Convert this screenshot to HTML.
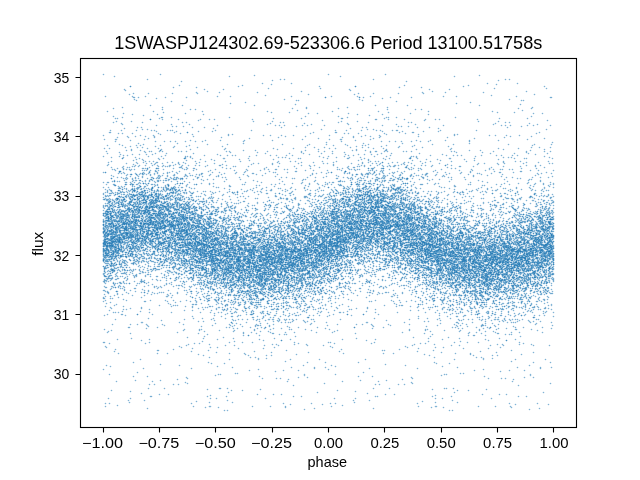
<!DOCTYPE html>
<html><head><meta charset="utf-8">
<style>
html,body{margin:0;padding:0;background:#fff;width:640px;height:480px;overflow:hidden}
svg{display:block;will-change:transform}
text{font-family:"Liberation Sans",sans-serif;fill:#000}
</style></head><body>
<svg width="640" height="480" viewBox="0 0 640 480">
<rect width="640" height="480" fill="#fff"/>
<defs><g id="a"><path d="M103 156h0m0 16h0m0 27h0m0 21h0m0 0h0m0 4h0m0 1h0m0 3h0m0 0h0m0 5h0m0 10h0m0 3h0m0 2h0m0 1h0m0 1h0m0 10h0m0 0h0m0 6h0m0 32h0m0 3h0m0 41h0m0 27h0m1-230h0m0 77h0m0 12h0m0 1h0m0 1h0m0 11h0m0 1h0m0 8h0m0 6h0m0 1h0m0 2h0m0 16h0m0 6h0m0 9h0m0 39h0m1-137h0m0 3h0m0 8h0m0 3h0m0 20h0m0 3h0m0 1h0m0 3h0m0 6h0m0 1h0m0 4h0m0 12h0m0 20h0m0 70h0m1-135h0m0 3h0m0 6h0m0 8h0m0 13h0m0 4h0m0 1h0m0 2h0m0 4h0m0 2h0m0 0h0m0 1h0m0 2h0m0 3h0m0 5h0m0 15h0m0 1h0m1-170h0m0 71h0m0 21h0m0 8h0m0 2h0m0 1h0m0 11h0m0 14h0m0 2h0m0 5h0m0 3h0m0 0h0m0 4h0m0 1h0m0 2h0m0 4h0m0 1h0m0 13h0m1-63h0m0 1h0m0 4h0m0 1h0m0 1h0m0 2h0m0 3h0m0 12h0m0 4h0m0 10h0m0 4h0m0 8h0m0 17h0m0 3h0m1-86h0m0 7h0m0 0h0m0 11h0m0 7h0m0 4h0m0 15h0m0 1h0m0 2h0m0 1h0m0 0h0m0 9h0m0 12h0m0 7h0m0 39h0m1-109h0m0 12h0m0 2h0m0 4h0m0 0h0m0 5h0m0 14h0m0 1h0m0 6h0m0 10h0m0 1h0m0 5h0m0 5h0m1-109h0m0 33h0m0 13h0m0 2h0m0 7h0m0 11h0m0 3h0m0 6h0m0 4h0m0 4h0m0 4h0m0 2h0m0 8h0m0 3h0m0 5h0m0 0h0m0 1h0m0 12h0m0 11h0m1-117h0m0 34h0m0 19h0m0 7h0m0 3h0m0 3h0m0 0h0m0 5h0m0 2h0m0 2h0m0 2h0m0 4h0m0 8h0m0 28h0m0 38h0m1-112h0m0 13h0m0 6h0m0 6h0m0 1h0m0 3h0m0 5h0m0 7h0m0 7h0m0 9h0m0 2h0m1-86h0m0 32h0m0 17h0m0 2h0m0 22h0m0 12h0m0 25h0m0 10h0m0 46h0m1-119h0m0 2h0m0 0h0m0 2h0m0 2h0m0 1h0m0 1h0m0 1h0m0 6h0m0 0h0m0 2h0m0 1h0m1-23h0m0 1h0m0 7h0m0 4h0m0 3h0m0 7h0m0 0h0m0 7h0m0 8h0m0 9h0m0 18h0m1-154h0m0 55h0m0 1h0m0 6h0m0 10h0m0 6h0m0 6h0m0 6h0m0 4h0m0 1h0m0 4h0m0 5h0m0 1h0m0 10h0m0 8h0m0 7h0m0 16h0m1-97h0m0 2h0m0 10h0m0 3h0m0 10h0m0 1h0m0 8h0m0 7h0m0 13h0m0 1h0m0 0h0m0 1h0m0 2h0m0 2h0m0 2h0m0 2h0m0 7h0m0 40h0m0 15h0m1-160h0m0 20h0m0 15h0m0 9h0m0 15h0m0 3h0m0 4h0m0 3h0m0 7h0m0 0h0m0 2h0m0 7h0m0 4h0m0 8h0m0 9h0m1-41h0m0 1h0m0 4h0m0 0h0m0 0h0m0 3h0m0 5h0m0 15h0m0 11h0m0 15h0m0 17h0m1-96h0m0 2h0m0 5h0m0 5h0m0 6h0m0 6h0m0 1h0m0 3h0m0 7h0m0 7h0m0 4h0m0 8h0m0 4h0m0 1h0m0 12h0m1-118h0m0 61h0m0 4h0m0 6h0m0 1h0m0 3h0m0 6h0m0 7h0m0 8h0m0 11h0m0 62h0m1-136h0m0 14h0m0 5h0m0 17h0m0 16h0m0 0h0m0 3h0m0 2h0m0 1h0m0 3h0m0 42h0m0 25h0m1-217h0m0 84h0m0 26h0m0 12h0m0 12h0m0 1h0m0 4h0m0 3h0m0 7h0m0 5h0m0 6h0m0 12h0m0 22h0m1-82h0m0 7h0m0 3h0m0 2h0m0 3h0m0 12h0m0 4h0m0 0h0m0 4h0m0 7h0m0 9h0m0 8h0m0 3h0m0 10h0m1-78h0m0 0h0m0 0h0m0 15h0m0 5h0m0 7h0m0 2h0m0 6h0m0 4h0m0 1h0m0 3h0m0 14h0m1-60h0m0 17h0m0 10h0m0 1h0m0 0h0m0 3h0m0 4h0m0 20h0m0 29h0m1-86h0m0 18h0m0 0h0m0 8h0m0 1h0m0 2h0m0 1h0m0 8h0m1-61h0m0 36h0m0 4h0m0 2h0m0 1h0m0 22h0m0 1h0m0 4h0m0 7h0m0 23h0m1-181h0m0 84h0m0 12h0m0 19h0m0 3h0m0 16h0m0 7h0m0 1h0m0 2h0m0 2h0m0 2h0m0 13h0m0 1h0m0 2h0m0 0h0m0 5h0m0 14h0m0 64h0m0 65h0m1-248h0m0 44h0m0 3h0m0 4h0m0 7h0m0 2h0m0 11h0m0 1h0m0 4h0m0 2h0m0 0h0m0 9h0m0 2h0m0 2h0m0 8h0m1-153h0m0 85h0m0 5h0m0 3h0m0 3h0m0 3h0m0 10h0m0 5h0m0 4h0m0 7h0m0 13h0m0 3h0m0 5h0m0 0h0m0 3h0m0 3h0m0 6h0m1-94h0m0 4h0m0 34h0m0 6h0m0 4h0m0 0h0m0 0h0m0 8h0m0 4h0m0 0h0m0 1h0m0 0h0m0 3h0m0 6h0m0 5h0m0 1h0m0 0h0m0 22h0m0 4h0m0 1h0m0 0h0m0 6h0m0 93h0m1-263h0m0 67h0m0 16h0m0 6h0m0 2h0m0 9h0m0 18h0m0 7h0m0 53h0m0 11h0m1-111h0m0 27h0m0 7h0m0 5h0m0 6h0m0 3h0m0 2h0m0 1h0m0 3h0m0 2h0m0 3h0m0 5h0m0 5h0m0 8h0m0 9h0m0 12h0m1-74h0m0 3h0m0 5h0m0 1h0m0 10h0m0 15h0m0 1h0m0 5h0m0 6h0m0 7h0m0 5h0m0 15h0m1-99h0m0 13h0m0 9h0m0 1h0m0 1h0m0 3h0m0 4h0m0 10h0m0 1h0m0 7h0m0 18h0m0 4h0m0 2h0m0 1h0m0 11h0m0 23h0m0 41h0m1-146h0m0 10h0m0 25h0m0 6h0m0 0h0m0 6h0m0 1h0m0 13h0m0 7h0m0 16h0m0 1h0m1-105h0m0 7h0m0 17h0m0 12h0m0 4h0m0 4h0m0 2h0m0 5h0m0 2h0m0 14h0m0 1h0m0 12h0m0 20h0m1-78h0m0 6h0m0 9h0m0 11h0m0 14h0m0 3h0m0 9h0m0 5h0m0 1h0m0 7h0m1-118h0m0 61h0m0 3h0m0 13h0m0 6h0m0 10h0m0 0h0m0 2h0m0 4h0m0 1h0m0 1h0m0 8h0m0 5h0m0 4h0m0 9h0m0 27h0m1-107h0m0 37h0m0 4h0m0 4h0m0 8h0m0 3h0m0 0h0m0 14h0m1-70h0m0 14h0m0 4h0m0 8h0m0 10h0m0 1h0m0 2h0m0 10h0m0 2h0m0 6h0m0 3h0m0 11h0m0 8h0m0 16h0m1-83h0m0 1h0m0 3h0m0 12h0m0 8h0m0 1h0m0 9h0m0 4h0m0 0h0m0 7h0m0 1h0m0 6h0m0 5h0m0 7h0m0 3h0m0 8h0m0 21h0m0 10h0m0 108h0m1-248h0m0 13h0m0 18h0m0 10h0m0 10h0m0 7h0m0 9h0m0 2h0m0 6h0m0 0h0m0 12h0m0 2h0m0 3h0m0 4h0m0 27h0m1-87h0m0 7h0m0 8h0m0 1h0m0 5h0m0 20h0m0 1h0m0 4h0m0 0h0m0 4h0m0 3h0m0 0h0m0 12h0m0 0h0m1-55h0m0 8h0m0 3h0m0 6h0m0 22h0m0 9h0m0 9h0m0 13h0m1-95h0m0 25h0m0 12h0m0 4h0m0 3h0m0 11h0m0 2h0m0 3h0m0 9h0m0 0h0m0 24h0m0 19h0m0 5h0m0 98h0m1-221h0m0 4h0m0 1h0m0 36h0m0 2h0m0 2h0m0 1h0m0 3h0m0 4h0m0 37h0m0 85h0m1-223h0m0 56h0m0 29h0m0 14h0m0 4h0m0 2h0m0 9h0m0 8h0m0 3h0m0 16h0m0 40h0m1-137h0m0 14h0m0 13h0m0 5h0m0 11h0m0 9h0m0 2h0m0 9h0m0 1h0m0 18h0m1-61h0m0 4h0m0 12h0m0 2h0m0 13h0m0 2h0m0 1h0m0 6h0m0 3h0m0 4h0m0 2h0m0 2h0m0 5h0m0 5h0m0 0h0m0 2h0m0 1h0m0 6h0m0 7h0m1-83h0m0 19h0m0 1h0m0 2h0m0 1h0m0 4h0m0 2h0m0 2h0m0 4h0m0 4h0m0 5h0m0 2h0m0 5h0m0 12h0m0 5h0m0 5h0m1-38h0m0 4h0m0 6h0m0 4h0m0 4h0m0 1h0m0 6h0m0 15h0m0 40h0m1-130h0m0 30h0m0 3h0m0 3h0m0 4h0m0 8h0m0 4h0m0 4h0m0 0h0m0 2h0m0 1h0m0 2h0m0 9h0m0 10h0m0 25h0m0 2h0m1-74h0m0 8h0m0 2h0m0 1h0m0 14h0m0 3h0m0 4h0m0 4h0m0 2h0m0 5h0m0 6h0m1-80h0m0 7h0m0 17h0m0 1h0m0 6h0m0 8h0m0 1h0m0 9h0m0 3h0m0 5h0m0 1h0m0 1h0m0 3h0m0 2h0m0 3h0m0 2h0m0 5h0m0 11h0m0 8h0m0 4h0m1-114h0m0 18h0m0 9h0m0 1h0m0 11h0m0 3h0m0 1h0m0 7h0m0 21h0m0 2h0m0 4h0m0 6h0m0 3h0m0 6h0m0 1h0m0 5h0m0 2h0m0 1h0m0 3h0m1-134h0m0 57h0m0 2h0m0 1h0m0 28h0m0 4h0m0 4h0m0 8h0m0 5h0m0 1h0m0 7h0m0 6h0m0 0h0m0 28h0m1-195h0m0 102h0m0 15h0m0 13h0m0 3h0m0 2h0m0 6h0m0 2h0m0 7h0m0 13h0m0 6h0m0 8h0m0 4h0m0 4h0m0 2h0m0 103h0m1-215h0m0 7h0m0 39h0m0 14h0m0 2h0m0 6h0m0 5h0m0 20h0m0 1h0m0 9h0m0 10h0m0 6h0m0 52h0m1-213h0m0 44h0m0 24h0m0 23h0m0 20h0m0 2h0m0 3h0m0 0h0m0 2h0m0 3h0m0 10h0m0 5h0m0 5h0m0 1h0m0 0h0m0 2h0m0 5h0m0 8h0m1-76h0m0 1h0m0 7h0m0 7h0m0 9h0m0 2h0m0 2h0m0 4h0m0 5h0m0 2h0m0 6h0m0 3h0m0 6h0m0 6h0m0 7h0m0 8h0m1-60h0m0 15h0m0 10h0m0 3h0m0 2h0m0 6h0m0 3h0m0 1h0m0 3h0m0 2h0m0 14h0m0 126h0m1-197h0m0 5h0m0 25h0m0 4h0m0 1h0m0 4h0m0 1h0m0 3h0m0 3h0m0 11h0m0 7h0m0 4h0m1-106h0m0 25h0m0 9h0m0 0h0m0 3h0m0 5h0m0 4h0m0 0h0m0 5h0m0 4h0m0 12h0m0 11h0m0 14h0m0 15h0m0 20h0m0 16h0m1-112h0m0 9h0m0 4h0m0 4h0m0 5h0m0 2h0m0 1h0m0 1h0m0 10h0m0 6h0m0 11h0m0 14h0m0 14h0m0 31h0m1-117h0m0 1h0m0 5h0m0 12h0m0 10h0m0 4h0m0 0h0m0 0h0m0 10h0m0 9h0m0 5h0m0 5h0m0 1h0m0 4h0m0 1h0m0 8h0m0 19h0m1-108h0m0 1h0m0 41h0m0 4h0m0 3h0m0 3h0m0 5h0m0 7h0m0 2h0m0 1h0m0 9h0m0 3h0m0 1h0m0 22h0m0 16h0m1-118h0m0 27h0m0 4h0m0 10h0m0 2h0m0 0h0m0 0h0m0 3h0m0 5h0m0 1h0m0 9h0m0 1h0m0 4h0m0 1h0m0 0h0m0 6h0m0 1h0m1-28h0m0 3h0m0 1h0m0 3h0m0 0h0m0 7h0m0 9h0m0 1h0m0 17h0m1-122h0m0 60h0m0 13h0m0 1h0m0 10h0m0 2h0m0 1h0m0 8h0m0 1h0m0 9h0m0 3h0m0 13h0m0 44h0m1-148h0m0 18h0m0 3h0m0 45h0m0 14h0m0 30h0m0 3h0m0 8h0m1-80h0m0 32h0m0 9h0m0 9h0m0 0h0m0 3h0m0 25h0m1-79h0m0 3h0m0 2h0m0 16h0m0 1h0m0 3h0m0 3h0m0 2h0m0 9h0m0 9h0m0 6h0m0 1h0m0 1h0m0 1h0m0 5h0m0 1h0m0 1h0m1-125h0m0 46h0m0 19h0m0 1h0m0 20h0m0 6h0m0 6h0m0 9h0m0 0h0m0 1h0m0 18h0m0 2h0m0 18h0m0 13h0m1-104h0m0 21h0m0 3h0m0 15h0m0 1h0m0 4h0m0 3h0m0 3h0m0 2h0m0 11h0m0 49h0m0 12h0m0 74h0m1-186h0m0 1h0m0 15h0m0 14h0m0 1h0m0 4h0m0 2h0m0 2h0m0 4h0m0 1h0m0 15h0m0 6h0m0 16h0m0 11h0m1-86h0m0 4h0m0 1h0m0 1h0m0 3h0m0 10h0m0 6h0m0 4h0m0 6h0m0 9h0m0 12h0m0 67h0m1-125h0m0 3h0m0 16h0m0 11h0m0 4h0m0 0h0m0 2h0m0 3h0m0 3h0m0 1h0m0 7h0m1-166h0m0 70h0m0 15h0m0 1h0m0 37h0m0 2h0m0 6h0m0 4h0m0 14h0m0 3h0m0 3h0m0 3h0m0 0h0m0 3h0m0 11h0m0 7h0m0 14h0m0 11h0m1-107h0m0 5h0m0 14h0m0 2h0m0 12h0m0 6h0m0 6h0m0 3h0m0 1h0m0 7h0m0 1h0m0 11h0m0 28h0m1-82h0m0 19h0m0 5h0m0 2h0m0 1h0m0 11h0m0 9h0m0 7h0m0 5h0m0 30h0m1-112h0m0 32h0m0 17h0m0 0h0m0 2h0m0 3h0m0 7h0m0 3h0m0 4h0m0 0h0m0 1h0m0 2h0m0 11h0m0 12h0m0 27h0m1-177h0m0 44h0m0 33h0m0 13h0m0 5h0m0 22h0m0 5h0m0 9h0m0 1h0m0 18h0m1-141h0m0 29h0m0 18h0m0 33h0m0 3h0m0 3h0m0 4h0m0 18h0m0 1h0m0 3h0m0 15h0m0 14h0m0 37h0m1-85h0m0 2h0m0 1h0m0 2h0m0 14h0m0 8h0m0 3h0m0 0h0m0 2h0m0 2h0m0 3h0m0 2h0m1-29h0m0 3h0m0 1h0m0 5h0m0 10h0m0 1h0m0 2h0m0 2h0m0 0h0m0 12h0m0 4h0m1-92h0m0 9h0m0 20h0m0 2h0m0 5h0m0 8h0m0 1h0m0 11h0m0 4h0m0 6h0m0 0h0m0 3h0m0 2h0m0 45h0m1-56h0m0 2h0m0 1h0m0 7h0m0 6h0m0 8h0m0 2h0m0 8h0m0 6h0m0 18h0m1-79h0m0 7h0m0 1h0m0 11h0m0 4h0m0 5h0m0 5h0m0 1h0m0 12h0m0 10h0m0 23h0m1-164h0m0 77h0m0 8h0m0 2h0m0 5h0m0 10h0m0 1h0m0 8h0m0 6h0m0 3h0m0 0h0m0 3h0m0 14h0m0 15h0m0 0h0m0 28h0m1-171h0m0 70h0m0 15h0m0 0h0m0 5h0m0 25h0m0 10h0m0 14h0m0 2h0m0 41h0m1-100h0m0 7h0m0 3h0m0 4h0m0 7h0m0 0h0m0 4h0m0 9h0m0 4h0m0 6h0m0 23h0m1-124h0m0 59h0m0 13h0m0 1h0m0 4h0m0 1h0m0 3h0m0 1h0m0 7h0m0 50h0m1-131h0m0 40h0m0 21h0m0 16h0m0 0h0m0 14h0m0 12h0m0 19h0m1-114h0m0 44h0m0 18h0m0 3h0m0 1h0m0 1h0m0 0h0m0 4h0m0 6h0m0 2h0m0 21h0m1-60h0m0 7h0m0 10h0m0 11h0m0 7h0m0 6h0m0 7h0m0 2h0m0 5h0m0 1h0m0 19h0m0 16h0m1-93h0m0 6h0m0 11h0m0 1h0m0 5h0m0 4h0m0 2h0m0 0h0m0 0h0m0 4h0m0 20h0m0 2h0m0 4h0m0 3h0m1-59h0m0 4h0m0 1h0m0 4h0m0 0h0m0 6h0m0 0h0m0 17h0m0 1h0m0 2h0m0 6h0m0 8h0m0 11h0m0 34h0m1-138h0m0 27h0m0 7h0m0 7h0m0 0h0m0 9h0m0 2h0m0 8h0m0 2h0m0 6h0m0 4h0m0 1h0m0 8h0m0 2h0m0 9h0m0 2h0m0 1h0m0 1h0m0 10h0m0 3h0m1-55h0m0 6h0m0 4h0m0 10h0m0 4h0m0 7h0m0 2h0m0 8h0m1-155h0m0 95h0m0 1h0m0 8h0m0 3h0m0 10h0m0 6h0m0 1h0m0 5h0m0 10h0m0 10h0m0 3h0m0 1h0m0 18h0m0 36h0m0 17h0m1-211h0m0 92h0m0 4h0m0 6h0m0 8h0m0 1h0m0 3h0m0 3h0m0 1h0m0 4h0m0 1h0m0 2h0m0 5h0m0 2h0m0 17h0m1-115h0m0 59h0m0 13h0m0 2h0m0 1h0m0 2h0m0 1h0m0 5h0m0 11h0m0 6h0m0 6h0m0 2h0m0 1h0m0 0h0m0 16h0m1-86h0m0 12h0m0 4h0m0 6h0m0 8h0m0 5h0m0 7h0m0 3h0m0 3h0m0 5h0m0 2h0m0 8h0m0 1h0m0 6h0m0 3h0m1-129h0m0 74h0m0 10h0m0 5h0m0 4h0m0 1h0m0 2h0m0 4h0m0 3h0m0 6h0m0 20h0m0 3h0m0 19h0m0 12h0m1-89h0m0 12h0m0 3h0m0 7h0m0 6h0m0 7h0m0 4h0m0 4h0m0 30h0m0 7h0m0 6h0m1-120h0m0 32h0m0 10h0m0 1h0m0 7h0m0 1h0m0 2h0m0 9h0m0 5h0m0 4h0m0 0h0m0 5h0m0 0h0m0 16h0m0 7h0m0 61h0m1-130h0m0 3h0m0 9h0m0 1h0m0 13h0m0 1h0m0 6h0m0 1h0m0 5h0m0 5h0m0 17h0m0 8h0m0 3h0m0 2h0m0 1h0m0 17h0m0 89h0m1-199h0m0 1h0m0 9h0m0 1h0m0 18h0m0 2h0m0 9h0m0 8h0m0 8h0m0 1h0m0 7h0m0 2h0m0 4h0m0 16h0m1-110h0m0 29h0m0 31h0m0 1h0m0 8h0m0 6h0m0 10h0m0 3h0m0 1h0m0 0h0m0 8h0m0 1h0m0 1h0m0 11h0m0 1h0m1-90h0m0 34h0m0 19h0m0 3h0m0 9h0m0 0h0m0 2h0m0 0h0m0 1h0m0 0h0m0 0h0m0 2h0m0 8h0m0 0h0m0 18h0m1-126h0m0 50h0m0 17h0m0 1h0m0 7h0m0 11h0m0 12h0m0 8h0m0 1h0m0 8h0m0 35h0m0 2h0m1-185h0m0 81h0m0 4h0m0 8h0m0 5h0m0 10h0m0 4h0m0 12h0m0 9h0m0 1h0m0 1h0m0 7h0m0 6h0m0 4h0m0 9h0m0 8h0m1-79h0m0 0h0m0 10h0m0 3h0m0 1h0m0 3h0m0 0h0m0 2h0m0 1h0m0 10h0m0 19h0m0 9h0m0 26h0m1-150h0m0 55h0m0 3h0m0 12h0m0 6h0m0 5h0m0 3h0m0 4h0m0 6h0m0 12h0m0 0h0m0 1h0m0 5h0m0 1h0m0 6h0m0 66h0m0 27h0m1-142h0m0 14h0m0 12h0m0 5h0m0 10h0m0 8h0m0 4h0m0 22h0m0 8h0m1-90h0m0 4h0m0 28h0m0 13h0m0 45h0m0 23h0m0 58h0m1-223h0m0 90h0m0 0h0m0 11h0m0 2h0m0 14h0m0 3h0m0 3h0m0 0h0m1-54h0m0 2h0m0 13h0m0 1h0m0 3h0m0 0h0m0 2h0m0 6h0m0 0h0m0 1h0m0 1h0m0 1h0m0 4h0m0 15h0m0 29h0m1-113h0m0 21h0m0 11h0m0 2h0m0 4h0m0 32h0m0 40h0m1-92h0m0 24h0m0 3h0m0 12h0m0 9h0m0 7h0m0 0h0m0 1h0m0 1h0m0 8h0m0 55h0m1-120h0m0 2h0m0 23h0m0 7h0m0 1h0m0 5h0m0 9h0m0 7h0m0 7h0m0 10h0m0 0h0m0 21h0m0 54h0m1-162h0m0 27h0m0 1h0m0 0h0m0 6h0m0 6h0m0 1h0m0 10h0m0 1h0m0 6h0m0 0h0m0 3h0m0 7h0m0 17h0m0 14h0m0 18h0m1-80h0m0 4h0m0 0h0m0 1h0m0 3h0m0 2h0m0 4h0m0 4h0m0 4h0m0 9h0m0 0h0m0 6h0m0 8h0m0 2h0m1-83h0m0 41h0m0 2h0m0 0h0m0 7h0m0 1h0m0 17h0m0 0h0m0 10h0m0 2h0m1-76h0m0 15h0m0 0h0m0 3h0m0 7h0m0 6h0m0 11h0m0 0h0m0 4h0m0 11h0m0 3h0m0 7h0m0 22h0m0 6h0m1-150h0m0 45h0m0 23h0m0 8h0m0 21h0m0 4h0m0 8h0m0 1h0m0 3h0m0 3h0m0 5h0m0 20h0m1-124h0m0 63h0m0 6h0m0 5h0m0 9h0m0 9h0m0 6h0m0 8h0m0 6h0m0 1h0m0 5h0m1-75h0m0 23h0m0 5h0m0 8h0m0 8h0m0 9h0m0 7h0m0 1h0m0 13h0m0 5h0m0 10h0m0 13h0m1-158h0m0 37h0m0 37h0m0 4h0m0 3h0m0 16h0m0 4h0m0 0h0m0 0h0m0 8h0m0 5h0m0 6h0m0 3h0m0 1h0m1-62h0m0 27h0m0 2h0m0 6h0m0 9h0m0 23h0m0 6h0m1-120h0m0 59h0m0 0h0m0 3h0m0 3h0m0 10h0m0 4h0m0 4h0m0 2h0m0 1h0m0 1h0m0 12h0m0 1h0m0 14h0m0 3h0m0 7h0m0 3h0m0 6h0m1-130h0m0 21h0m0 12h0m0 1h0m0 5h0m0 8h0m0 10h0m0 2h0m0 9h0m0 6h0m0 6h0m0 18h0m0 4h0m0 8h0m0 3h0m0 9h0m0 78h0m1-201h0m0 61h0m0 2h0m0 5h0m0 0h0m0 1h0m0 18h0m0 3h0m0 3h0m0 30h0m1-103h0m0 25h0m0 16h0m0 13h0m0 3h0m0 0h0m0 7h0m0 3h0m0 1h0m0 1h0m0 6h0m0 42h0m0 19h0m1-242h0m0 142h0m0 18h0m0 10h0m0 2h0m0 1h0m0 6h0m0 1h0m0 2h0m0 5h0m0 4h0m0 3h0m1-64h0m0 10h0m0 21h0m0 4h0m0 11h0m0 3h0m0 2h0m0 2h0m0 0h0m0 1h0m0 4h0m0 2h0m0 1h0m0 15h0m0 13h0m1-109h0m0 36h0m0 2h0m0 3h0m0 7h0m0 1h0m0 2h0m0 10h0m0 5h0m0 3h0m0 1h0m0 9h0m0 19h0m0 0h0m1-85h0m0 20h0m0 20h0m0 14h0m0 0h0m0 7h0m0 2h0m0 3h0m0 2h0m0 5h0m0 2h0m0 7h0m1-98h0m0 27h0m0 24h0m0 9h0m0 2h0m0 1h0m0 35h0m0 35h0m1-125h0m0 31h0m0 3h0m0 6h0m0 2h0m0 7h0m0 1h0m0 2h0m0 1h0m0 1h0m0 1h0m0 3h0m0 4h0m0 2h0m0 17h0m0 29h0m0 22h0m0 2h0m1-195h0m0 85h0m0 23h0m0 1h0m0 0h0m0 3h0m0 6h0m0 11h0m0 1h0m0 2h0m0 8h0m0 2h0m0 2h0m1-102h0m0 50h0m0 9h0m0 9h0m0 9h0m0 1h0m0 13h0m0 1h0m0 11h0m1-75h0m0 20h0m0 4h0m0 2h0m0 27h0m0 17h0m0 3h0m0 12h0m0 19h0m1-124h0m0 15h0m0 25h0m0 5h0m0 7h0m0 9h0m0 12h0m0 1h0m0 2h0m0 1h0m0 3h0m0 3h0m0 10h0m0 2h0m0 6h0m0 8h0m0 20h0m1-143h0m0 20h0m0 7h0m0 3h0m0 4h0m0 18h0m0 15h0m0 2h0m0 2h0m0 3h0m0 1h0m0 2h0m0 7h0m0 3h0m0 3h0m0 5h0m0 16h0m0 68h0m1-195h0m0 65h0m0 7h0m0 12h0m0 1h0m0 0h0m0 7h0m0 7h0m0 7h0m0 6h0m0 5h0m0 10h0m0 19h0m1-86h0m0 9h0m0 8h0m0 10h0m0 1h0m0 0h0m0 1h0m0 6h0m0 1h0m0 4h0m0 17h0m0 17h0m0 20h0m1-76h0m0 7h0m0 1h0m0 0h0m0 8h0m0 2h0m0 1h0m0 9h0m0 0h0m0 9h0m0 6h0m0 10h0m0 4h0m0 6h0m0 31h0m1-142h0m0 15h0m0 28h0m0 9h0m0 1h0m0 4h0m0 6h0m0 5h0m0 2h0m0 10h0m0 32h0m1-181h0m0 59h0m0 41h0m0 4h0m0 13h0m0 3h0m0 5h0m0 1h0m0 1h0m0 2h0m0 1h0m0 0h0m0 2h0m0 1h0m0 2h0m0 0h0m0 8h0m0 2h0m0 1h0m0 12h0m1-174h0m0 132h0m0 12h0m0 4h0m0 2h0m0 2h0m0 5h0m0 2h0m0 18h0m0 11h0m0 0h0m1-53h0m0 6h0m0 3h0m0 1h0m0 16h0m0 29h0m1-140h0m0 19h0m0 76h0m0 1h0m0 1h0m0 3h0m0 10h0m0 0h0m0 2h0m0 9h0m0 1h0m0 23h0m0 4h0m0 2h0m0 14h0m0 13h0m1-152h0m0 53h0m0 13h0m0 23h0m0 22h0m0 3h0m0 2h0m0 9h0m1-81h0m0 7h0m0 1h0m0 5h0m0 9h0m0 1h0m0 5h0m0 12h0m0 13h0m0 0h0m0 11h0m0 2h0m0 34h0m0 33h0m0 1h0m1-174h0m0 38h0m0 9h0m0 0h0m0 7h0m0 0h0m0 18h0m0 2h0m0 2h0m0 0h0m0 0h0m0 0h0m0 6h0m0 2h0m0 2h0m0 7h0m1-87h0m0 41h0m0 2h0m0 5h0m0 5h0m0 15h0m0 1h0m0 1h0m0 4h0m0 4h0m0 4h0m0 2h0m0 7h0m0 10h0m0 7h0m0 24h0m1-80h0m0 3h0m0 1h0m0 4h0m0 7h0m0 13h0m0 8h0m0 7h0m1-111h0m0 61h0m0 8h0m0 4h0m0 6h0m0 4h0m0 0h0m0 1h0m0 5h0m0 10h0m0 1h0m0 1h0m0 8h0m0 1h0m0 6h0m1-71h0m0 0h0m0 12h0m0 0h0m0 7h0m0 6h0m0 10h0m0 2h0m0 3h0m0 0h0m0 3h0m0 4h0m0 22h0m0 5h0m0 0h0m0 1h0m0 4h0m0 17h0m1-85h0m0 2h0m0 2h0m0 10h0m0 2h0m0 1h0m0 1h0m0 1h0m0 8h0m0 12h0m0 9h0m0 3h0m0 3h0m1-64h0m0 12h0m0 19h0m0 2h0m0 0h0m0 14h0m0 4h0m0 6h0m0 6h0m0 4h0m0 8h0m0 31h0m1-99h0m0 5h0m0 11h0m0 5h0m0 3h0m0 1h0m0 3h0m0 1h0m0 5h0m0 10h0m0 0h0m0 0h0m0 6h0m0 3h0m1-67h0m0 11h0m0 17h0m0 2h0m0 5h0m0 3h0m0 0h0m0 1h0m0 4h0m0 5h0m0 2h0m0 4h0m0 6h0m0 2h0m0 2h0m0 19h0m1-84h0m0 15h0m0 21h0m0 3h0m0 3h0m0 1h0m0 1h0m0 0h0m0 3h0m0 1h0m0 12h0m0 14h0m0 2h0m0 3h0m1-121h0m0 53h0m0 7h0m0 4h0m0 4h0m0 7h0m0 3h0m0 7h0m0 7h0m0 0h0m0 16h0m0 4h0m0 5h0m1-165h0m0 94h0m0 34h0m0 6h0m0 1h0m0 6h0m0 5h0m0 2h0m0 4h0m1-191h0m0 142h0m0 16h0m0 4h0m0 9h0m0 1h0m0 1h0m0 2h0m0 2h0m0 0h0m0 3h0m0 17h0m0 5h0m0 10h0m0 4h0m1-67h0m0 4h0m0 2h0m0 15h0m0 5h0m0 1h0m0 3h0m0 3h0m0 9h0m0 7h0m0 51h0m1-122h0m0 14h0m0 12h0m0 10h0m0 3h0m0 20h0m0 4h0m0 11h0m0 1h0m0 2h0m0 2h0m0 2h0m0 3h0m1-81h0m0 7h0m0 29h0m0 12h0m0 4h0m0 5h0m0 3h0m0 10h0m0 3h0m0 0h0m0 5h0m0 6h0m0 40h0m1-169h0m0 43h0m0 17h0m0 14h0m0 0h0m0 10h0m0 4h0m0 0h0m0 32h0m0 82h0m1-160h0m0 30h0m0 9h0m0 6h0m0 12h0m0 1h0m0 0h0m0 13h0m0 9h0m1-117h0m0 47h0m0 5h0m0 4h0m0 2h0m0 8h0m0 11h0m0 1h0m0 15h0m0 2h0m0 2h0m0 1h0m0 2h0m0 1h0m0 4h0m0 30h0m0 11h0m1-163h0m0 42h0m0 4h0m0 24h0m0 20h0m0 8h0m0 2h0m0 1h0m0 3h0m0 1h0m0 2h0m0 11h0m0 10h0m0 6h0m0 30h0m1-158h0m0 16h0m0 48h0m0 15h0m0 1h0m0 3h0m0 2h0m0 7h0m0 2h0m0 1h0m0 2h0m0 9h0m0 8h0m0 0h0m1-80h0m0 28h0m0 14h0m0 5h0m0 0h0m0 10h0m0 4h0m0 1h0m0 2h0m0 2h0m0 7h0m0 1h0m0 3h0m0 1h0m0 1h0m0 0h0m0 40h0m1-181h0m0 42h0m0 60h0m0 12h0m0 3h0m0 2h0m0 4h0m0 14h0m0 9h0m0 1h0m0 6h0m0 17h0m0 35h0m0 54h0m1-163h0m0 5h0m0 1h0m0 1h0m0 3h0m0 0h0m0 5h0m0 3h0m0 6h0m0 10h0m0 5h0m1-72h0m0 21h0m0 12h0m0 11h0m0 3h0m0 16h0m0 1h0m0 4h0m0 2h0m0 12h0m0 10h0m0 12h0m0 0h0m0 4h0m1-79h0m0 6h0m0 7h0m0 4h0m0 15h0m0 8h0m0 2h0m0 2h0m0 3h0m0 3h0m1-88h0m0 2h0m0 39h0m0 10h0m0 0h0m0 5h0m0 4h0m0 1h0m0 6h0m0 6h0m0 4h0m0 5h0m0 1h0m0 3h0m0 0h0m0 17h0m0 23h0m0 5h0m0 86h0m1-200h0m0 44h0m0 6h0m0 1h0m0 3h0m0 12h0m0 7h0m1-57h0m0 13h0m0 1h0m0 10h0m0 3h0m0 11h0m0 3h0m0 4h0m0 1h0m0 13h0m0 5h0m0 1h0m0 1h0m0 6h0m1-89h0m0 19h0m0 2h0m0 8h0m0 2h0m0 13h0m0 5h0m0 9h0m0 6h0m0 11h0m0 3h0m0 5h0m0 8h0m0 12h0m0 14h0m0 57h0m1-178h0m0 8h0m0 16h0m0 3h0m0 20h0m0 1h0m0 5h0m0 9h0m0 2h0m0 1h0m0 1h0m0 6h0m0 25h0m0 15h0m1-152h0m0 32h0m0 50h0m0 4h0m0 4h0m0 1h0m0 1h0m0 3h0m0 6h0m0 13h0m0 64h0m0 65h0m1-308h0m0 91h0m0 23h0m0 18h0m0 2h0m0 4h0m0 15h0m0 0h0m0 2h0m0 3h0m0 1h0m0 0h0m0 1h0m0 12h0m0 10h0m0 29h0m1-152h0m0 36h0m0 21h0m0 16h0m0 4h0m0 8h0m0 7h0m0 4h0m0 1h0m0 1h0m0 5h0m0 5h0m0 2h0m0 1h0m0 1h0m0 3h0m0 10h0m0 6h0m0 12h0m0 23h0m1-102h0m0 1h0m0 9h0m0 4h0m0 4h0m0 1h0m0 0h0m0 6h0m0 6h0m0 1h0m0 2h0m0 1h0m0 3h0m0 7h0m0 4h0m0 3h0m0 8h0m0 6h0m1-72h0m0 28h0m0 8h0m0 1h0m0 5h0m0 2h0m0 7h0m0 2h0m0 6h0m0 7h0m0 12h0m1-130h0m0 10h0m0 27h0m0 1h0m0 27h0m0 10h0m0 2h0m0 3h0m0 10h0m0 7h0m0 0h0m0 1h0m0 2h0m0 3h0m0 21h0m0 13h0m1-172h0m0 93h0m0 8h0m0 9h0m0 20h0m0 1h0m0 4h0m0 16h0m0 1h0m0 2h0m0 2h0m0 13h0m0 20h0m1-105h0m0 18h0m0 10h0m0 0h0m0 1h0m0 1h0m0 8h0m0 9h0m0 0h0m0 4h0m0 5h0m0 2h0m0 12h0m0 4h0m0 11h0m1-92h0m0 11h0m0 3h0m0 9h0m0 6h0m0 1h0m0 21h0m0 6h0m0 2h0m0 0h0m0 2h0m0 2h0m0 4h0m0 1h0m0 4h0m0 7h0m0 61h0m1-139h0m0 17h0m0 22h0m0 1h0m0 5h0m0 1h0m0 3h0m0 2h0m0 2h0m0 9h0m0 4h0m0 1h0m0 9h0m1-47h0m0 3h0m0 4h0m0 5h0m0 2h0m0 1h0m0 1h0m0 7h0m0 2h0m0 10h0m0 19h0m0 1h0m0 6h0m0 11h0m1-154h0m0 11h0m0 46h0m0 0h0m0 4h0m0 19h0m0 1h0m0 4h0m0 14h0m0 1h0m0 9h0m0 1h0m0 2h0m0 18h0m0 2h0m0 6h0m0 8h0m1-80h0m0 0h0m0 3h0m0 13h0m0 8h0m0 13h0m0 0h0m0 1h0m0 2h0m0 12h0m0 7h0m0 8h0m0 27h0m1-92h0m0 14h0m0 12h0m0 2h0m0 0h0m0 2h0m0 4h0m0 1h0m0 2h0m0 3h0m0 3h0m0 5h0m0 12h0m0 6h0m0 25h0m1-187h0m0 86h0m0 9h0m0 16h0m0 20h0m0 3h0m0 6h0m0 3h0m0 55h0m1-136h0m0 18h0m0 18h0m0 15h0m0 1h0m0 9h0m0 2h0m0 3h0m0 2h0m0 15h0m0 5h0m0 1h0m0 5h0m0 3h0m0 6h0m0 10h0m0 0h0m0 7h0m1-83h0m0 3h0m0 5h0m0 0h0m0 19h0m0 4h0m0 2h0m0 14h0m0 15h0m0 6h0m0 6h0m0 8h0m1-86h0m0 10h0m0 9h0m0 15h0m0 12h0m0 6h0m0 0h0m0 2h0m0 35h0m1-194h0m0 73h0m0 40h0m0 7h0m0 3h0m0 10h0m0 10h0m0 1h0m0 0h0m0 1h0m0 0h0m0 3h0m0 4h0m0 1h0m0 5h0m1-78h0m0 5h0m0 18h0m0 12h0m0 7h0m0 2h0m0 1h0m0 1h0m0 0h0m0 1h0m0 4h0m0 0h0m0 0h0m0 1h0m0 17h0m0 6h0m0 3h0m0 2h0m0 2h0m0 17h0m0 15h0m1-91h0m0 8h0m0 14h0m0 3h0m0 14h0m0 22h0m0 8h0m0 39h0m1-107h0m0 6h0m0 7h0m0 3h0m0 0h0m0 0h0m0 10h0m0 1h0m0 2h0m0 0h0m0 3h0m0 1h0m0 7h0m0 8h0m0 39h0m0 19h0m1-112h0m0 28h0m0 3h0m0 12h0m0 7h0m0 1h0m0 5h0m0 3h0m0 4h0m0 4h0m0 3h0m0 2h0m0 1h0m0 22h0m1-136h0m0 46h0m0 14h0m0 3h0m0 4h0m0 1h0m0 3h0m0 0h0m0 2h0m0 3h0m0 14h0m0 3h0m0 4h0m0 3h0m0 9h0m1-62h0m0 13h0m0 0h0m0 1h0m0 0h0m0 5h0m0 3h0m0 1h0m0 9h0m0 6h0m0 23h0m1-101h0m0 32h0m0 1h0m0 10h0m0 3h0m0 12h0m0 7h0m0 2h0m0 18h0m0 5h0m0 2h0m0 16h0m1-63h0m0 4h0m0 21h0m0 2h0m0 5h0m0 7h0m0 3h0m0 2h0m0 15h0m0 4h0m1-73h0m0 7h0m0 3h0m0 4h0m0 14h0m0 2h0m0 8h0m0 1h0m0 3h0m0 8h0m0 1h0m0 17h0m1-96h0m0 12h0m0 4h0m0 16h0m0 6h0m0 3h0m0 5h0m0 22h0m0 0h0m0 9h0m0 0h0m0 2h0m0 8h0m0 5h0m0 7h0m0 28h0m1-116h0m0 37h0m0 3h0m0 0h0m0 6h0m0 5h0m0 2h0m0 5h0m0 0h0m0 0h0m0 1h0m0 5h0m0 5h0m0 7h0m0 4h0m1-68h0m0 2h0m0 13h0m0 1h0m0 6h0m0 16h0m0 1h0m0 3h0m0 7h0m0 4h0m0 5h0m0 5h0m0 3h0m0 3h0m0 13h0m0 0h0m1-117h0m0 34h0m0 9h0m0 14h0m0 7h0m0 1h0m0 2h0m0 6h0m0 24h0m0 3h0m0 5h0m0 2h0m0 32h0m1-101h0m0 7h0m0 2h0m0 9h0m0 10h0m0 2h0m0 2h0m0 1h0m0 1h0m0 3h0m0 4h0m0 7h0m0 29h0m0 9h0m1-119h0m0 13h0m0 18h0m0 14h0m0 6h0m0 5h0m0 15h0m0 12h0m0 5h0m0 0h0m1-62h0m0 5h0m0 13h0m0 1h0m0 5h0m0 23h0m0 1h0m0 4h0m0 1h0m0 3h0m0 3h0m0 7h0m0 13h0m1-85h0m0 0h0m0 16h0m0 6h0m0 4h0m0 0h0m0 3h0m0 1h0m0 12h0m0 0h0m0 11h0m0 1h0m0 2h0m0 3h0m0 0h0m0 10h0m0 2h0m0 4h0m0 1h0m0 1h0m1-62h0m0 0h0m0 23h0m0 5h0m0 7h0m0 1h0m0 3h0m0 2h0m0 3h0m0 15h0m0 18h0m0 20h0m0 13h0m1-159h0m0 31h0m0 23h0m0 2h0m0 0h0m0 16h0m0 2h0m0 5h0m0 1h0m0 0h0m0 0h0m0 34h0m1-81h0m0 33h0m0 6h0m0 2h0m0 11h0m0 6h0m0 1h0m0 4h0m0 3h0m0 1h0m0 1h0m0 10h0m0 38h0"/><path d="M103 187h0m0 19h0m0 7h0m0 8h0m0 4h0m0 3h0m0 4h0m0 4h0m0 7h0m0 5h0m0 2h0m0 1h0m0 8h0m0 0h0m0 1h0m0 14h0m0 7h0m1-133h0m0 78h0m0 4h0m0 4h0m0 1h0m0 6h0m0 4h0m0 6h0m0 6h0m0 13h0m0 1h0m0 8h0m0 15h0m0 21h0m1-104h0m0 2h0m0 2h0m0 11h0m0 10h0m0 3h0m0 2h0m0 0h0m0 4h0m0 5h0m0 1h0m0 1h0m0 1h0m0 13h0m0 10h0m0 24h0m0 103h0m1-207h0m0 18h0m0 8h0m0 3h0m0 17h0m0 0h0m0 19h0m0 2h0m0 15h0m0 25h0m0 62h0m1-212h0m0 37h0m0 15h0m0 15h0m0 1h0m0 9h0m0 6h0m0 7h0m0 1h0m0 4h0m0 0h0m0 15h0m0 29h0m0 40h0m1-170h0m0 2h0m0 18h0m0 20h0m0 1h0m0 16h0m0 7h0m0 1h0m0 7h0m0 16h0m0 1h0m0 4h0m1-51h0m0 3h0m0 0h0m0 2h0m0 0h0m0 12h0m0 2h0m0 20h0m0 0h0m0 2h0m0 6h0m1-121h0m0 71h0m0 16h0m0 7h0m0 3h0m0 1h0m0 2h0m0 13h0m0 3h0m0 2h0m0 1h0m0 20h0m0 2h0m0 2h0m0 25h0m0 4h0m1-127h0m0 3h0m0 15h0m0 12h0m0 3h0m0 8h0m0 2h0m0 20h0m0 4h0m0 2h0m0 0h0m0 1h0m0 1h0m0 2h0m0 10h0m0 5h0m0 0h0m0 2h0m0 13h0m1-79h0m0 1h0m0 11h0m0 13h0m0 6h0m0 3h0m0 4h0m0 0h0m0 1h0m0 1h0m0 2h0m0 1h0m0 3h0m0 1h0m0 2h0m0 3h0m0 3h0m0 3h0m0 8h0m0 7h0m1-88h0m0 9h0m0 30h0m0 1h0m0 1h0m0 7h0m0 4h0m0 6h0m0 5h0m0 3h0m0 2h0m0 1h0m0 1h0m0 10h0m1-95h0m0 12h0m0 20h0m0 1h0m0 2h0m0 16h0m0 6h0m0 5h0m0 1h0m0 5h0m0 0h0m0 4h0m0 0h0m0 5h0m0 1h0m0 24h0m0 13h0m1-90h0m0 19h0m0 0h0m0 12h0m0 3h0m0 1h0m0 3h0m0 0h0m0 3h0m0 6h0m0 3h0m0 1h0m0 1h0m0 0h0m0 1h0m0 7h0m0 29h0m0 29h0m0 7h0m1-198h0m0 77h0m0 12h0m0 3h0m0 1h0m0 1h0m0 23h0m0 13h0m0 0h0m0 24h0m1-157h0m0 50h0m0 30h0m0 4h0m0 14h0m0 6h0m0 5h0m0 8h0m0 0h0m0 2h0m0 1h0m0 2h0m0 8h0m0 3h0m0 10h0m0 11h0m0 67h0m1-149h0m0 3h0m0 3h0m0 7h0m0 2h0m0 2h0m0 5h0m0 4h0m0 0h0m0 5h0m0 14h0m0 3h0m0 1h0m0 11h0m0 3h0m0 0h0m0 1h0m0 24h0m0 8h0m0 67h0m1-165h0m0 16h0m0 16h0m0 6h0m0 5h0m0 0h0m0 4h0m0 5h0m0 1h0m0 7h0m0 1h0m0 12h0m1-107h0m0 17h0m0 21h0m0 20h0m0 1h0m0 18h0m0 3h0m0 3h0m0 2h0m0 4h0m0 13h0m0 10h0m0 1h0m0 9h0m0 6h0m1-152h0m0 73h0m0 8h0m0 8h0m0 2h0m0 6h0m0 7h0m0 5h0m0 0h0m0 7h0m0 18h0m0 1h0m0 8h0m1-166h0m0 10h0m0 50h0m0 30h0m0 0h0m0 5h0m0 17h0m0 5h0m0 9h0m0 9h0m0 9h0m0 0h0m0 3h0m0 1h0m0 1h0m0 3h0m0 2h0m0 6h0m0 27h0m1-181h0m0 42h0m0 39h0m0 9h0m0 8h0m0 0h0m0 9h0m0 2h0m0 1h0m0 3h0m0 2h0m0 9h0m0 5h0m0 18h0m1-68h0m0 7h0m0 2h0m0 6h0m0 15h0m0 2h0m0 4h0m0 2h0m0 3h0m0 5h0m0 25h0m0 2h0m0 7h0m0 1h0m0 16h0m1-142h0m0 49h0m0 5h0m0 20h0m0 5h0m0 3h0m0 4h0m0 21h0m0 2h0m0 14h0m0 7h0m1-108h0m0 27h0m0 14h0m0 8h0m0 0h0m0 5h0m0 2h0m0 1h0m0 2h0m0 2h0m0 3h0m0 9h0m0 6h0m0 9h0m0 10h0m1-89h0m0 16h0m0 14h0m0 1h0m0 0h0m0 4h0m0 2h0m0 2h0m0 16h0m0 2h0m0 2h0m0 0h0m0 0h0m0 13h0m0 12h0m0 8h0m1-133h0m0 93h0m0 1h0m0 1h0m0 13h0m0 8h0m0 2h0m1-161h0m0 99h0m0 1h0m0 8h0m0 9h0m0 10h0m0 2h0m0 1h0m0 2h0m0 0h0m0 25h0m0 32h0m1-197h0m0 54h0m0 59h0m0 0h0m0 5h0m0 8h0m0 10h0m0 6h0m0 27h0m0 35h0m1-141h0m0 59h0m0 13h0m0 14h0m0 1h0m0 1h0m0 7h0m0 5h0m0 89h0m1-224h0m0 52h0m0 13h0m0 18h0m0 19h0m0 6h0m0 5h0m0 1h0m0 3h0m0 11h0m0 3h0m0 1h0m0 6h0m0 43h0m1-105h0m0 12h0m0 4h0m0 1h0m0 4h0m0 12h0m0 5h0m0 8h0m0 5h0m0 1h0m0 1h0m0 2h0m0 6h0m0 13h0m0 6h0m1-101h0m0 17h0m0 5h0m0 5h0m0 7h0m0 0h0m0 3h0m0 4h0m0 3h0m0 16h0m0 13h0m0 4h0m0 3h0m0 0h0m0 13h0m1-67h0m0 0h0m0 4h0m0 10h0m0 3h0m0 7h0m0 1h0m0 2h0m0 16h0m0 8h0m0 5h0m0 3h0m0 1h0m0 14h0m0 19h0m0 3h0m0 89h0m1-250h0m0 44h0m0 18h0m0 2h0m0 12h0m0 14h0m0 3h0m0 4h0m0 0h0m0 3h0m0 1h0m0 9h0m0 16h0m0 5h0m1-134h0m0 20h0m0 16h0m0 34h0m0 3h0m0 8h0m0 3h0m0 2h0m0 12h0m0 10h0m0 4h0m0 10h0m0 6h0m1-43h0m0 4h0m0 5h0m0 19h0m0 0h0m0 1h0m0 20h0m0 0h0m1-81h0m0 16h0m0 2h0m0 3h0m0 6h0m0 3h0m0 5h0m0 0h0m0 1h0m0 1h0m0 0h0m0 4h0m0 8h0m0 6h0m0 2h0m0 14h0m0 8h0m0 6h0m1-130h0m0 15h0m0 42h0m0 31h0m0 0h0m0 2h0m0 3h0m0 4h0m0 1h0m0 18h0m0 108h0m1-165h0m0 4h0m0 2h0m0 13h0m0 11h0m0 6h0m0 17h0m0 15h0m0 78h0m1-164h0m0 15h0m0 2h0m0 0h0m0 1h0m0 6h0m0 7h0m0 12h0m0 14h0m0 0h0m0 2h0m0 1h0m0 2h0m0 2h0m0 7h0m0 3h0m0 8h0m0 0h0m0 13h0m1-127h0m0 16h0m0 8h0m0 15h0m0 19h0m0 15h0m0 1h0m0 11h0m0 0h0m0 21h0m0 2h0m1-61h0m0 7h0m0 14h0m0 2h0m0 7h0m0 2h0m0 1h0m0 4h0m0 9h0m0 0h0m0 6h0m0 43h0m0 15h0m1-205h0m0 40h0m0 25h0m0 19h0m0 1h0m0 5h0m0 6h0m0 15h0m0 4h0m0 2h0m0 4h0m0 8h0m0 0h0m0 2h0m0 8h0m0 1h0m0 7h0m0 1h0m0 0h0m0 5h0m0 15h0m1-80h0m0 15h0m0 3h0m0 6h0m0 4h0m0 19h0m0 7h0m0 7h0m0 14h0m0 65h0m1-156h0m0 10h0m0 12h0m0 17h0m0 17h0m0 0h0m0 0h0m0 9h0m0 2h0m0 1h0m0 13h0m0 2h0m0 23h0m0 102h0m1-238h0m0 45h0m0 14h0m0 6h0m0 7h0m0 1h0m0 8h0m0 2h0m0 0h0m0 6h0m0 0h0m0 1h0m0 0h0m0 2h0m0 2h0m0 1h0m0 6h0m0 7h0m0 7h0m0 8h0m0 2h0m0 28h0m0 35h0m1-154h0m0 22h0m0 22h0m0 1h0m0 7h0m0 10h0m0 1h0m1-56h0m0 16h0m0 4h0m0 3h0m0 5h0m0 5h0m0 5h0m0 2h0m0 3h0m0 54h0m0 120h0m1-217h0m0 21h0m0 2h0m0 1h0m0 1h0m0 2h0m0 9h0m0 2h0m0 3h0m0 1h0m0 0h0m0 1h0m0 10h0m0 1h0m0 3h0m0 5h0m0 17h0m0 3h0m1-107h0m0 26h0m0 7h0m0 1h0m0 6h0m0 0h0m0 6h0m0 2h0m0 4h0m0 1h0m0 2h0m0 8h0m0 6h0m0 1h0m0 11h0m0 4h0m0 2h0m0 5h0m0 7h0m0 31h0m1-123h0m0 36h0m0 6h0m0 6h0m0 1h0m0 3h0m0 4h0m0 1h0m0 3h0m0 25h0m0 7h0m1-72h0m0 9h0m0 13h0m0 4h0m0 4h0m0 7h0m0 12h0m0 6h0m0 6h0m0 9h0m0 6h0m0 7h0m0 23h0m1-116h0m0 23h0m0 5h0m0 16h0m0 3h0m0 7h0m0 6h0m0 2h0m0 2h0m0 5h0m0 5h0m0 13h0m1-58h0m0 2h0m0 14h0m0 10h0m0 3h0m0 3h0m0 0h0m0 2h0m0 1h0m0 0h0m0 51h0m1-172h0m0 70h0m0 16h0m0 0h0m0 6h0m0 15h0m0 2h0m0 7h0m0 5h0m0 0h0m0 2h0m0 43h0m1-112h0m0 25h0m0 12h0m0 7h0m0 1h0m0 10h0m0 31h0m0 33h0m1-93h0m0 7h0m0 14h0m0 4h0m0 1h0m0 2h0m0 0h0m0 1h0m0 15h0m0 4h0m0 16h0m1-108h0m0 30h0m0 27h0m0 3h0m0 3h0m0 4h0m0 11h0m0 4h0m0 9h0m0 2h0m0 6h0m0 9h0m0 1h0m0 3h0m0 24h0m1-99h0m0 14h0m0 7h0m0 10h0m0 2h0m0 1h0m0 5h0m0 1h0m0 10h0m1-128h0m0 57h0m0 25h0m0 14h0m0 1h0m0 1h0m0 2h0m0 5h0m0 3h0m0 3h0m0 2h0m0 14h0m0 6h0m0 1h0m1-131h0m0 70h0m0 5h0m0 10h0m0 8h0m0 0h0m0 12h0m0 1h0m0 21h0m0 5h0m0 6h0m0 1h0m0 8h0m0 8h0m1-126h0m0 58h0m0 2h0m0 1h0m0 4h0m0 12h0m0 1h0m0 2h0m0 6h0m0 2h0m0 3h0m0 6h0m0 3h0m0 1h0m0 20h0m0 3h0m0 10h0m1-178h0m0 88h0m0 17h0m0 5h0m0 1h0m0 0h0m0 1h0m0 8h0m0 3h0m0 6h0m0 2h0m0 3h0m0 8h0m0 6h0m0 10h0m0 1h0m0 4h0m1-71h0m0 9h0m0 0h0m0 11h0m0 1h0m0 13h0m0 33h0m0 0h0m0 2h0m0 26h0m1-154h0m0 42h0m0 3h0m0 28h0m0 12h0m0 10h0m0 9h0m0 7h0m0 6h0m0 12h0m1-54h0m0 4h0m0 15h0m0 5h0m0 0h0m0 0h0m0 8h0m0 8h0m0 1h0m0 2h0m0 3h0m0 8h0m0 31h0m1-118h0m0 53h0m0 12h0m0 1h0m0 7h0m0 1h0m0 1h0m0 15h0m0 1h0m1-122h0m0 36h0m0 12h0m0 1h0m0 6h0m0 8h0m0 6h0m0 0h0m0 1h0m0 13h0m0 0h0m0 2h0m0 20h0m0 11h0m0 3h0m0 18h0m1-177h0m0 91h0m0 3h0m0 10h0m0 2h0m0 9h0m0 6h0m0 3h0m0 1h0m0 0h0m0 0h0m0 5h0m0 15h0m0 1h0m0 1h0m0 5h0m0 6h0m0 13h0m0 34h0m1-144h0m0 26h0m0 5h0m0 26h0m0 6h0m0 7h0m0 1h0m0 10h0m0 3h0m0 2h0m0 0h0m0 10h0m0 2h0m0 12h0m1-93h0m0 37h0m0 2h0m0 3h0m0 3h0m0 2h0m0 1h0m0 1h0m0 1h0m0 12h0m0 7h0m0 14h0m1-130h0m0 45h0m0 33h0m0 0h0m0 0h0m0 5h0m0 3h0m0 2h0m0 5h0m0 1h0m0 22h0m1-50h0m0 2h0m0 2h0m0 7h0m0 19h0m0 10h0m0 1h0m0 13h0m0 11h0m0 3h0m0 6h0m1-68h0m0 6h0m0 3h0m0 6h0m0 0h0m0 24h0m0 1h0m0 0h0m0 1h0m0 7h0m0 27h0m1-136h0m0 30h0m0 22h0m0 8h0m0 3h0m0 3h0m0 16h0m0 10h0m0 9h0m0 7h0m0 9h0m0 4h0m1-74h0m0 7h0m0 2h0m0 10h0m0 5h0m0 1h0m0 6h0m0 5h0m0 5h0m0 18h0m0 6h0m0 2h0m0 2h0m0 4h0m1-178h0m0 86h0m0 53h0m0 7h0m0 6h0m0 2h0m0 6h0m0 13h0m0 27h0m1-152h0m0 50h0m0 50h0m0 4h0m0 1h0m0 9h0m0 5h0m0 1h0m0 12h0m1-58h0m0 3h0m0 13h0m0 1h0m0 5h0m0 13h0m0 25h0m1-162h0m0 78h0m0 25h0m0 8h0m0 2h0m0 5h0m0 4h0m0 18h0m0 6h0m1-89h0m0 46h0m0 1h0m0 6h0m0 14h0m0 10h0m0 3h0m0 9h0m0 1h0m0 0h0m0 3h0m0 1h0m0 2h0m1-100h0m0 34h0m0 1h0m0 6h0m0 10h0m0 9h0m0 2h0m0 7h0m0 28h0m0 5h0m0 8h0m0 4h0m0 47h0m0 10h0m1-154h0m0 34h0m0 6h0m0 2h0m0 2h0m0 4h0m0 1h0m0 2h0m0 17h0m0 1h0m0 2h0m0 16h0m0 8h0m1-95h0m0 10h0m0 0h0m0 1h0m0 11h0m0 11h0m0 3h0m0 8h0m0 2h0m0 4h0m0 7h0m0 2h0m0 5h0m0 6h0m0 5h0m0 3h0m0 2h0m0 4h0m0 2h0m0 10h0m0 23h0m0 83h0m1-245h0m0 69h0m0 12h0m0 5h0m0 4h0m0 0h0m0 4h0m0 3h0m0 3h0m0 0h0m0 5h0m0 0h0m0 2h0m0 0h0m0 27h0m0 11h0m0 106h0m1-184h0m0 23h0m0 2h0m0 18h0m0 1h0m0 4h0m0 4h0m1-42h0m0 7h0m0 1h0m0 1h0m0 1h0m0 4h0m0 7h0m0 1h0m0 2h0m0 2h0m0 0h0m0 14h0m0 4h0m0 1h0m0 0h0m0 13h0m0 6h0m0 5h0m1-169h0m0 97h0m0 1h0m0 25h0m0 7h0m0 15h0m0 2h0m0 9h0m0 3h0m0 2h0m0 2h0m0 24h0m1-108h0m0 7h0m0 30h0m0 1h0m0 2h0m0 8h0m0 7h0m0 0h0m0 0h0m0 0h0m0 3h0m0 15h0m0 32h0m0 0h0m1-93h0m0 11h0m0 7h0m0 9h0m0 7h0m0 9h0m0 3h0m0 7h0m0 1h0m0 7h0m0 7h0m1-100h0m0 24h0m0 0h0m0 15h0m0 6h0m0 1h0m0 10h0m0 14h0m0 3h0m0 4h0m0 4h0m0 2h0m0 1h0m0 2h0m0 17h0m0 4h0m1-60h0m0 7h0m0 7h0m0 15h0m0 3h0m0 7h0m0 12h0m0 7h0m1-132h0m0 66h0m0 5h0m0 6h0m0 8h0m0 1h0m0 11h0m0 2h0m0 3h0m0 2h0m0 4h0m0 4h0m0 6h0m0 8h0m0 5h0m0 26h0m1-211h0m0 109h0m0 31h0m0 3h0m0 2h0m0 4h0m0 1h0m0 10h0m0 1h0m0 1h0m0 3h0m0 0h0m0 4h0m0 4h0m0 2h0m0 3h0m1-118h0m0 56h0m0 7h0m0 15h0m0 19h0m0 6h0m0 11h0m0 1h0m0 20h0m1-151h0m0 46h0m0 22h0m0 15h0m0 2h0m0 2h0m0 14h0m0 2h0m0 7h0m0 1h0m0 3h0m0 11h0m0 3h0m0 0h0m0 6h0m0 5h0m1-53h0m0 3h0m0 0h0m0 4h0m0 2h0m0 1h0m0 10h0m0 0h0m0 23h0m0 2h0m1-143h0m0 97h0m0 7h0m0 24h0m0 5h0m0 1h0m0 2h0m0 7h0m0 3h0m0 0h0m0 7h0m0 2h0m1-101h0m0 34h0m0 5h0m0 3h0m0 11h0m0 7h0m0 11h0m0 24h0m0 9h0m0 12h0m0 14h0m1-127h0m0 40h0m0 14h0m0 5h0m0 9h0m0 5h0m0 4h0m0 14h0m0 8h0m0 13h0m0 6h0m0 24h0m1-127h0m0 7h0m0 3h0m0 33h0m0 2h0m0 11h0m0 2h0m0 7h0m0 1h0m0 4h0m0 2h0m0 5h0m0 17h0m1-196h0m0 114h0m0 11h0m0 5h0m0 11h0m0 1h0m0 3h0m0 1h0m0 15h0m0 3h0m0 3h0m0 13h0m0 3h0m0 9h0m0 3h0m1-79h0m0 14h0m0 2h0m0 11h0m0 7h0m0 7h0m0 5h0m0 4h0m0 3h0m0 17h0m0 32h0m1-105h0m0 5h0m0 20h0m0 1h0m0 2h0m0 1h0m0 3h0m0 4h0m0 0h0m0 11h0m0 1h0m0 1h0m0 5h0m0 2h0m0 2h0m0 5h0m0 3h0m0 2h0m0 1h0m0 1h0m0 4h0m0 9h0m1-120h0m0 14h0m0 28h0m0 5h0m0 9h0m0 2h0m0 1h0m0 1h0m0 14h0m0 7h0m0 0h0m0 14h0m0 4h0m0 14h0m0 4h0m0 17h0m0 35h0m1-163h0m0 27h0m0 6h0m0 4h0m0 0h0m0 10h0m0 1h0m0 5h0m0 4h0m0 6h0m0 9h0m0 5h0m0 1h0m0 2h0m0 9h0m0 8h0m0 0h0m0 10h0m0 5h0m0 67h0m1-153h0m0 5h0m0 24h0m0 1h0m0 10h0m0 5h0m0 3h0m0 6h0m0 5h0m0 5h0m0 14h0m0 25h0m0 57h0m1-141h0m0 2h0m0 8h0m0 5h0m0 3h0m0 3h0m0 1h0m0 0h0m0 3h0m0 9h0m0 3h0m0 3h0m0 9h0m0 82h0m1-133h0m0 8h0m0 11h0m0 0h0m0 10h0m0 0h0m0 1h0m0 1h0m0 0h0m0 2h0m0 6h0m0 7h0m0 7h0m0 1h0m0 16h0m1-86h0m0 13h0m0 2h0m0 19h0m0 1h0m0 5h0m0 2h0m0 2h0m0 4h0m0 10h0m0 3h0m0 3h0m0 4h0m0 4h0m0 3h0m0 8h0m0 2h0m0 5h0m0 1h0m0 36h0m1-197h0m0 74h0m0 22h0m0 5h0m0 4h0m0 27h0m0 3h0m0 1h0m0 4h0m0 1h0m0 20h0m1-170h0m0 116h0m0 5h0m0 5h0m0 6h0m0 3h0m0 16h0m0 6h0m0 3h0m0 5h0m0 1h0m1-65h0m0 8h0m0 10h0m0 1h0m0 5h0m0 6h0m0 6h0m0 10h0m0 4h0m0 8h0m0 14h0m0 0h0m0 31h0m1-121h0m0 8h0m0 5h0m0 5h0m0 6h0m0 6h0m0 2h0m0 6h0m0 4h0m0 1h0m0 10h0m0 8h0m0 3h0m0 2h0m0 29h0m1-56h0m0 3h0m0 15h0m0 9h0m0 7h0m0 13h0m0 6h0m0 8h0m1-72h0m0 5h0m0 4h0m0 2h0m0 2h0m0 6h0m0 2h0m0 14h0m1-74h0m0 50h0m0 11h0m0 10h0m0 21h0m0 4h0m0 11h0m1-158h0m0 100h0m0 4h0m0 1h0m0 1h0m0 0h0m0 6h0m0 3h0m0 1h0m0 1h0m0 3h0m0 2h0m0 0h0m1-88h0m0 56h0m0 2h0m0 3h0m0 6h0m0 6h0m0 2h0m0 2h0m0 28h0m0 0h0m0 3h0m0 1h0m0 8h0m1-127h0m0 31h0m0 16h0m0 23h0m0 9h0m0 1h0m0 14h0m0 0h0m0 3h0m0 1h0m1-44h0m0 1h0m0 8h0m0 11h0m0 4h0m0 9h0m0 4h0m0 5h0m0 1h0m0 1h0m0 7h0m0 6h0m0 6h0m0 0h0m0 5h0m1-113h0m0 8h0m0 28h0m0 17h0m0 7h0m0 0h0m0 1h0m0 2h0m0 6h0m0 0h0m0 1h0m0 0h0m0 0h0m0 9h0m0 3h0m0 17h0m0 0h0m0 1h0m0 10h0m0 17h0m0 110h0m1-179h0m0 1h0m0 21h0m0 1h0m0 2h0m0 8h0m0 0h0m0 5h0m0 3h0m0 10h0m0 12h0m0 11h0m1-154h0m0 59h0m0 13h0m0 7h0m0 5h0m0 7h0m0 4h0m0 6h0m0 6h0m0 16h0m1-36h0m0 17h0m0 5h0m0 1h0m0 4h0m0 7h0m0 10h0m0 1h0m0 21h0m0 9h0m0 97h0m1-194h0m0 10h0m0 11h0m0 11h0m0 3h0m0 13h0m0 2h0m0 1h0m0 1h0m0 1h0m0 14h0m0 5h0m1-99h0m0 54h0m0 6h0m0 4h0m0 1h0m0 0h0m0 7h0m0 3h0m0 1h0m0 5h0m0 0h0m0 2h0m0 10h0m0 60h0m1-156h0m0 21h0m0 12h0m0 7h0m0 19h0m0 9h0m0 2h0m0 8h0m0 4h0m0 2h0m0 9h0m0 0h0m0 6h0m0 1h0m0 8h0m1-72h0m0 0h0m0 8h0m0 7h0m0 1h0m0 1h0m0 9h0m0 0h0m0 10h0m0 1h0m0 0h0m0 22h0m0 0h0m0 6h0m0 4h0m0 1h0m0 24h0m1-108h0m0 16h0m0 4h0m0 1h0m0 0h0m0 8h0m0 5h0m0 1h0m0 1h0m0 0h0m0 3h0m0 1h0m0 8h0m0 9h0m0 7h0m0 0h0m0 5h0m0 2h0m0 23h0m0 24h0m1-89h0m0 4h0m0 6h0m0 4h0m0 2h0m0 6h0m0 3h0m0 1h0m0 0h0m0 2h0m0 1h0m0 2h0m0 2h0m0 11h0m1-74h0m0 28h0m0 2h0m0 15h0m0 7h0m0 4h0m0 9h0m0 9h0m0 14h0m0 50h0m1-107h0m0 2h0m0 10h0m0 6h0m0 15h0m0 5h0m0 10h0m0 25h0m1-88h0m0 21h0m0 2h0m0 7h0m0 0h0m0 6h0m0 7h0m0 2h0m0 2h0m0 1h0m0 0h0m0 11h0m0 13h0m0 14h0m1-95h0m0 12h0m0 19h0m0 9h0m0 7h0m0 6h0m0 0h0m0 2h0m0 11h0m0 5h0m0 3h0m0 3h0m1-71h0m0 15h0m0 6h0m0 4h0m0 3h0m0 1h0m0 0h0m0 2h0m0 6h0m0 3h0m0 1h0m0 2h0m0 6h0m0 9h0m0 7h0m0 17h0m0 17h0m0 29h0m1-189h0m0 64h0m0 19h0m0 5h0m0 1h0m0 2h0m0 3h0m0 1h0m0 7h0m0 3h0m0 13h0m0 27h0m1-77h0m0 6h0m0 6h0m0 9h0m0 1h0m0 12h0m0 0h0m0 5h0m0 6h0m0 1h0m0 3h0m0 5h0m0 34h0m1-98h0m0 16h0m0 10h0m0 0h0m0 1h0m0 4h0m0 4h0m0 8h0m0 3h0m0 2h0m0 1h0m0 22h0m1-49h0m0 24h0m0 0h0m0 7h0m0 1h0m0 0h0m0 6h0m0 13h0m0 5h0m1-121h0m0 47h0m0 10h0m0 6h0m0 7h0m0 16h0m0 4h0m0 2h0m0 2h0m0 6h0m0 9h0m0 4h0m0 0h0m0 4h0m1-53h0m0 1h0m0 0h0m0 8h0m0 0h0m0 12h0m0 1h0m0 9h0m0 6h0m0 4h0m0 27h0m1-135h0m0 72h0m0 14h0m0 0h0m0 2h0m0 3h0m0 0h0m0 7h0m0 0h0m0 0h0m0 4h0m0 4h0m0 15h0m0 10h0m1-75h0m0 9h0m0 11h0m0 23h0m0 0h0m0 2h0m0 6h0m0 0h0m0 2h0m0 11h0m0 2h0m1-123h0m0 74h0m0 7h0m0 7h0m0 3h0m0 1h0m0 4h0m0 10h0m0 1h0m0 0h0m0 8h0m0 0h0m0 1h0m0 7h0m1-127h0m0 61h0m0 9h0m0 4h0m0 3h0m0 0h0m0 7h0m0 0h0m0 9h0m0 4h0m0 3h0m0 14h0m1-142h0m0 88h0m0 17h0m0 17h0m0 0h0m0 1h0m0 3h0m0 13h0m0 5h0m0 5h0m1-55h0m0 4h0m0 13h0m0 1h0m0 1h0m0 1h0m0 2h0m0 17h0m0 15h0m0 1h0m0 2h0m1-159h0m0 91h0m0 7h0m0 7h0m0 14h0m0 2h0m0 1h0m0 5h0m0 1h0m0 7h0m0 1h0m0 0h0m0 1h0m0 1h0m0 6h0m0 1h0m0 7h0m0 29h0m1-192h0m0 94h0m0 23h0m0 1h0m0 13h0m0 1h0m0 6h0m0 6h0m0 13h0m0 15h0m0 2h0m0 21h0m1-151h0m0 85h0m0 0h0m0 8h0m0 0h0m0 4h0m0 4h0m0 4h0m0 3h0m0 5h0m0 3h0m0 3h0m0 31h0m1-93h0m0 3h0m0 9h0m0 5h0m0 0h0m0 3h0m0 7h0m0 17h0m0 2h0m0 8h0m0 18h0m0 15h0m0 22h0m1-121h0m0 23h0m0 2h0m0 1h0m0 2h0m0 7h0m0 12h0m0 2h0m0 9h0m0 0h0m0 1h0m0 1h0m0 20h0m0 5h0m0 1h0m0 1h0m0 10h0m1-50h0m0 5h0m0 5h0m0 2h0m0 0h0m0 2h0m0 22h0m1-139h0m0 39h0m0 41h0m0 7h0m0 1h0m0 2h0m0 0h0m0 2h0m0 5h0m0 0h0m0 2h0m0 7h0m0 2h0m0 2h0m0 3h0m0 8h0m0 1h0m0 6h0m0 4h0m0 0h0m0 18h0m1-56h0m0 3h0m0 6h0m0 2h0m0 6h0m0 2h0m0 1h0m0 4h0m0 7h0m0 6h0m0 6h0m1-60h0m0 2h0m0 4h0m0 6h0m0 1h0m0 15h0m0 3h0m0 1h0m0 0h0m0 3h0m0 4h0m0 2h0m0 11h0m0 1h0m0 1h0m0 0h0m0 2h0m0 19h0m1-74h0m0 10h0m0 6h0m0 5h0m0 9h0m0 7h0m0 1h0m0 1h0m0 1h0m0 21h0m0 1h0m0 33h0m0 6h0m1-94h0m0 1h0m0 8h0m0 7h0m0 1h0m0 0h0m0 2h0m0 0h0m0 10h0m0 2h0m0 5h0m0 2h0m0 2h0m0 2h0m0 2h0m0 2h0m0 7h0m1-102h0m0 52h0m0 2h0m0 13h0m0 2h0m0 2h0m0 6h0m0 7h0m0 5h0m0 1h0m0 1h0m0 8h0m0 6h0m0 1h0m1-77h0m0 30h0m0 5h0m0 8h0m0 4h0m0 10h0m0 12h0m0 1h0m0 12h0m0 14h0m0 27h0m1-172h0m0 1h0m0 53h0m0 8h0m0 1h0m0 10h0m0 4h0m0 4h0m0 0h0m0 6h0m0 7h0m0 5h0m0 1h0m0 4h0m0 5h0m0 2h0m0 4h0m0 5h0m1-84h0m0 28h0m0 21h0m0 4h0m0 3h0m0 5h0m0 5h0m0 3h0m0 6h0m0 4h0m0 5h0m1-59h0m0 6h0m0 2h0m0 9h0m0 11h0m0 0h0m0 4h0m0 2h0m0 1h0m0 0h0m0 2h0m0 4h0m0 2h0m0 1h0m0 2h0m0 4h0m0 1h0m1-169h0m0 90h0m0 27h0m0 11h0m0 12h0m0 2h0m0 8h0m0 7h0m0 3h0m0 13h0m0 19h0m0 8h0m0 2h0m1-104h0m0 11h0m0 29h0m0 13h0m0 6h0m0 6h0m0 2h0m0 55h0m1-131h0m0 4h0m0 21h0m0 4h0m0 3h0m0 1h0m0 12h0m0 9h0m0 1h0m0 2h0m0 9h0m0 3h0m0 0h0m0 11h0m0 0h0m0 0h0m0 3h0m1-148h0m0 55h0m0 15h0m0 31h0m0 8h0m0 3h0m0 1h0m0 4h0m0 4h0m0 12h0m0 8h0m0 3h0m0 8h0m0 9h0m0 16h0m0 20h0m0 74h0m1-222h0m0 6h0m0 32h0m0 18h0m0 12h0m0 7h0m0 3h0m0 11h0m0 8h0m0 4h0m0 3h0m0 1h0m0 15h0m0 2h0m0 3h0m0 43h0m1-112h0m0 8h0m0 4h0m0 1h0m0 1h0m0 4h0m0 1h0m0 4h0m0 0h0m0 7h0m0 1h0m0 5h0m0 43h0m0 25h0m1-196h0m0 89h0m0 11h0m0 2h0m0 4h0m0 3h0m0 14h0m0 2h0m0 4h0m0 40h0m0 2h0m0 5h0m0 4h0m1-92h0m0 17h0m0 7h0m0 1h0m0 8h0m0 11h0m0 2h0m0 2h0m0 4h0m0 1h0m0 13h0m1-109h0m0 24h0m0 21h0m0 2h0m0 10h0m0 6h0m0 5h0m0 1h0m0 5h0m0 11h0m0 0h0m0 3h0m0 6h0m0 10h0m1-142h0m0 41h0m0 19h0m0 20h0m0 1h0m0 4h0m0 4h0m0 1h0m0 4h0m0 1h0m0 0h0m0 6h0m0 2h0m0 3h0m0 5h0m0 2h0m0 6h0m0 12h0m0 13h0m0 10h0m0 4h0m0 65h0m1-148h0m0 7h0m0 6h0m0 7h0m0 2h0m0 4h0m0 5h0m0 1h0m0 0h0m0 1h0m0 9h0m0 3h0m0 28h0m1-142h0m0 27h0m0 35h0m0 14h0m0 9h0m0 4h0m0 6h0m0 5h0m0 5h0m0 3h0m0 15h0m0 19h0m1-110h0m0 50h0m0 23h0m0 8h0m0 3h0m0 10h0m0 2h0m0 3h0m1-104h0m0 39h0m0 16h0m0 3h0m0 9h0m0 3h0m0 3h0m0 3h0m0 4h0m0 13h0m0 2h0m0 95h0m1-176h0m0 11h0m0 8h0m0 18h0m0 6h0m0 1h0m0 7h0m0 0h0m0 11h0m0 3h0m0 0h0m0 5h0m0 2h0m0 8h0m0 26h0m1-71h0m0 4h0m0 14h0m0 5h0m0 0h0m0 5h0m0 4h0m0 6h0m0 13h0m0 7h0m1-48h0m0 13h0m0 4h0m0 12h0m0 2h0m0 1h0m0 4h0m0 2h0m0 22h0m0 4h0m0 3h0m1-130h0m0 22h0m0 17h0m0 11h0m0 0h0m0 4h0m0 2h0m0 0h0m0 6h0m0 2h0m0 10h0m0 6h0m0 7h0m0 5h0m0 5h0m0 15h0m1-160h0m0 100h0m0 10h0m0 1h0m0 6h0m0 1h0m0 1h0m0 25h0m0 8h0m0 2h0m1-61h0m0 18h0m0 3h0m0 12h0m0 0h0m0 2h0m0 2h0m0 2h0m0 15h0m0 6h0m0 45h0m1-144h0m0 8h0m0 23h0m0 1h0m0 11h0m0 3h0m0 6h0m0 8h0m0 4h0m0 2h0m0 2h0m0 10h0m0 4h0m0 18h0m0 91h0m1-154h0m0 1h0m0 7h0m0 1h0m0 4h0m0 3h0m0 6h0m0 14h0m0 7h0m0 4h0m0 8h0m0 3h0m0 2h0m0 3h0m1-77h0m0 3h0m0 10h0m0 23h0m0 7h0m0 3h0m0 7h0m0 13h0m0 26h0m0 1h0m1-111h0m0 14h0m0 16h0m0 10h0m0 3h0m0 3h0m0 8h0m0 2h0m0 6h0m0 10h0m0 3h0m0 15h0m0 5h0m0 32h0m0 37h0m1-130h0m0 12h0m0 3h0m0 11h0m0 0h0m0 1h0m0 6h0m0 0h0m0 2h0m0 1h0m0 6h0m0 2h0m0 3h0m0 4h0m0 0h0m0 12h0m0 37h0m1-151h0m0 30h0m0 22h0m0 4h0m0 3h0m0 7h0m0 2h0m0 5h0m0 7h0m0 0h0m0 32h0m0 1h0m0 3h0m0 25h0m1-97h0m0 21h0m0 7h0m0 7h0m0 3h0m0 1h0m0 12h0m0 16h0m0 5h0m0 1h0m0 7h0m0 83h0m1-164h0m0 14h0m0 10h0m0 1h0m0 2h0m0 2h0m0 14h0m0 6h0m0 0h0m0 0h0m0 3h0m0 4h0m0 5h0m0 17h0m0 33h0m0 12h0m1-110h0m0 8h0m0 5h0m0 1h0m0 3h0m0 1h0m0 0h0m0 18h0m0 2h0m0 1h0m0 11h0m0 0h0m0 52h0m1-236h0m0 68h0m0 43h0m0 21h0m0 2h0m0 14h0m0 3h0m0 6h0m0 2h0m0 3h0m0 4h0m0 0h0m0 2h0m1-47h0m0 30h0m0 1h0m0 8h0m0 6h0m0 3h0m0 14h0m0 18h0m1-201h0m0 105h0m0 2h0m0 7h0m0 14h0m0 2h0m0 2h0m0 1h0m0 5h0m0 11h0m0 6h0m0 10h0m0 5h0m0 11h0m0 16h0m1-89h0m0 26h0m0 1h0m0 4h0m0 2h0m0 2h0m0 7h0m0 2h0m0 5h0m0 1h0m0 11h0m0 0h0m0 4h0m0 0h0m0 3h0m0 2h0m0 3h0m0 10h0m1-73h0m0 28h0m0 4h0m0 7h0m0 0h0m0 2h0m0 0h0m0 3h0m0 1h0m0 4h0m0 11h0m0 2h0m0 26h0m1-73h0m0 0h0m0 12h0m0 0h0m0 1h0m0 5h0m0 10h0m0 2h0m0 14h0m1-62h0m0 6h0m0 9h0m0 4h0m0 8h0m0 18h0m0 13h0m0 10h0m1-70h0m0 21h0m0 6h0m0 10h0m0 6h0m0 5h0m0 1h0m0 6h0m0 1h0m0 1h0m0 8h0m0 42h0m1-90h0m0 1h0m0 9h0m0 0h0m0 3h0m0 6h0m0 9h0m0 5h0m0 6h0m0 1h0m0 9h0m0 18h0m0 4h0m0 7h0m0 101h0m1-259h0m0 46h0m0 36h0m0 3h0m0 14h0m0 1h0m0 0h0m0 20h0m0 4h0m0 7h0m0 2h0m0 7h0m1-70h0m0 6h0m0 1h0m0 11h0m0 11h0m0 1h0m0 12h0m0 22h0m1-139h0m0 52h0m0 3h0m0 14h0m0 5h0m0 10h0m0 2h0m0 4h0m0 1h0m0 9h0m0 3h0m0 4h0m0 1h0m0 1h0m0 1h0m0 0h0m0 1h0m0 4h0m0 2h0m0 3h0m0 8h0m0 4h0m0 7h0m0 4h0m1-88h0m0 20h0m0 13h0m0 8h0m0 7h0m0 6h0m0 18h0m0 12h0m0 11h0m0 57h0m1-168h0m0 10h0m0 50h0m0 3h0m0 16h0m0 2h0m0 9h0m0 2h0m0 1h0m0 6h0m0 23h0m1-131h0m0 15h0m0 3h0m0 18h0m0 14h0m0 1h0m0 2h0m0 13h0m0 7h0m0 4h0m0 2h0m0 0h0m0 2h0m0 19h0m0 11h0m0 10h0m1-92h0m0 8h0m0 10h0m0 3h0m0 0h0m0 2h0m0 1h0m0 2h0m0 3h0m0 1h0m0 1h0m0 2h0m0 2h0m0 11h0m0 1h0m0 3h0m0 11h0m0 23h0m1-115h0m0 46h0m0 8h0m0 4h0m0 1h0m0 9h0m0 7h0m0 9h0m0 7h0m0 6h0m0 13h0m0 8h0m1-129h0m0 47h0m0 28h0m0 1h0m0 2h0m0 1h0m0 10h0m0 14h0m0 4h0m0 1h0m0 4h0m0 16h0m0 19h0m1-113h0m0 22h0m0 3h0m0 15h0m0 3h0m0 1h0m0 4h0m0 22h0m0 22h0m0 120h0m1-190h0m0 13h0m0 5h0m0 4h0m0 2h0m0 6h0m0 4h0m0 0h0m0 1h0m0 4h0m0 3h0m0 6h0m0 3h0m0 22h0m0 18h0m1-136h0m0 31h0m0 8h0m0 6h0m0 8h0m0 1h0m0 1h0m0 1h0m0 7h0m0 1h0m0 1h0m0 2h0m0 1h0m0 9h0m0 5h0m0 4h0m0 4h0m0 3h0m0 9h0m0 2h0m1-69h0m0 14h0m0 5h0m0 0h0m0 6h0m0 1h0m0 6h0m0 9h0m0 1h0m0 7h0m0 20h0m0 10h0m1-61h0m0 3h0m0 4h0m0 13h0m0 7h0m0 14h0m0 5h0m0 20h0m1-136h0m0 53h0m0 11h0m0 9h0m0 1h0m0 2h0m0 9h0m0 0h0m0 11h0m0 1h0m0 2h0m0 1h0m0 26h0m0 17h0m0 16h0m1-89h0m0 1h0m0 10h0m0 0h0m0 10h0m0 6h0m0 4h0m0 4h0m0 18h0m0 10h0m0 0h0m0 1h0m0 17h0m1-178h0m0 61h0m0 12h0m0 19h0m0 3h0m0 7h0m0 1h0m0 12h0m0 2h0m0 6h0m0 3h0m0 9h0m0 1h0m0 9h0m0 8h0m0 8h0m1-72h0m0 12h0m0 6h0m0 11h0m0 2h0m0 5h0m0 3h0m0 4h0m0 27h0m1-58h0m0 4h0m0 8h0m0 5h0m0 1h0m0 3h0m0 4h0m0 15h0m0 6h0m0 4h0m0 7h0m0 3h0m1-76h0m0 9h0m0 14h0m0 3h0m0 4h0m0 0h0m0 7h0m0 3h0m0 13h0m0 5h0m0 1h0m0 3h0m0 4h0m0 1h0m1-184h0m0 149h0m1-102h0m0 29h0m0 24h0m0 37h0m0 3h0m0 4h0m0 1h0m0 3h0m0 1h0m0 1h0m0 2h0m0 3h0m0 1h0m0 21h0m0 9h0m1-125h0m0 52h0m0 7h0m0 5h0m0 5h0m0 6h0m0 4h0m0 18h0m0 6h0m0 13h0m0 5h0m0 12h0m1-90h0m0 11h0m0 11h0m0 3h0m0 10h0m0 10h0m0 2h0m0 11h0m0 5h0m0 9h0m0 5h0m0 3h0"/><path d="M103 74h0m0 139h0m0 1h0m0 10h0m0 7h0m0 1h0m0 13h0m0 10h0m0 5h0m0 6h0m0 7h0m1-74h0m0 32h0m0 4h0m0 4h0m0 3h0m0 2h0m0 0h0m0 27h0m0 2h0m0 2h0m0 0h0m0 7h0m0 4h0m1-81h0m0 19h0m0 1h0m0 14h0m0 0h0m0 3h0m0 6h0m0 4h0m0 1h0m0 2h0m0 2h0m0 6h0m0 5h0m0 4h0m0 11h0m1-99h0m0 31h0m0 2h0m0 8h0m0 20h0m0 2h0m0 3h0m0 1h0m0 3h0m0 33h0m1-78h0m0 2h0m0 1h0m0 2h0m0 3h0m0 12h0m0 4h0m0 1h0m0 2h0m0 2h0m0 3h0m0 6h0m0 2h0m0 4h0m0 12h0m1-64h0m0 13h0m0 4h0m0 2h0m0 10h0m0 3h0m0 10h0m0 9h0m0 7h0m0 8h0m0 3h0m1-61h0m0 2h0m0 12h0m0 7h0m0 1h0m0 12h0m0 1h0m0 13h0m0 18h0m0 68h0m1-144h0m0 12h0m0 3h0m0 12h0m0 5h0m0 3h0m0 8h0m0 3h0m0 11h0m0 3h0m0 6h0m0 0h0m0 13h0m0 2h0m0 16h0m0 70h0m1-205h0m0 61h0m0 1h0m0 11h0m0 2h0m0 3h0m0 10h0m0 9h0m0 0h0m0 5h0m0 6h0m1-67h0m0 9h0m0 5h0m0 6h0m0 0h0m0 16h0m0 5h0m0 2h0m0 8h0m0 3h0m0 14h0m1-162h0m0 8h0m0 6h0m0 54h0m0 34h0m0 7h0m0 0h0m0 8h0m0 1h0m0 2h0m0 3h0m0 1h0m0 2h0m0 3h0m0 0h0m0 29h0m1-57h0m0 25h0m0 5h0m0 12h0m0 9h0m0 5h0m0 20h0m1-146h0m0 46h0m0 7h0m0 7h0m0 29h0m0 1h0m0 3h0m0 1h0m0 8h0m0 2h0m0 6h0m0 2h0m0 1h0m0 4h0m0 18h0m0 13h0m1-148h0m0 61h0m0 17h0m0 3h0m0 5h0m0 2h0m0 1h0m0 1h0m0 1h0m0 11h0m0 3h0m0 2h0m0 1h0m0 11h0m0 6h0m0 4h0m0 23h0m1-110h0m0 17h0m0 1h0m0 27h0m0 2h0m0 1h0m0 0h0m0 3h0m0 3h0m0 9h0m0 8h0m0 24h0m0 17h0m0 112h0m1-215h0m0 17h0m0 22h0m0 8h0m0 4h0m0 4h0m0 3h0m0 2h0m0 5h0m1-99h0m0 25h0m0 25h0m0 13h0m0 6h0m0 9h0m0 1h0m0 3h0m0 2h0m0 1h0m0 1h0m0 7h0m0 4h0m0 9h0m0 2h0m1-93h0m0 20h0m0 15h0m0 3h0m0 10h0m0 1h0m0 0h0m0 22h0m0 9h0m0 4h0m0 31h0m1-86h0m0 16h0m0 2h0m0 3h0m0 3h0m0 11h0m0 7h0m0 3h0m0 1h0m0 1h0m0 2h0m0 7h0m1-98h0m0 31h0m0 17h0m0 5h0m0 3h0m0 4h0m0 6h0m0 1h0m0 1h0m0 10h0m0 15h0m0 18h0m0 1h0m0 41h0m1-145h0m0 2h0m0 31h0m0 6h0m0 10h0m0 18h0m0 13h0m0 8h0m0 0h0m0 2h0m0 30h0m0 13h0m1-111h0m0 10h0m0 17h0m0 4h0m0 9h0m0 9h0m0 4h0m0 9h0m1-160h0m0 88h0m0 28h0m0 8h0m0 0h0m0 1h0m0 5h0m0 1h0m0 2h0m0 4h0m0 2h0m0 9h0m0 0h0m0 4h0m0 23h0m1-102h0m0 14h0m0 5h0m0 2h0m0 33h0m0 0h0m0 9h0m0 1h0m0 0h0m0 1h0m0 1h0m0 3h0m0 5h0m0 1h0m0 2h0m0 24h0m0 3h0m0 5h0m0 20h0m0 8h0m0 9h0m1-135h0m0 29h0m0 10h0m0 1h0m0 16h0m0 0h0m0 13h0m0 27h0m1-75h0m0 8h0m0 7h0m0 1h0m0 0h0m0 4h0m0 9h0m0 0h0m0 1h0m0 8h0m0 3h0m0 3h0m0 3h0m0 4h0m0 47h0m0 107h0m1-231h0m0 40h0m0 1h0m0 11h0m0 7h0m0 8h0m0 1h0m0 0h0m0 11h0m0 79h0m0 75h0m1-226h0m0 14h0m0 6h0m0 3h0m0 3h0m0 21h0m0 10h0m0 2h0m0 5h0m0 1h0m0 7h0m0 7h0m0 5h0m0 131h0m1-217h0m0 15h0m0 12h0m0 4h0m0 12h0m0 6h0m0 0h0m0 6h0m0 5h0m0 4h0m0 4h0m0 0h0m0 6h0m0 5h0m1-69h0m0 4h0m0 8h0m0 4h0m0 10h0m0 1h0m0 4h0m0 1h0m0 2h0m0 3h0m0 1h0m0 4h0m0 0h0m0 3h0m0 3h0m0 2h0m0 14h0m0 3h0m0 2h0m0 2h0m0 8h0m0 8h0m0 0h0m0 2h0m1-180h0m0 101h0m0 25h0m0 8h0m0 0h0m0 1h0m0 3h0m0 4h0m0 12h0m0 1h0m0 6h0m0 6h0m0 116h0m1-279h0m0 92h0m0 13h0m0 4h0m0 9h0m0 2h0m0 1h0m0 6h0m0 0h0m0 1h0m0 4h0m0 5h0m0 3h0m0 5h0m0 15h0m0 2h0m0 22h0m1-124h0m0 23h0m0 22h0m0 3h0m0 1h0m0 9h0m0 6h0m0 0h0m0 2h0m0 7h0m0 4h0m0 2h0m0 3h0m0 4h0m1-84h0m0 21h0m0 28h0m0 4h0m0 5h0m0 4h0m0 4h0m0 4h0m0 23h0m0 4h0m1-61h0m0 3h0m0 8h0m0 8h0m0 9h0m0 6h0m0 1h0m0 4h0m0 17h0m1-154h0m0 46h0m0 40h0m0 10h0m0 6h0m0 7h0m0 6h0m0 8h0m0 5h0m0 7h0m0 2h0m0 1h0m0 6h0m0 5h0m0 0h0m0 3h0m1-95h0m0 46h0m0 1h0m0 6h0m0 10h0m0 10h0m0 9h0m0 5h0m0 6h0m0 7h0m0 3h0m0 12h0m0 4h0m1-128h0m0 44h0m0 5h0m0 9h0m0 3h0m0 7h0m0 0h0m0 12h0m0 1h0m0 3h0m0 2h0m0 10h0m0 13h0m0 13h0m1-49h0m0 5h0m0 3h0m0 0h0m0 12h0m0 5h0m0 4h0m0 8h0m0 24h0m0 18h0m0 25h0m1-193h0m0 44h0m0 4h0m0 19h0m0 20h0m0 19h0m0 3h0m0 84h0m1-160h0m0 0h0m0 34h0m0 3h0m0 3h0m0 1h0m0 33h0m0 0h0m0 11h0m0 2h0m0 7h0m1-61h0m0 0h0m0 4h0m0 11h0m0 0h0m0 2h0m0 11h0m0 9h0m0 50h0m0 13h0m1-105h0m0 10h0m0 7h0m0 1h0m0 15h0m0 3h0m0 14h0m0 2h0m1-88h0m0 51h0m0 1h0m0 3h0m0 7h0m0 3h0m0 3h0m0 5h0m0 4h0m0 3h0m0 7h0m0 17h0m0 25h0m1-114h0m0 27h0m0 1h0m0 14h0m0 0h0m0 1h0m0 9h0m0 6h0m0 6h0m0 10h0m0 4h0m0 0h0m0 15h0m0 8h0m0 23h0m0 32h0m1-232h0m0 121h0m0 6h0m0 3h0m0 1h0m0 5h0m0 5h0m0 31h0m0 5h0m1-81h0m0 6h0m0 5h0m0 11h0m0 3h0m0 4h0m0 4h0m0 8h0m0 13h0m0 15h0m1-153h0m0 92h0m0 5h0m0 1h0m0 12h0m0 1h0m0 3h0m0 1h0m0 0h0m0 4h0m0 16h0m0 1h0m0 2h0m0 1h0m0 3h0m0 8h0m0 19h0m1-144h0m0 21h0m0 38h0m0 5h0m0 12h0m0 8h0m0 0h0m0 7h0m0 3h0m0 47h0m1-106h0m0 12h0m0 10h0m0 9h0m0 7h0m0 5h0m0 0h0m0 1h0m0 1h0m0 0h0m0 11h0m0 1h0m0 3h0m0 4h0m0 4h0m0 1h0m0 1h0m0 6h0m0 13h0m1-143h0m0 91h0m0 2h0m0 7h0m0 2h0m0 1h0m0 3h0m0 4h0m0 9h0m0 8h0m0 0h0m0 3h0m0 10h0m0 1h0m1-115h0m0 27h0m0 9h0m0 1h0m0 12h0m0 21h0m0 3h0m0 9h0m0 6h0m0 2h0m0 9h0m0 16h0m0 2h0m0 4h0m0 8h0m0 118h0m1-199h0m0 9h0m0 6h0m0 14h0m0 1h0m0 13h0m0 6h0m0 12h0m0 9h0m0 13h0m1-100h0m0 10h0m0 15h0m0 2h0m0 4h0m0 3h0m0 4h0m0 1h0m0 8h0m0 5h0m0 7h0m0 7h0m0 3h0m1-75h0m0 15h0m0 3h0m0 1h0m0 34h0m0 12h0m0 5h0m0 5h0m0 56h0m0 57h0m1-192h0m0 12h0m0 8h0m0 16h0m0 2h0m0 1h0m0 2h0m0 0h0m0 6h0m0 6h0m0 3h0m0 1h0m0 3h0m0 4h0m0 1h0m0 1h0m0 0h0m0 1h0m0 3h0m0 4h0m0 6h0m0 0h0m0 5h0m1-92h0m0 56h0m0 1h0m0 5h0m0 10h0m0 3h0m0 0h0m0 0h0m0 10h0m0 1h0m0 5h0m0 2h0m0 1h0m0 60h0m1-111h0m0 3h0m0 1h0m0 6h0m0 8h0m0 2h0m0 9h0m0 2h0m0 1h0m0 2h0m0 21h0m0 31h0m1-163h0m0 80h0m0 0h0m0 7h0m0 3h0m0 5h0m0 1h0m0 14h0m0 1h0m0 16h0m0 10h0m0 7h0m0 26h0m0 5h0m1-98h0m0 2h0m0 9h0m0 15h0m0 11h0m0 8h0m0 1h0m0 25h0m1-76h0m0 14h0m0 3h0m0 2h0m0 9h0m0 2h0m0 2h0m0 1h0m0 0h0m0 1h0m0 5h0m0 18h0m0 9h0m0 37h0m1-86h0m0 4h0m0 5h0m0 1h0m0 11h0m0 4h0m0 30h0m0 13h0m0 3h0m0 8h0m1-130h0m0 11h0m0 12h0m0 2h0m0 22h0m0 4h0m0 7h0m0 1h0m0 2h0m0 4h0m0 6h0m0 0h0m0 5h0m0 2h0m0 5h0m0 1h0m0 4h0m0 4h0m0 4h0m0 8h0m1-52h0m0 1h0m0 18h0m0 15h0m0 0h0m0 11h0m1-90h0m0 36h0m0 7h0m0 4h0m0 7h0m0 3h0m0 2h0m0 1h0m0 15h0m0 11h0m0 13h0m1-76h0m0 3h0m0 11h0m0 0h0m0 7h0m0 3h0m0 4h0m0 8h0m0 4h0m0 18h0m0 3h0m0 3h0m1-70h0m0 14h0m0 1h0m0 3h0m0 9h0m0 8h0m0 10h0m0 4h0m0 12h0m0 2h0m0 0h0m0 2h0m0 7h0m0 14h0m0 2h0m1-78h0m0 14h0m0 10h0m0 7h0m0 12h0m0 4h0m0 0h0m0 3h0m0 3h0m0 1h0m0 35h0m0 15h0m1-176h0m0 7h0m0 64h0m0 33h0m0 6h0m0 4h0m0 1h0m0 1h0m0 2h0m0 12h0m0 5h0m0 4h0m1-85h0m0 33h0m0 3h0m0 6h0m0 8h0m0 2h0m0 1h0m0 1h0m0 13h0m0 4h0m0 1h0m0 3h0m0 11h0m0 10h0m1-89h0m0 9h0m0 1h0m0 3h0m0 6h0m0 10h0m0 6h0m0 4h0m0 1h0m0 10h0m0 4h0m0 5h0m0 22h0m0 7h0m0 3h0m0 5h0m0 110h0m1-238h0m0 82h0m0 1h0m0 3h0m1-53h0m0 14h0m0 8h0m0 16h0m0 0h0m0 6h0m0 1h0m0 11h0m0 7h0m0 6h0m0 2h0m0 5h0m0 10h0m0 15h0m0 22h0m1-123h0m0 18h0m0 3h0m0 1h0m0 1h0m0 7h0m0 3h0m0 5h0m0 0h0m0 13h0m0 0h0m0 14h0m0 16h0m1-83h0m0 14h0m0 3h0m0 15h0m0 15h0m0 0h0m0 9h0m0 9h0m0 4h0m0 4h0m0 6h0m0 13h0m0 23h0m0 40h0m1-181h0m0 12h0m0 24h0m0 15h0m0 7h0m0 12h0m0 3h0m0 3h0m0 13h0m0 2h0m0 0h0m0 8h0m0 0h0m1-86h0m0 26h0m0 17h0m0 5h0m0 1h0m0 6h0m0 0h0m0 9h0m0 0h0m0 1h0m0 6h0m0 0h0m0 4h0m0 11h0m0 23h0m1-90h0m0 15h0m0 1h0m0 8h0m0 9h0m0 17h0m0 12h0m0 0h0m0 22h0m0 0h0m1-57h0m0 1h0m0 3h0m0 5h0m0 1h0m0 2h0m0 0h0m0 2h0m0 11h0m0 0h0m0 4h0m0 8h0m0 13h0m0 14h0m0 4h0m1-113h0m0 13h0m0 1h0m0 8h0m0 3h0m0 37h0m0 2h0m0 1h0m0 6h0m0 1h0m0 0h0m0 0h0m0 5h0m0 5h0m0 3h0m0 3h0m0 1h0m0 6h0m0 2h0m0 3h0m1-139h0m0 81h0m0 7h0m0 3h0m0 3h0m0 5h0m0 6h0m0 5h0m0 1h0m0 14h0m0 5h0m0 7h0m0 0h0m1-58h0m0 2h0m0 14h0m0 9h0m0 6h0m0 6h0m1-84h0m0 52h0m0 18h0m0 4h0m0 1h0m0 2h0m0 9h0m0 3h0m0 5h0m0 1h0m0 53h0m1-209h0m0 70h0m0 46h0m0 7h0m0 10h0m0 3h0m0 1h0m0 1h0m0 9h0m0 1h0m0 5h0m0 4h0m0 6h0m0 1h0m0 7h0m1-63h0m0 12h0m0 0h0m0 6h0m0 1h0m0 7h0m0 3h0m0 0h0m0 1h0m0 3h0m0 5h0m0 3h0m0 4h0m0 3h0m0 11h0m0 28h0m0 86h0m1-175h0m0 3h0m0 2h0m0 15h0m0 3h0m0 3h0m0 7h0m0 1h0m0 0h0m0 12h0m0 6h0m0 0h0m0 2h0m0 13h0m1-125h0m0 54h0m0 7h0m0 9h0m0 12h0m0 15h0m0 1h0m0 0h0m0 2h0m0 18h0m1-71h0m0 3h0m0 18h0m0 6h0m0 1h0m0 9h0m0 6h0m0 13h0m0 2h0m0 1h0m0 17h0m0 9h0m0 10h0m0 14h0m1-75h0m0 10h0m0 4h0m0 0h0m0 5h0m0 28h0m0 18h0m1-133h0m0 35h0m0 32h0m0 2h0m0 0h0m0 2h0m0 17h0m0 2h0m0 3h0m0 6h0m0 2h0m0 13h0m0 7h0m1-109h0m0 30h0m0 14h0m0 13h0m0 2h0m0 7h0m0 9h0m0 11h0m0 1h0m0 1h0m0 7h0m0 0h0m0 3h0m0 6h0m0 10h0m0 20h0m0 102h0m1-193h0m0 0h0m0 5h0m0 1h0m0 3h0m0 0h0m0 3h0m0 8h0m0 2h0m0 1h0m0 1h0m0 5h0m0 3h0m0 14h0m0 1h0m0 4h0m1-63h0m0 7h0m0 26h0m0 2h0m0 1h0m0 2h0m0 12h0m0 9h0m0 5h0m0 5h0m0 14h0m0 20h0m1-120h0m0 23h0m0 3h0m0 9h0m0 1h0m0 3h0m0 4h0m0 9h0m0 5h0m0 16h0m0 4h0m0 1h0m0 4h0m1-52h0m0 5h0m0 6h0m0 1h0m0 4h0m0 2h0m0 4h0m0 2h0m0 4h0m0 1h0m0 3h0m0 2h0m0 8h0m0 4h0m0 1h0m0 6h0m0 0h0m0 17h0m1-57h0m0 2h0m0 8h0m0 1h0m0 4h0m0 16h0m0 0h0m0 5h0m0 12h0m0 5h0m0 2h0m1-52h0m0 12h0m0 1h0m0 0h0m0 2h0m0 3h0m0 6h0m0 7h0m0 0h0m0 1h0m0 3h0m0 9h0m0 9h0m1-87h0m0 11h0m0 13h0m0 3h0m0 10h0m0 7h0m0 4h0m0 0h0m0 5h0m0 5h0m0 9h0m1-51h0m0 1h0m0 28h0m0 2h0m0 2h0m0 11h0m0 3h0m0 3h0m0 13h0m0 7h0m0 9h0m0 35h0m1-153h0m0 36h0m0 6h0m0 17h0m0 16h0m0 3h0m0 11h0m0 4h0m0 0h0m0 2h0m0 7h0m1-71h0m0 18h0m0 3h0m0 4h0m0 5h0m0 4h0m0 2h0m0 4h0m0 6h0m0 1h0m0 3h0m0 3h0m0 12h0m0 0h0m0 5h0m0 6h0m1-54h0m0 2h0m0 1h0m0 6h0m0 5h0m0 5h0m0 0h0m0 2h0m0 1h0m0 21h0m0 31h0m1-160h0m0 55h0m0 14h0m0 5h0m0 15h0m0 4h0m0 0h0m0 8h0m0 0h0m0 10h0m0 2h0m0 1h0m0 0h0m0 2h0m0 0h0m0 13h0m0 3h0m0 7h0m1-47h0m0 1h0m0 0h0m0 3h0m0 2h0m0 15h0m0 5h0m0 4h0m0 3h0m0 6h0m0 3h0m0 1h0m0 2h0m0 19h0m1-205h0m0 141h0m0 5h0m0 4h0m0 4h0m0 8h0m0 8h0m0 0h0m0 19h0m0 109h0m0 7h0m1-177h0m0 15h0m0 7h0m0 4h0m0 9h0m0 1h0m0 16h0m0 16h0m0 13h0m1-81h0m0 6h0m0 21h0m0 1h0m0 5h0m0 0h0m0 5h0m0 1h0m0 17h0m0 6h0m0 14h0m0 3h0m1-128h0m0 43h0m0 40h0m0 2h0m0 10h0m0 6h0m0 16h0m0 25h0m0 86h0m1-198h0m0 13h0m0 1h0m0 4h0m0 5h0m0 3h0m0 5h0m0 4h0m0 1h0m0 7h0m0 1h0m0 6h0m0 1h0m0 7h0m0 11h0m0 5h0m0 3h0m0 1h0m0 15h0m0 70h0m1-157h0m0 28h0m0 3h0m0 2h0m0 5h0m0 3h0m0 3h0m0 2h0m0 5h0m0 7h0m0 7h0m0 1h0m0 2h0m0 32h0m1-123h0m0 14h0m0 10h0m0 15h0m0 24h0m0 0h0m0 8h0m0 7h0m0 2h0m0 27h0m1-83h0m0 0h0m0 12h0m0 14h0m0 5h0m0 1h0m0 1h0m0 4h0m0 1h0m0 4h0m0 3h0m0 1h0m0 11h0m0 1h0m0 4h0m0 4h0m0 2h0m1-53h0m0 1h0m0 9h0m0 11h0m0 2h0m0 1h0m0 2h0m0 2h0m0 1h0m0 1h0m0 6h0m0 7h0m0 2h0m0 3h0m0 9h0m1-92h0m0 34h0m0 1h0m0 10h0m0 12h0m0 4h0m0 0h0m0 2h0m0 10h0m0 13h0m0 13h0m0 66h0m1-152h0m0 7h0m0 33h0m0 13h0m0 2h0m0 3h0m0 14h0m0 4h0m0 4h0m1-105h0m0 48h0m0 3h0m0 2h0m0 6h0m0 9h0m0 3h0m0 1h0m0 6h0m0 9h0m0 8h0m0 5h0m0 0h0m0 8h0m0 17h0m0 3h0m0 104h0m1-176h0m0 4h0m0 8h0m0 1h0m0 1h0m0 8h0m0 1h0m0 6h0m0 3h0m0 1h0m0 1h0m0 9h0m0 0h0m1-57h0m0 8h0m0 7h0m0 11h0m0 3h0m0 3h0m0 1h0m0 10h0m0 7h0m0 25h0m1-80h0m0 29h0m0 11h0m0 18h0m0 5h0m0 5h0m0 13h0m0 10h0m1-136h0m0 54h0m0 2h0m0 3h0m0 11h0m0 6h0m0 11h0m0 0h0m0 11h0m0 6h0m0 6h0m0 9h0m1-92h0m0 34h0m0 0h0m0 8h0m0 11h0m0 6h0m0 25h0m0 1h0m0 3h0m1-94h0m0 22h0m0 28h0m0 7h0m0 3h0m0 7h0m0 0h0m0 4h0m0 19h0m1-67h0m0 7h0m0 3h0m0 6h0m0 25h0m0 2h0m0 1h0m0 1h0m0 6h0m0 6h0m0 1h0m0 26h0m0 10h0m0 1h0m0 8h0m1-149h0m0 3h0m0 11h0m0 24h0m0 15h0m0 2h0m0 13h0m0 2h0m0 1h0m0 9h0m0 13h0m0 2h0m0 0h0m0 2h0m0 9h0m0 3h0m0 0h0m0 12h0m0 110h0m1-191h0m0 19h0m0 12h0m0 3h0m0 1h0m0 2h0m0 4h0m0 4h0m0 0h0m0 0h0m0 1h0m0 5h0m0 7h0m0 1h0m0 4h0m0 5h0m0 3h0m0 3h0m0 29h0m0 92h0m1-173h0m0 1h0m0 6h0m0 4h0m0 9h0m0 5h0m0 1h0m0 9h0m0 15h0m0 6h0m0 11h0m0 5h0m1-223h0m0 109h0m0 1h0m0 5h0m0 19h0m0 10h0m0 28h0m0 7h0m0 9h0m0 10h0m0 3h0m0 47h0m0 35h0m1-140h0m0 16h0m0 3h0m0 16h0m0 4h0m0 0h0m0 3h0m0 1h0m0 10h0m0 10h0m0 29h0m1-109h0m0 4h0m0 33h0m0 0h0m0 8h0m0 11h0m0 1h0m0 0h0m0 2h0m0 4h0m0 2h0m0 3h0m0 10h0m0 5h0m0 4h0m0 1h0m0 1h0m0 9h0m0 22h0m1-188h0m0 58h0m0 43h0m0 2h0m0 6h0m0 5h0m0 1h0m0 8h0m0 1h0m0 2h0m0 4h0m0 3h0m0 17h0m0 4h0m0 3h0m0 25h0m0 51h0m0 35h0m1-175h0m0 6h0m0 15h0m0 1h0m0 5h0m0 21h0m0 20h0m0 33h0m1-111h0m0 7h0m0 0h0m0 8h0m0 7h0m0 22h0m0 2h0m0 12h0m1-109h0m0 45h0m0 19h0m0 3h0m0 11h0m0 4h0m0 1h0m0 13h0m0 1h0m0 5h0m0 0h0m0 7h0m0 1h0m0 11h0m0 11h0m0 1h0m1-96h0m0 14h0m0 15h0m0 11h0m0 1h0m0 12h0m0 5h0m0 4h0m0 3h0m0 3h0m0 5h0m1-85h0m0 6h0m0 16h0m0 22h0m0 1h0m0 26h0m0 1h0m0 2h0m0 1h0m0 2h0m0 2h0m0 10h0m0 1h0m1-69h0m0 11h0m0 5h0m0 29h0m0 2h0m0 2h0m0 3h0m0 0h0m0 2h0m0 0h0m0 2h0m0 5h0m0 6h0m0 2h0m0 11h0m1-115h0m0 40h0m0 7h0m0 1h0m0 3h0m0 9h0m0 3h0m0 2h0m0 1h0m0 11h0m0 3h0m0 0h0m0 3h0m0 3h0m0 7h0m0 1h0m0 7h0m0 1h0m1-100h0m0 34h0m0 15h0m0 11h0m0 10h0m0 7h0m0 4h0m0 6h0m0 22h0m1-99h0m0 41h0m0 6h0m0 8h0m0 1h0m0 25h0m0 2h0m0 9h0m0 5h0m0 12h0m1-84h0m0 11h0m0 5h0m0 11h0m0 1h0m0 0h0m0 7h0m0 3h0m0 1h0m0 19h0m0 1h0m0 37h0m0 32h0m1-111h0m0 5h0m0 3h0m0 30h0m0 10h0m0 4h0m0 2h0m0 12h0m0 3h0m1-109h0m0 37h0m0 17h0m0 3h0m0 4h0m0 1h0m0 3h0m0 8h0m0 1h0m0 6h0m0 4h0m0 8h0m0 2h0m1-183h0m0 132h0m0 13h0m0 1h0m0 2h0m0 1h0m0 3h0m0 2h0m0 2h0m0 1h0m0 12h0m0 5h0m0 6h0m0 9h0m0 17h0m0 0h0m0 46h0m1-185h0m0 22h0m0 18h0m0 34h0m0 1h0m0 5h0m0 7h0m0 2h0m0 5h0m0 6h0m0 9h0m0 34h0m1-85h0m0 9h0m0 14h0m0 5h0m0 2h0m0 2h0m0 10h0m0 4h0m0 17h0m1-53h0m0 7h0m0 1h0m0 11h0m0 4h0m0 1h0m0 1h0m0 5h0m0 0h0m0 4h0m0 3h0m0 2h0m0 1h0m0 8h0m0 50h0m1-107h0m0 8h0m0 7h0m0 5h0m0 1h0m0 3h0m0 0h0m0 1h0m0 2h0m0 2h0m0 7h0m0 1h0m0 2h0m0 4h0m0 2h0m0 2h0m0 4h0m0 1h0m0 4h0m0 2h0m0 0h0m0 9h0m0 75h0m1-145h0m0 10h0m0 4h0m0 10h0m0 13h0m0 9h0m0 4h0m0 6h0m0 2h0m0 7h0m0 7h0m0 2h0m1-75h0m0 7h0m0 12h0m0 0h0m0 0h0m0 13h0m0 21h0m0 12h0m0 10h0m0 13h0m1-139h0m0 51h0m0 19h0m0 2h0m0 3h0m0 14h0m0 11h0m0 18h0m0 13h0m0 13h0m1-129h0m0 28h0m0 5h0m0 10h0m0 6h0m0 8h0m0 14h0m0 14h0m0 8h0m0 17h0m0 13h0m1-236h0m0 147h0m0 9h0m0 12h0m0 4h0m0 5h0m0 0h0m0 5h0m0 8h0m0 2h0m0 7h0m0 1h0m0 5h0m0 1h0m0 7h0m0 42h0m1-180h0m0 111h0m0 2h0m0 1h0m0 5h0m0 2h0m0 9h0m0 10h0m1-103h0m0 26h0m0 3h0m0 24h0m0 5h0m0 5h0m0 2h0m0 9h0m0 4h0m0 7h0m0 2h0m0 3h0m0 6h0m0 11h0m0 0h0m0 2h0m1-71h0m0 25h0m0 0h0m0 0h0m0 0h0m0 6h0m0 1h0m0 0h0m0 1h0m0 5h0m0 9h0m0 4h0m0 40h0m0 3h0m0 6h0m0 69h0m1-200h0m0 26h0m0 5h0m0 15h0m0 18h0m0 18h0m0 6h0m0 18h0m0 2h0m0 67h0m1-134h0m0 4h0m0 2h0m0 6h0m0 2h0m0 1h0m0 6h0m0 14h0m0 3h0m0 4h0m0 6h0m0 93h0m1-206h0m0 56h0m0 11h0m0 2h0m0 8h0m0 7h0m0 1h0m0 1h0m0 5h0m0 9h0m0 0h0m0 0h0m0 6h0m0 1h0m0 2h0m0 7h0m0 3h0m0 3h0m0 1h0m0 13h0m1-114h0m0 22h0m0 9h0m0 5h0m0 7h0m0 18h0m0 2h0m0 2h0m0 3h0m0 1h0m0 4h0m0 13h0m0 2h0m0 1h0m0 12h0m0 7h0m0 6h0m1-223h0m0 147h0m0 4h0m0 12h0m0 3h0m0 19h0m0 6h0m0 2h0m0 1h0m0 6h0m0 1h0m0 14h0m0 1h0m0 12h0m1-109h0m0 16h0m0 13h0m0 2h0m0 1h0m0 13h0m0 2h0m0 10h0m0 7h0m0 4h0m0 2h0m0 1h0m0 9h0m0 4h0m0 1h0m0 11h0m0 13h0m0 37h0m1-125h0m0 6h0m0 7h0m0 23h0m0 0h0m0 6h0m0 4h0m0 4h0m0 1h0m0 0h0m0 6h0m0 0h0m0 3h0m0 9h0m0 2h0m0 14h0m0 20h0m1-175h0m0 51h0m0 19h0m0 20h0m0 3h0m0 6h0m0 0h0m0 3h0m0 4h0m0 4h0m0 9h0m0 7h0m0 2h0m0 12h0m0 3h0m0 31h0m1-160h0m0 20h0m0 41h0m0 11h0m0 8h0m0 1h0m0 5h0m0 1h0m0 11h0m0 0h0m1-72h0m0 40h0m0 6h0m0 3h0m0 3h0m0 2h0m0 0h0m0 4h0m0 0h0m0 6h0m0 4h0m0 2h0m0 3h0m0 1h0m0 12h0m0 1h0m0 33h0m0 10h0m1-154h0m0 69h0m0 5h0m0 7h0m0 0h0m0 1h0m0 8h0m0 2h0m0 1h0m0 10h0m0 0h0m0 2h0m0 4h0m0 2h0m0 9h0m0 6h0m0 5h0m1-64h0m0 8h0m0 2h0m0 6h0m0 7h0m0 4h0m0 8h0m0 17h0m0 2h0m0 35h0m1-110h0m0 11h0m0 16h0m0 3h0m0 2h0m0 0h0m0 9h0m0 2h0m0 1h0m0 7h0m0 5h0m0 15h0m0 7h0m0 24h0m1-94h0m0 22h0m0 0h0m0 6h0m0 9h0m0 3h0m0 5h0m0 11h0m0 16h0m1-132h0m0 69h0m0 14h0m0 11h0m0 7h0m0 9h0m0 4h0m0 1h0m0 5h0m0 11h0m0 2h0m1-137h0m0 43h0m0 19h0m0 24h0m0 8h0m0 1h0m0 4h0m0 7h0m0 7h0m0 2h0m0 3h0m0 32h0m0 24h0m1-124h0m0 20h0m0 6h0m0 0h0m0 1h0m0 5h0m0 1h0m0 9h0m0 4h0m0 0h0m0 2h0m0 1h0m0 4h0m0 1h0m0 4h0m0 7h0m0 5h0m1-107h0m0 24h0m0 9h0m0 22h0m0 18h0m0 8h0m0 5h0m0 8h0m0 1h0m0 6h0m0 7h0m0 3h0m0 15h0m1-91h0m0 26h0m0 0h0m0 14h0m0 1h0m0 32h0m0 6h0m0 18h0m0 7h0m1-72h0m0 11h0m0 1h0m0 1h0m0 3h0m0 2h0m0 1h0m0 2h0m0 1h0m0 10h0m0 3h0m0 2h0m0 20h0m0 12h0m1-142h0m0 52h0m0 6h0m0 10h0m0 8h0m0 2h0m0 3h0m0 7h0m0 5h0m0 1h0m0 0h0m0 20h0m0 1h0m0 10h0m0 18h0m0 36h0m1-162h0m0 58h0m0 1h0m0 1h0m0 1h0m0 4h0m0 6h0m0 4h0m0 4h0m0 0h0m0 2h0m0 16h0m0 12h0m0 27h0m1-240h0m0 43h0m0 91h0m0 21h0m0 11h0m0 19h0m0 4h0m0 5h0m0 0h0m0 9h0m0 5h0m0 6h0m1-85h0m0 13h0m0 7h0m0 17h0m0 2h0m0 8h0m0 4h0m0 2h0m0 5h0m0 2h0m0 10h0m0 0h0m0 0h0m0 11h0m0 2h0m0 3h0m0 34h0m0 12h0m1-159h0m0 13h0m0 41h0m0 4h0m0 9h0m0 3h0m0 11h0m0 3h0m0 4h0m0 7h0m1-45h0m0 12h0m0 16h0m0 23h0m0 16h0m0 2h0m0 3h0m0 9h0m1-233h0m0 20h0m0 70h0m0 49h0m0 25h0m0 8h0m0 3h0m0 4h0m0 6h0m0 0h0m0 6h0m0 8h0m0 41h0m0 15h0m1-90h0m0 3h0m0 6h0m0 9h0m0 30h0m0 0h0m0 6h0m0 4h0m1-104h0m0 0h0m0 41h0m0 10h0m0 0h0m0 4h0m0 3h0m0 4h0m0 10h0m0 2h0m0 24h0m0 54h0m1-181h0m0 57h0m0 5h0m0 4h0m0 13h0m0 1h0m0 2h0m0 1h0m0 3h0m0 9h0m0 8h0m0 5h0m0 8h0m0 1h0m0 7h0m1-58h0m0 9h0m0 4h0m0 0h0m0 5h0m0 4h0m0 0h0m0 4h0m0 5h0m0 4h0m0 7h0m0 5h0m0 3h0m0 3h0m0 1h0m0 2h0m1-179h0m0 41h0m0 5h0m0 83h0m0 6h0m0 0h0m0 2h0m0 2h0m0 0h0m0 14h0m0 0h0m0 9h0m1-65h0m0 2h0m0 47h0m0 0h0m0 1h0m0 2h0m0 0h0m0 1h0m0 2h0m0 1h0m0 20h0m1-49h0m0 12h0m0 3h0m0 1h0m0 9h0m0 4h0m0 5h0m0 8h0m0 8h0m1-86h0m0 2h0m0 12h0m0 11h0m0 17h0m0 10h0m0 2h0m0 4h0m0 8h0m0 30h0m1-148h0m0 46h0m0 12h0m0 1h0m0 18h0m0 6h0m0 1h0m0 17h0m0 3h0m0 5h0m0 0h0m0 3h0m0 2h0m0 0h0m0 6h0m0 3h0m0 22h0m0 103h0m1-198h0m0 14h0m0 6h0m0 5h0m0 7h0m0 2h0m0 10h0m0 6h0m0 3h0m0 12h0m0 0h0m0 50h0m0 29h0m1-238h0m0 110h0m0 6h0m0 11h0m0 17h0m0 1h0m0 2h0m0 2h0m0 0h0m0 2h0m0 2h0m0 42h0m1-128h0m0 49h0m0 13h0m0 7h0m0 0h0m0 2h0m0 17h0m0 13h0m0 1h0m0 4h0m0 5h0m0 12h0m0 7h0m0 1h0m0 1h0m0 4h0m0 47h0m1-244h0m0 99h0m0 7h0m0 28h0m0 7h0m0 4h0m0 2h0m0 1h0m0 0h0m0 3h0m0 4h0m0 0h0m0 4h0m0 3h0m0 5h0m0 31h0m1-145h0m0 64h0m0 6h0m0 6h0m0 1h0m0 6h0m0 3h0m0 2h0m0 6h0m0 0h0m0 15h0m0 55h0m1-98h0m0 3h0m0 5h0m0 3h0m0 9h0m0 9h0m0 11h0m0 4h0m0 6h0m0 17h0m1-80h0m0 17h0m0 17h0m0 6h0m0 1h0m0 0h0m0 1h0m0 10h0m0 8h0m0 5h0m0 28h0m0 5h0m1-223h0m0 61h0m0 13h0m0 52h0m0 8h0m0 14h0m0 3h0m0 12h0m0 2h0m0 10h0m0 3h0m0 2h0m0 7h0m0 4h0m0 11h0m0 5h0m0 98h0m1-271h0m0 14h0m0 71h0m0 11h0m0 9h0m0 4h0m0 2h0m0 1h0m0 5h0m0 12h0m0 5h0m0 0h0m0 4h0m0 5h0m0 2h0m0 16h0m1-133h0m0 55h0m0 1h0m0 19h0m0 1h0m0 3h0m0 2h0m0 0h0m0 7h0m0 8h0m0 14h0m0 3h0m0 0h0m0 0h0m0 8h0m0 26h0m1-113h0m0 10h0m0 18h0m0 1h0m0 9h0m0 1h0m0 12h0m0 8h0m0 1h0m0 5h0m0 7h0m0 2h0m1-91h0m0 27h0m0 14h0m0 5h0m0 14h0m0 9h0m0 9h0m0 3h0m0 4h0m0 14h0m0 12h0m0 41h0m1-214h0m0 88h0m0 18h0m0 3h0m0 6h0m0 1h0m0 3h0m0 1h0m0 7h0m0 3h0m0 13h0m0 1h0m0 5h0m0 3h0m0 5h0m0 2h0m0 6h0m0 37h0m0 34h0m1-167h0m0 12h0m0 33h0m0 25h0m0 12h0m0 8h0m0 3h0m0 7h0m1-58h0m0 9h0m0 3h0m0 7h0m0 5h0m0 0h0m0 5h0m0 6h0m0 1h0m0 4h0m0 0h0m0 1h0m0 12h0m0 11h0m0 24h0m0 10h0m1-173h0m0 72h0m0 14h0m0 1h0m0 9h0m0 5h0m0 5h0m0 21h0m0 6h0m0 6h0m0 32h0m1-149h0m0 66h0m0 5h0m0 4h0m0 9h0m0 5h0m0 0h0m0 9h0m0 1h0m0 11h0m0 3h0m0 3h0m1-76h0m0 8h0m0 19h0m0 5h0m0 6h0m0 0h0m0 0h0m0 1h0m0 2h0m0 4h0m0 11h0m0 2h0m0 3h0m0 9h0m0 43h0m1-114h0m0 6h0m0 2h0m0 3h0m0 8h0m0 22h0m0 4h0m0 3h0m0 2h0m0 11h0m0 7h0m0 1h0m0 3h0m0 9h0m1-69h0m0 13h0m0 12h0m0 3h0m0 2h0m0 14h0m0 1h0m0 2h0m0 3h0m0 7h0m0 1h0m0 19h0m0 13h0m0 12h0m1-172h0m0 73h0m0 3h0m0 27h0m0 8h0m0 5h0m0 2h0m0 3h0m0 4h0m0 0h0m0 3h0m0 9h0m0 4h0m0 12h0m1-120h0m0 24h0m0 7h0m0 6h0m0 1h0m0 3h0m0 6h0m0 1h0m0 11h0m0 2h0m0 6h0m0 2h0m0 3h0m0 10h0m0 11h0m0 4h0m0 17h0m1-75h0m0 19h0m0 1h0m0 5h0m0 6h0m0 6h0m0 6h0m0 20h0m0 19h0m1-188h0m0 76h0m0 17h0m0 1h0m0 0h0m0 14h0m0 5h0m0 3h0m0 0h0m0 1h0m0 6h0m0 1h0m0 1h0m0 7h0m0 2h0m0 19h0m0 1h0m0 10h0m0 3h0m0 47h0m1-136h0m0 19h0m0 5h0m0 8h0m0 11h0m0 11h0m0 5h0m0 5h0m0 5h0m1-174h0m0 81h0m0 20h0m0 1h0m0 15h0m0 21h0m0 5h0m0 0h0m0 7h0m0 1h0m0 5h0m0 3h0m0 2h0m0 0h0m0 8h0m0 5h0m0 1h0m0 8h0m0 3h0m0 9h0m0 13h0m0 9h0m1-79h0m0 2h0m0 2h0m0 2h0m0 5h0m0 9h0m0 2h0m0 10h0m0 4h0m0 48h0m0 4h0m1-101h0m0 18h0m0 15h0m0 5h0m0 0h0m0 2h0m0 5h0m0 4h0m0 3h0m0 3h0m0 11h0m0 1h0m0 5h0m0 10h0m1-173h0m0 92h0m0 15h0m0 1h0m0 8h0m0 2h0m0 1h0m0 0h0m0 1h0m0 3h0m0 0h0m0 2h0m0 19h0m0 18h0m0 17h0m1-105h0m0 6h0m0 9h0m0 1h0m0 20h0m0 12h0m0 2h0m0 7h0m0 2h0m0 11h0m0 9h0m0 1h0m0 1h0m0 33h0m1-122h0m0 21h0m0 6h0m0 10h0m0 8h0m0 4h0m0 0h0m0 3h0m0 3h0m0 5h0m0 2h0m0 3h0m0 0h0m0 7h0m0 9h0m0 4h0m0 4h0m0 17h0m1-110h0m0 0h0m0 2h0m0 34h0m0 3h0m0 1h0m0 2h0m0 9h0m0 7h0m0 5h0m0 2h0m0 5h0m0 41h0m0 69h0m1-143h0m0 11h0m0 4h0m0 1h0m0 2h0m0 8h0m0 3h0m0 1h0m0 13h0m0 3h0m1-46h0m0 8h0m0 29h0m0 2h0m0 16h0m0 51h0m1-138h0m0 31h0m0 10h0m0 13h0m0 4h0m0 17h0m0 2h0"/></g><g id="b"><path d="M103 135h0m0 96h0m0 13h0m0 5h0m0 2h0m0 5h0m1-25h0m0 3h0m0 2h0m0 1h0m0 1h0m0 1h0m0 2h0m0 2h0m0 3h0m0 4h0m0 18h0m0 8h0m0 22h0m1-126h0m0 65h0m0 4h0m0 3h0m0 9h0m0 8h0m0 19h0m0 26h0m0 100h0m1-207h0m0 14h0m0 10h0m0 9h0m0 1h0m0 2h0m0 1h0m0 3h0m0 3h0m0 4h0m0 3h0m0 6h0m0 13h0m1-123h0m0 46h0m0 18h0m0 2h0m0 3h0m0 6h0m0 6h0m0 0h0m0 1h0m0 8h0m0 3h0m0 7h0m0 1h0m0 9h0m0 12h0m0 47h0m1-107h0m0 9h0m0 2h0m0 1h0m0 21h0m0 2h0m0 11h0m0 4h0m0 6h0m0 29h0m0 106h0m1-209h0m0 37h0m0 4h0m0 9h0m0 6h0m0 1h0m0 13h0m0 17h0m0 98h0m1-181h0m0 12h0m0 6h0m0 3h0m0 3h0m0 2h0m0 5h0m0 7h0m0 2h0m0 3h0m0 4h0m0 8h0m0 2h0m0 2h0m0 21h0m0 34h0m1-129h0m0 30h0m0 0h0m0 7h0m0 2h0m0 2h0m0 0h0m0 8h0m0 3h0m0 3h0m0 4h0m0 4h0m0 2h0m0 4h0m0 9h0m0 32h0m0 102h0m1-198h0m0 16h0m0 8h0m0 5h0m0 0h0m0 11h0m0 9h0m0 4h0m0 18h0m0 0h0m0 6h0m0 1h0m0 8h0m1-78h0m0 7h0m0 12h0m0 21h0m0 1h0m0 12h0m0 0h0m0 3h0m0 14h0m0 13h0m1-103h0m0 4h0m0 0h0m0 35h0m0 2h0m0 4h0m0 11h0m0 3h0m0 3h0m0 6h0m0 8h0m0 2h0m0 0h0m0 10h0m1-83h0m0 21h0m0 9h0m0 4h0m0 6h0m0 2h0m0 4h0m0 9h0m0 7h0m0 3h0m0 7h0m0 5h0m0 3h0m0 3h0m1-52h0m0 2h0m0 6h0m0 6h0m0 3h0m0 3h0m0 16h0m0 3h0m0 0h0m0 1h0m0 8h0m0 15h0m0 25h0m0 77h0m1-183h0m0 20h0m0 5h0m0 7h0m0 9h0m0 5h0m0 50h0m1-121h0m0 30h0m0 2h0m0 6h0m0 12h0m0 5h0m0 19h0m0 8h0m0 0h0m0 14h0m1-125h0m0 27h0m0 22h0m0 3h0m0 18h0m0 3h0m0 4h0m0 2h0m0 2h0m0 1h0m0 3h0m0 1h0m0 9h0m0 10h0m0 14h0m0 7h0m0 12h0m1-94h0m0 9h0m0 20h0m0 8h0m0 0h0m0 7h0m0 5h0m0 1h0m0 4h0m0 2h0m0 3h0m0 3h0m0 5h0m0 0h0m0 2h0m0 7h0m0 19h0m1-160h0m0 79h0m0 2h0m0 26h0m0 5h0m0 21h0m1-67h0m0 37h0m0 1h0m0 1h0m0 2h0m0 5h0m0 0h0m0 4h0m0 1h0m0 1h0m0 1h0m0 34h0m1-107h0m0 35h0m0 13h0m0 1h0m0 3h0m0 2h0m0 14h0m0 1h0m0 9h0m0 20h0m0 6h0m0 9h0m1-83h0m0 23h0m0 1h0m0 5h0m0 2h0m0 30h0m0 18h0m0 12h0m1-86h0m0 6h0m0 16h0m0 3h0m0 25h0m0 2h0m1-43h0m0 3h0m0 3h0m0 1h0m0 0h0m0 3h0m0 38h0m0 19h0m1-74h0m0 6h0m0 5h0m0 5h0m0 11h0m0 1h0m0 3h0m0 3h0m0 0h0m0 9h0m0 16h0m1-58h0m0 2h0m0 17h0m0 2h0m0 1h0m0 9h0m0 3h0m0 5h0m0 6h0m0 75h0m1-136h0m0 11h0m0 1h0m0 5h0m0 13h0m0 1h0m0 9h0m0 0h0m0 10h0m0 3h0m0 0h0m0 4h0m0 2h0m0 1h0m0 8h0m0 11h0m1-124h0m0 38h0m0 25h0m0 10h0m0 7h0m0 10h0m0 12h0m0 5h0m0 1h0m0 54h0m1-187h0m0 75h0m0 27h0m0 17h0m0 4h0m0 7h0m0 2h0m1-99h0m0 30h0m0 1h0m0 28h0m0 0h0m0 1h0m0 2h0m0 2h0m0 18h0m0 0h0m0 11h0m0 7h0m0 0h0m1-60h0m0 12h0m0 6h0m0 9h0m0 10h0m0 6h0m0 3h0m0 7h0m0 16h0m1-68h0m0 4h0m0 10h0m0 5h0m0 2h0m0 4h0m0 6h0m0 3h0m0 11h0m0 3h0m0 0h0m0 5h0m0 0h0m1-25h0m0 4h0m0 2h0m0 6h0m0 3h0m0 5h0m1-143h0m0 45h0m0 17h0m0 26h0m0 26h0m0 0h0m0 3h0m0 2h0m0 2h0m0 6h0m0 0h0m0 18h0m0 3h0m0 37h0m1-98h0m0 2h0m0 2h0m0 3h0m0 16h0m0 7h0m0 16h0m0 3h0m0 2h0m0 2h0m0 4h0m0 16h0m0 54h0m1-138h0m0 23h0m0 30h0m0 24h0m0 13h0m1-92h0m0 13h0m0 5h0m0 1h0m0 10h0m0 13h0m0 5h0m0 0h0m0 8h0m0 4h0m0 16h0m1-66h0m0 3h0m0 21h0m0 3h0m0 12h0m0 1h0m0 3h0m0 5h0m0 2h0m0 1h0m0 12h0m0 11h0m0 24h0m0 30h0m1-109h0m0 9h0m0 17h0m0 7h0m0 7h0m0 6h0m0 34h0m0 25h0m1-148h0m0 33h0m0 29h0m0 5h0m0 3h0m0 4h0m0 3h0m0 2h0m0 1h0m0 2h0m0 31h0m1-76h0m0 6h0m0 11h0m0 9h0m0 4h0m0 1h0m0 4h0m0 5h0m0 3h0m0 2h0m0 4h0m0 15h0m0 1h0m0 11h0m1-102h0m0 20h0m0 4h0m0 3h0m0 11h0m0 4h0m0 8h0m0 3h0m0 17h0m0 14h0m0 26h0m0 10h0m0 2h0m1-124h0m0 25h0m0 3h0m0 4h0m0 9h0m0 7h0m0 11h0m0 9h0m0 3h0m0 104h0m1-142h0m0 5h0m0 0h0m0 8h0m0 1h0m0 8h0m0 10h0m0 20h0m0 0h0m0 75h0m1-180h0m0 44h0m0 4h0m0 1h0m0 10h0m0 9h0m0 2h0m0 3h0m0 11h0m0 2h0m0 1h0m0 19h0m1-98h0m0 40h0m0 0h0m0 1h0m0 0h0m0 7h0m0 6h0m0 15h0m0 1h0m0 1h0m0 4h0m0 4h0m0 0h0m0 3h0m0 34h0m1-81h0m0 9h0m0 5h0m0 2h0m0 1h0m0 30h0m0 9h0m0 3h0m0 62h0m0 27h0m1-138h0m0 20h0m0 1h0m0 1h0m0 4h0m0 7h0m0 6h0m0 26h0m0 3h0m1-90h0m0 5h0m0 5h0m0 5h0m0 1h0m0 6h0m0 22h0m0 10h0m0 10h0m0 14h0m1-70h0m0 12h0m0 16h0m0 8h0m0 4h0m0 0h0m0 5h0m0 4h0m0 34h0m0 9h0m1-101h0m0 23h0m0 21h0m0 2h0m0 37h0m0 8h0m1-77h0m0 11h0m0 2h0m0 8h0m0 38h0m0 11h0m0 6h0m1-115h0m0 17h0m0 31h0m0 5h0m0 15h0m0 1h0m0 16h0m0 3h0m0 0h0m0 7h0m0 14h0m1-137h0m0 37h0m0 6h0m0 23h0m0 7h0m0 7h0m0 8h0m0 8h0m0 1h0m0 3h0m0 0h0m0 4h0m0 5h0m0 10h0m0 11h0m0 4h0m0 17h0m1-79h0m0 17h0m0 24h0m0 11h0m0 104h0m1-220h0m0 48h0m0 14h0m0 6h0m0 8h0m0 6h0m0 12h0m0 15h0m0 1h0m0 3h0m0 14h0m0 9h0m1-110h0m0 36h0m0 6h0m0 0h0m0 7h0m0 3h0m0 0h0m0 18h0m0 5h0m0 10h0m0 19h0m0 3h0m0 26h0m1-158h0m0 76h0m0 6h0m0 8h0m0 4h0m0 5h0m0 5h0m0 4h0m0 17h0m1-57h0m0 11h0m0 1h0m0 15h0m0 8h0m0 8h0m0 28h0m1-61h0m0 9h0m0 10h0m0 1h0m0 3h0m0 26h0m0 63h0m1-117h0m0 6h0m0 11h0m0 9h0m0 9h0m1-52h0m0 8h0m0 1h0m0 0h0m0 15h0m0 0h0m0 11h0m0 6h0m0 1h0m0 9h0m0 19h0m0 65h0m1-139h0m0 1h0m0 9h0m0 19h0m0 11h0m0 8h0m0 14h0m0 52h0m1-120h0m0 8h0m0 26h0m0 6h0m0 10h0m0 1h0m0 5h0m0 5h0m0 17h0m1-92h0m0 10h0m0 13h0m0 15h0m0 6h0m0 5h0m0 7h0m0 2h0m0 5h0m0 9h0m0 5h0m0 110h0m1-167h0m0 18h0m0 10h0m0 12h0m0 11h0m0 5h0m0 8h0m0 5h0m0 3h0m0 17h0m1-85h0m0 3h0m0 18h0m0 3h0m0 0h0m0 3h0m0 4h0m0 2h0m0 11h0m0 9h0m0 6h0m0 3h0m0 19h0m1-141h0m0 70h0m0 7h0m0 17h0m0 1h0m0 0h0m0 4h0m0 11h0m0 31h0m1-56h0m0 7h0m0 2h0m0 4h0m0 1h0m0 3h0m0 1h0m0 1h0m0 3h0m0 3h0m0 4h0m0 40h0m1-92h0m0 3h0m0 4h0m0 6h0m0 21h0m0 41h0m1-92h0m0 12h0m0 19h0m0 2h0m0 4h0m0 6h0m0 4h0m0 2h0m0 7h0m0 10h0m0 26h0m0 38h0m1-130h0m0 27h0m0 4h0m0 3h0m0 11h0m0 8h0m0 13h0m0 11h0m0 3h0m0 16h0m0 9h0m1-139h0m0 23h0m0 34h0m0 14h0m0 13h0m0 1h0m0 9h0m0 11h0m0 32h0m0 27h0m1-174h0m0 47h0m0 11h0m0 31h0m0 1h0m0 7h0m0 5h0m0 16h0m0 3h0m0 16h0m0 9h0m1-94h0m0 21h0m0 3h0m0 10h0m0 1h0m0 2h0m0 1h0m0 12h0m0 2h0m0 2h0m0 16h0m1-63h0m0 27h0m0 2h0m0 2h0m0 1h0m0 8h0m0 0h0m0 3h0m0 1h0m0 16h0m0 4h0m0 1h0m1-66h0m0 23h0m0 1h0m0 10h0m0 7h0m0 8h0m0 9h0m0 6h0m0 3h0m0 12h0m0 2h0m0 95h0m1-172h0m0 2h0m0 19h0m0 8h0m0 1h0m0 2h0m0 1h0m0 4h0m0 15h0m0 8h0m0 48h0m1-106h0m0 9h0m0 7h0m0 10h0m0 11h0m0 4h0m0 2h0m0 13h0m0 7h0m0 4h0m1-66h0m0 18h0m0 1h0m0 7h0m0 9h0m0 5h0m0 4h0m0 9h0m0 15h0m0 1h0m0 18h0m1-77h0m0 11h0m0 13h0m0 8h0m0 1h0m0 12h0m0 6h0m0 4h0m1-49h0m0 11h0m0 1h0m0 1h0m0 4h0m0 14h0m0 3h0m0 0h0m0 4h0m0 1h0m0 7h0m0 3h0m0 12h0m0 4h0m1-88h0m0 25h0m0 22h0m0 1h0m0 15h0m0 19h0m0 111h0m1-204h0m0 14h0m0 12h0m0 13h0m0 1h0m0 11h0m0 1h0m0 1h0m0 4h0m0 0h0m0 0h0m0 4h0m0 10h0m0 3h0m0 8h0m0 7h0m1-91h0m0 28h0m0 4h0m0 16h0m0 10h0m0 7h0m0 10h0m0 2h0m0 8h0m0 76h0m1-132h0m0 2h0m0 5h0m0 15h0m0 0h0m0 1h0m0 8h0m0 3h0m0 8h0m0 1h0m0 96h0m1-146h0m0 10h0m0 4h0m0 10h0m0 4h0m0 17h0m1-103h0m0 9h0m0 52h0m0 11h0m0 5h0m0 11h0m0 10h0m0 1h0m0 3h0m0 2h0m0 22h0m1-67h0m0 9h0m0 0h0m0 19h0m0 0h0m0 27h0m0 3h0m0 4h0m0 8h0m1-135h0m0 63h0m0 20h0m0 7h0m0 0h0m0 1h0m0 5h0m0 5h0m0 6h0m0 1h0m0 9h0m0 5h0m0 12h0m0 36h0m0 44h0m1-149h0m0 1h0m0 34h0m0 4h0m0 9h0m0 23h0m1-82h0m0 21h0m0 7h0m0 18h0m0 1h0m0 8h0m0 5h0m0 1h0m0 94h0m1-234h0m0 56h0m0 36h0m0 12h0m0 28h0m0 3h0m0 0h0m0 2h0m0 2h0m0 7h0m0 0h0m0 1h0m0 10h0m0 1h0m1-175h0m0 71h0m0 37h0m0 7h0m0 3h0m0 3h0m0 24h0m0 4h0m0 5h0m0 16h0m0 1h0m0 8h0m0 0h0m0 3h0m0 14h0m0 0h0m0 13h0m0 1h0m1-209h0m0 85h0m0 38h0m0 4h0m0 0h0m0 3h0m0 0h0m0 0h0m0 3h0m0 10h0m0 5h0m0 4h0m0 0h0m0 5h0m0 7h0m0 4h0m0 0h0m0 4h0m0 28h0m1-97h0m0 8h0m0 11h0m0 4h0m0 1h0m0 6h0m0 1h0m0 7h0m0 8h0m0 1h0m0 1h0m0 5h0m0 1h0m0 3h0m0 14h0m0 10h0m0 56h0m1-159h0m0 1h0m0 51h0m0 14h0m0 10h0m0 11h0m0 19h0m0 49h0m1-170h0m0 69h0m0 5h0m0 7h0m0 3h0m0 6h0m0 5h0m0 1h0m0 2h0m0 1h0m0 24h0m0 4h0m0 2h0m0 11h0m1-116h0m0 10h0m0 20h0m0 4h0m0 10h0m0 1h0m0 1h0m0 10h0m0 45h0m0 45h0m1-99h0m0 19h0m0 3h0m0 1h0m0 2h0m0 0h0m0 5h0m0 4h0m0 5h0m0 8h0m1-78h0m0 11h0m0 5h0m0 5h0m0 1h0m0 4h0m0 4h0m0 5h0m0 5h0m0 0h0m0 2h0m0 0h0m0 3h0m0 1h0m0 7h0m0 23h0m0 21h0m0 59h0m1-154h0m0 28h0m0 15h0m0 2h0m0 7h0m0 2h0m0 5h0m0 0h0m0 5h0m0 18h0m1-56h0m0 10h0m0 13h0m0 6h0m0 151h0m1-183h0m0 10h0m0 10h0m0 7h0m0 5h0m0 0h0m0 5h0m0 37h0m1-81h0m0 21h0m0 14h0m0 4h0m0 0h0m0 37h0m1-65h0m0 11h0m0 0h0m0 12h0m0 4h0m0 27h0m0 13h0m0 67h0m1-151h0m0 6h0m0 2h0m0 5h0m0 2h0m0 12h0m0 8h0m0 6h0m0 7h0m0 14h0m0 33h0m1-132h0m0 17h0m0 7h0m0 20h0m0 2h0m0 12h0m0 1h0m0 3h0m0 11h0m0 4h0m0 3h0m0 2h0m0 1h0m1-98h0m0 62h0m0 19h0m0 10h0m0 0h0m0 4h0m0 0h0m0 10h0m0 8h0m0 1h0m0 2h0m0 11h0m0 33h0m1-94h0m0 2h0m0 7h0m0 10h0m0 6h0m0 4h0m0 2h0m0 1h0m0 0h0m0 1h0m0 12h0m1-60h0m0 0h0m0 10h0m0 4h0m0 12h0m0 3h0m0 2h0m0 2h0m0 5h0m0 8h0m0 1h0m0 1h0m0 1h0m0 9h0m1-108h0m0 80h0m0 5h0m0 13h0m0 0h0m0 1h0m0 3h0m0 1h0m0 4h0m0 2h0m0 8h0m0 5h0m0 38h0m1-128h0m0 19h0m0 4h0m0 0h0m0 0h0m0 18h0m0 5h0m0 6h0m0 3h0m0 9h0m0 1h0m0 3h0m0 10h0m0 2h0m0 7h0m0 21h0m1-124h0m0 57h0m0 1h0m0 9h0m0 11h0m0 1h0m0 4h0m0 42h0m0 97h0m1-302h0m0 29h0m0 105h0m0 14h0m0 15h0m0 1h0m0 3h0m0 2h0m0 5h0m0 5h0m0 2h0m1-38h0m0 11h0m0 1h0m0 2h0m0 2h0m0 4h0m0 5h0m0 0h0m0 12h0m0 0h0m0 19h0m0 4h0m1-64h0m0 12h0m0 7h0m0 9h0m0 3h0m0 27h0m1-138h0m0 90h0m0 4h0m0 0h0m0 3h0m0 8h0m0 3h0m0 4h0m0 3h0m0 118h0m1-185h0m0 8h0m0 7h0m0 13h0m0 13h0m0 10h0m0 5h0m0 1h0m0 21h0m1-41h0m0 2h0m0 1h0m0 11h0m0 8h0m0 6h0m0 11h0m0 28h0m1-87h0m0 9h0m0 13h0m0 12h0m0 7h0m0 13h0m0 2h0m0 2h0m0 15h0m0 17h0m1-72h0m0 13h0m0 5h0m0 4h0m0 10h0m0 3h0m0 6h0m1-131h0m0 29h0m0 33h0m0 3h0m0 16h0m0 4h0m0 7h0m0 8h0m0 8h0m0 7h0m0 0h0m0 4h0m0 6h0m0 5h0m0 7h0m1-57h0m0 2h0m0 13h0m0 4h0m0 3h0m0 6h0m0 11h0m0 1h0m0 2h0m0 1h0m0 1h0m0 18h0m1-146h0m0 60h0m0 39h0m0 2h0m0 6h0m0 2h0m0 2h0m0 1h0m0 13h0m1-135h0m0 73h0m0 8h0m0 5h0m0 15h0m0 10h0m0 5h0m0 8h0m0 10h0m0 2h0m0 25h0m1-53h0m0 0h0m0 6h0m0 8h0m0 2h0m0 1h0m0 8h0m0 1h0m0 21h0m0 38h0m1-224h0m0 107h0m0 38h0m0 2h0m0 2h0m0 7h0m0 0h0m0 12h0m0 5h0m0 0h0m0 4h0m0 15h0m0 7h0m0 5h0m0 18h0m1-82h0m0 16h0m0 8h0m0 5h0m0 2h0m0 48h0m1-117h0m0 18h0m0 15h0m0 0h0m0 7h0m0 3h0m0 8h0m0 2h0m0 14h0m0 5h0m0 8h0m0 4h0m1-96h0m0 43h0m0 0h0m0 14h0m0 5h0m0 13h0m0 5h0m0 4h0m0 2h0m0 22h0m0 3h0m0 34h0m1-130h0m0 2h0m0 18h0m0 3h0m0 1h0m0 7h0m0 11h0m0 3h0m0 11h0m0 61h0m0 5h0m1-175h0m0 56h0m0 17h0m0 3h0m0 8h0m0 6h0m0 5h0m0 1h0m0 0h0m0 1h0m0 5h0m0 6h0m0 4h0m0 13h0m0 21h0m1-69h0m0 3h0m0 1h0m0 1h0m0 13h0m0 5h0m0 3h0m0 1h0m0 0h0m0 1h0m0 16h0m0 1h0m0 1h0m0 6h0m0 28h0m1-93h0m0 9h0m0 6h0m0 10h0m0 2h0m0 6h0m0 7h0m0 1h0m0 10h0m0 2h0m0 6h0m1-75h0m0 16h0m0 39h0m0 2h0m0 1h0m0 8h0m0 8h0m0 3h0m0 2h0m0 4h0m0 4h0m0 2h0m0 3h0m0 2h0m0 2h0m1-71h0m0 18h0m0 6h0m0 0h0m0 6h0m0 19h0m0 1h0m0 2h0m0 15h0m1-134h0m0 75h0m0 12h0m0 6h0m0 0h0m0 1h0m0 2h0m0 4h0m0 4h0m0 8h0m0 2h0m0 27h0m0 2h0m0 20h0m1-108h0m0 5h0m0 1h0m0 15h0m0 1h0m0 15h0m0 24h0m0 15h0m1-108h0m0 45h0m0 5h0m0 32h0m0 1h0m0 2h0m0 5h0m0 26h0m0 0h0m1-150h0m0 46h0m0 19h0m0 16h0m0 7h0m0 5h0m0 1h0m0 22h0m0 4h0m0 8h0m0 1h0m0 7h0m0 14h0m1-128h0m0 69h0m0 3h0m0 1h0m0 1h0m0 4h0m0 11h0m0 10h0m0 6h0m0 25h0m0 5h0m1-92h0m0 23h0m0 6h0m0 2h0m0 0h0m0 1h0m0 2h0m0 7h0m0 9h0m0 43h0m1-98h0m0 6h0m0 29h0m0 3h0m0 0h0m0 15h0m0 4h0m0 0h0m0 11h0m0 16h0m0 3h0m0 25h0m1-89h0m0 8h0m0 3h0m0 11h0m0 1h0m0 5h0m0 1h0m0 8h0m1-112h0m0 86h0m0 5h0m0 2h0m0 7h0m0 4h0m0 5h0m0 2h0m0 3h0m0 8h0m0 55h0m1-112h0m0 26h0m0 1h0m0 1h0m0 0h0m0 10h0m0 19h0m0 4h0m0 7h0m0 1h0m0 4h0m0 3h0m1-110h0m0 52h0m0 16h0m0 5h0m0 12h0m0 28h0m0 25h0m1-163h0m0 69h0m0 2h0m0 7h0m0 8h0m0 2h0m0 2h0m0 1h0m0 0h0m0 2h0m0 1h0m0 5h0m0 6h0m0 0h0m0 6h0m0 11h0m0 28h0m1-106h0m0 24h0m0 19h0m0 9h0m0 12h0m0 7h0m0 1h0m0 19h0m0 11h0m0 32h0m0 64h0m1-168h0m0 1h0m0 7h0m0 0h0m0 1h0m0 5h0m0 2h0m0 15h0m0 8h0m0 8h0m0 8h0m0 20h0m1-121h0m0 45h0m0 21h0m0 4h0m0 5h0m0 17h0m0 4h0m1-78h0m0 7h0m0 15h0m0 5h0m0 7h0m0 0h0m0 2h0m0 1h0m0 1h0m0 22h0m0 5h0m0 0h0m0 2h0m0 9h0m0 6h0m0 34h0m0 31h0m1-91h0m0 2h0m0 2h0m0 0h0m0 6h0m0 1h0m0 4h0m0 11h0m0 16h0m1-48h0m0 6h0m0 6h0m0 4h0m0 3h0m0 3h0m0 5h0m0 41h0m1-165h0m0 64h0m0 12h0m0 3h0m0 1h0m0 12h0m0 1h0m0 13h0m0 1h0m0 1h0m0 11h0m0 1h0m1-28h0m0 2h0m0 2h0m0 15h0m0 1h0m0 1h0m0 45h0m0 18h0m1-126h0m0 10h0m0 2h0m0 16h0m0 11h0m0 4h0m0 9h0m0 2h0m0 4h0m0 3h0m0 4h0m0 7h0m0 19h0m1-72h0m0 16h0m0 1h0m0 5h0m0 7h0m0 3h0m0 24h0m0 5h0m0 6h0m0 14h0m1-79h0m0 21h0m0 8h0m0 4h0m0 4h0m0 2h0m0 7h0m0 8h0m1-39h0m0 5h0m0 4h0m0 7h0m1-55h0m0 20h0m0 0h0m0 6h0m0 22h0m0 1h0m0 4h0m0 9h0m0 4h0m0 7h0m0 3h0m0 20h0m1-78h0m0 3h0m0 8h0m0 3h0m0 13h0m0 3h0m0 1h0m0 4h0m0 1h0m0 10h0m0 9h0m0 0h0m1-68h0m0 30h0m0 1h0m0 5h0m0 4h0m0 0h0m0 0h0m0 1h0m0 0h0m0 3h0m0 1h0m0 1h0m0 9h0m0 7h0m0 1h0m0 13h0m0 0h0m0 16h0m0 51h0m1-207h0m0 77h0m0 17h0m0 6h0m0 6h0m0 1h0m0 9h0m0 14h0m1-84h0m0 8h0m0 36h0m0 1h0m0 6h0m0 4h0m0 4h0m0 10h0m0 2h0m0 2h0m0 2h0m0 31h0m0 16h0m1-88h0m0 21h0m0 13h0m0 2h0m0 10h0m0 11h0m0 0h0m0 4h0m0 14h0m0 13h0m1-164h0m0 51h0m0 15h0m0 43h0m0 4h0m0 1h0m0 4h0m0 16h0m1-177h0m0 127h0m0 23h0m0 2h0m0 0h0m0 14h0m0 11h0m0 17h0m1-185h0m0 19h0m0 86h0m0 10h0m0 29h0m0 0h0m0 5h0m0 2h0m0 2h0m0 1h0m0 4h0m0 0h0m0 10h0m1-69h0m0 17h0m0 5h0m0 15h0m0 0h0m0 1h0m0 1h0m0 4h0m0 0h0m0 6h0m0 52h0m1-114h0m0 20h0m0 0h0m0 11h0m0 1h0m0 11h0m0 1h0m0 4h0m0 4h0m0 1h0m0 1h0m0 1h0m0 4h0m0 12h0m0 9h0m0 4h0m0 24h0m1-139h0m0 72h0m0 8h0m0 2h0m0 6h0m0 4h0m0 3h0m0 1h0m0 8h0m0 5h0m1-81h0m0 10h0m0 12h0m0 8h0m0 10h0m0 2h0m0 19h0m0 5h0m0 9h0m0 65h0m1-195h0m0 63h0m0 19h0m0 10h0m0 50h0m1-154h0m0 97h0m0 9h0m0 4h0m0 4h0m0 3h0m0 2h0m0 0h0m0 20h0m0 3h0m0 4h0m0 6h0m1-64h0m0 13h0m0 8h0m0 3h0m0 7h0m0 3h0m0 11h0m0 9h0m0 5h0m0 4h0m0 32h0m0 14h0m1-98h0m0 1h0m0 0h0m0 6h0m0 0h0m0 4h0m0 22h0m0 0h0m0 5h0m0 0h0m1-147h0m0 71h0m0 36h0m0 1h0m0 18h0m0 4h0m0 2h0m0 1h0m0 2h0m0 3h0m0 1h0m0 7h0m0 1h0m1-27h0m0 3h0m0 2h0m0 2h0m0 1h0m0 0h0m0 8h0m0 14h0m1-65h0m0 27h0m0 3h0m0 1h0m0 5h0m0 5h0m0 2h0m0 2h0m0 9h0m0 15h0m0 2h0m0 15h0m1-87h0m0 16h0m0 1h0m0 9h0m0 9h0m0 7h0m0 0h0m0 6h0m0 16h0m0 5h0m0 13h0m1-136h0m0 86h0m0 7h0m0 5h0m0 7h0m0 2h0m0 4h0m0 1h0m0 2h0m0 3h0m0 5h0m0 4h0m0 2h0m0 0h0m0 47h0m0 75h0m1-230h0m0 22h0m0 8h0m0 44h0m0 3h0m0 1h0m0 3h0m0 1h0m0 1h0m0 16h0m0 1h0m0 4h0m0 17h0m0 7h0m1-106h0m0 9h0m0 20h0m0 4h0m0 11h0m0 8h0m0 6h0m0 0h0m0 0h0m0 7h0m0 12h0m0 2h0m0 24h0m0 8h0m1-95h0m0 34h0m0 5h0m0 2h0m0 11h0m0 3h0m0 2h0m0 5h0m0 6h0m0 1h0m0 4h0m1-78h0m0 4h0m0 3h0m0 5h0m0 12h0m0 10h0m0 14h0m0 4h0m0 17h0m0 4h0m0 9h0m0 4h0m1-81h0m0 16h0m0 9h0m0 5h0m0 6h0m0 6h0m0 2h0m0 1h0m0 15h0m0 6h0m0 4h0m0 2h0m0 19h0m1-107h0m0 20h0m0 1h0m0 10h0m0 4h0m0 5h0m0 1h0m0 3h0m0 7h0m0 3h0m0 12h0m0 5h0m0 7h0m0 1h0m0 1h0m0 6h0m1-42h0m0 8h0m0 15h0m0 4h0m0 1h0m0 14h0m1-62h0m0 6h0m0 2h0m0 4h0m0 15h0m0 6h0m0 4h0m0 0h0m0 3h0m0 2h0m0 0h0m0 0h0m0 22h0m1-65h0m0 4h0m0 7h0m0 8h0m0 1h0m0 5h0m0 0h0m0 3h0m0 0h0m0 7h0m0 2h0m0 0h0m0 5h0m0 10h0m0 7h0m1-84h0m0 30h0m0 4h0m0 6h0m0 1h0m0 1h0m0 5h0m0 14h0m0 0h0m0 1h0m0 3h0m0 1h0m0 1h0m0 3h0m0 16h0m0 14h0m0 2h0m1-67h0m0 17h0m0 3h0m0 4h0m0 27h0m0 36h0m1-105h0m0 23h0m0 6h0m0 1h0m0 5h0m0 0h0m0 8h0m0 7h0m0 0h0m0 2h0m0 9h0m0 31h0m0 6h0m1-154h0m0 46h0m0 15h0m0 12h0m0 7h0m0 2h0m0 1h0m0 2h0m0 10h0m0 5h0m0 2h0m0 20h0m0 8h0m0 27h0m0 55h0m1-149h0m0 1h0m0 11h0m0 10h0m0 12h0m0 3h0m0 31h0m0 7h0m0 11h0m1-93h0m0 1h0m0 10h0m0 17h0m0 6h0m0 6h0m0 2h0m0 0h0m0 6h0m0 14h0m0 0h0m1-93h0m0 44h0m0 20h0m0 16h0m0 2h0m0 5h0m0 4h0m0 6h0m0 5h0m0 16h0m1-119h0m0 44h0m0 2h0m0 4h0m0 10h0m0 5h0m0 5h0m0 6h0m0 3h0m0 2h0m0 7h0m0 7h0m0 8h0m1-58h0m0 1h0m0 16h0m0 1h0m0 0h0m0 0h0m0 5h0m0 4h0m0 24h0m1-41h0m0 7h0m0 4h0m0 1h0m0 6h0m0 4h0m0 3h0m0 3h0m0 9h0m0 4h0m0 2h0m1-101h0m0 45h0m0 8h0m0 3h0m0 4h0m0 5h0m0 5h0m0 7h0m0 9h0m0 3h0m0 22h0m0 13h0m0 26h0m1-99h0m0 16h0m0 5h0m0 0h0m0 2h0m0 2h0m0 13h0m0 18h0m1-51h0m0 0h0m0 6h0m0 2h0m0 7h0m0 2h0m0 21h0m0 12h0m0 24h0m0 12h0m0 41h0m1-149h0m0 30h0m0 4h0m0 17h0m0 0h0m0 0h0m0 8h0m0 1h0m0 4h0m0 40h0m1-163h0m0 73h0m0 12h0m0 9h0m0 23h0m0 18h0m1-121h0m0 56h0m0 3h0m0 6h0m0 7h0m0 2h0m0 7h0m0 2h0m0 3h0m0 4h0m0 43h0m1-78h0m0 11h0m0 13h0m0 7h0m0 4h0m0 2h0m0 3h0m0 8h0m0 18h0m0 4h0m0 37h0m1-99h0m0 3h0m0 16h0m0 11h0m0 2h0m0 6h0m0 13h0m1-49h0m0 8h0m0 4h0m0 2h0m0 6h0m0 0h0m0 6h0m0 0h0m0 0h0m0 18h0m0 20h0m1-90h0m0 6h0m0 4h0m0 3h0m0 11h0m0 19h0m0 2h0m0 14h0m0 18h0m0 7h0m0 76h0m1-177h0m0 3h0m0 44h0m0 2h0m0 4h0m0 1h0m0 3h0m0 3h0m0 6h0m0 3h0m0 34h0m1-77h0m0 1h0m0 3h0m0 16h0m0 8h0m0 5h0m0 4h0m0 5h0m0 3h0m0 0h0m0 4h0m0 2h0m0 1h0m0 1h0m1-86h0m0 18h0m0 0h0m0 27h0m0 1h0m0 2h0m0 8h0m0 5h0m0 0h0m0 12h0m1-56h0m0 35h0m0 10h0m0 1h0m0 13h0m0 24h0m0 4h0m0 4h0m0 0h0m0 9h0m1-67h0m0 1h0m0 8h0m0 2h0m0 0h0m0 9h0m0 0h0m0 6h0m0 1h0m0 14h0m0 18h0m0 67h0m1-151h0m0 26h0m0 10h0m0 7h0m0 6h0m0 24h0m0 2h0m1-59h0m0 1h0m0 10h0m0 8h0m0 6h0m0 7h0m0 3h0m0 2h0m0 1h0m0 1h0m0 28h0m1-130h0m0 34h0m0 17h0m0 5h0m0 9h0m0 20h0m0 7h0m0 1h0m0 1h0m0 3h0m0 12h0m0 6h0m0 12h0m1-131h0m0 55h0m0 4h0m0 0h0m0 3h0m0 7h0m0 3h0m0 8h0m0 3h0m0 2h0m0 4h0m0 5h0m0 2h0m0 14h0m0 1h0m1-143h0m0 26h0m0 68h0m0 14h0m0 3h0m0 1h0m0 4h0m0 22h0m0 13h0m0 107h0m1-164h0m0 4h0m0 8h0m0 4h0m0 1h0m0 11h0m0 10h0m0 11h0m1-92h0m0 41h0m0 12h0m0 10h0m0 7h0m0 3h0m0 2h0m0 20h0m0 2h0m0 20h0m1-85h0m0 20h0m0 3h0m0 16h0m0 6h0m0 3h0m0 2h0m0 8h0"/><path d="M103 193h0m0 22h0m0 4h0m0 3h0m0 2h0m0 3h0m0 2h0m0 3h0m0 11h0m0 3h0m0 6h0m0 1h0m0 1h0m0 5h0m0 31h0m1-91h0m0 9h0m0 32h0m0 9h0m0 13h0m0 6h0m1-72h0m0 2h0m0 22h0m0 14h0m0 3h0m0 6h0m0 1h0m0 6h0m0 8h0m0 9h0m0 20h0m0 4h0m1-91h0m0 10h0m0 7h0m0 15h0m0 21h0m1-88h0m0 27h0m0 3h0m0 5h0m0 16h0m0 13h0m0 0h0m0 2h0m0 7h0m0 5h0m0 2h0m0 5h0m0 5h0m0 0h0m0 6h0m0 4h0m0 6h0m0 8h0m0 12h0m1-95h0m0 0h0m0 3h0m0 10h0m0 9h0m0 0h0m0 16h0m0 1h0m0 3h0m0 12h0m0 26h0m0 55h0m1-183h0m0 52h0m0 1h0m0 24h0m0 22h0m0 9h0m0 22h0m0 125h0m1-271h0m0 73h0m0 6h0m0 2h0m0 2h0m0 19h0m0 11h0m0 2h0m0 18h0m0 24h0m1-98h0m0 25h0m0 4h0m0 5h0m0 4h0m0 1h0m0 3h0m0 1h0m0 4h0m0 5h0m0 2h0m0 7h0m0 2h0m0 12h0m0 2h0m0 2h0m0 9h0m0 29h0m0 22h0m1-121h0m0 1h0m0 5h0m0 8h0m0 13h0m0 2h0m0 17h0m0 14h0m0 1h0m0 2h0m0 5h0m1-72h0m0 7h0m0 3h0m0 2h0m0 3h0m0 6h0m0 1h0m0 3h0m0 11h0m0 4h0m0 6h0m0 3h0m0 1h0m0 4h0m0 6h0m0 17h0m0 1h0m0 4h0m1-211h0m0 119h0m0 11h0m0 4h0m0 26h0m0 27h0m1-145h0m0 94h0m0 2h0m0 0h0m0 1h0m0 6h0m0 2h0m0 13h0m0 8h0m0 6h0m0 37h0m0 62h0m1-128h0m0 4h0m0 17h0m0 8h0m0 3h0m0 6h0m1-82h0m0 30h0m0 10h0m0 4h0m0 18h0m0 0h0m0 1h0m0 5h0m0 5h0m0 5h0m0 15h0m0 21h0m1-158h0m0 80h0m0 3h0m0 5h0m0 3h0m0 2h0m0 15h0m0 7h0m0 3h0m0 16h0m0 20h0m1-116h0m0 25h0m0 3h0m0 1h0m0 7h0m0 3h0m0 27h0m0 1h0m0 2h0m0 1h0m0 44h0m1-70h0m0 1h0m0 23h0m0 10h0m0 11h0m1-83h0m0 9h0m0 27h0m0 1h0m0 8h0m0 11h0m0 6h0m0 1h0m0 3h0m0 5h0m0 1h0m0 34h0m1-150h0m0 25h0m0 43h0m0 0h0m0 5h0m0 12h0m0 16h0m0 7h0m0 0h0m0 32h0m1-116h0m0 15h0m0 28h0m0 0h0m0 10h0m0 4h0m0 2h0m0 7h0m0 9h0m0 4h0m0 14h0m0 0h0m0 1h0m0 11h0m1-134h0m0 58h0m0 8h0m0 17h0m0 3h0m0 1h0m0 1h0m0 8h0m0 5h0m0 7h0m0 2h0m0 1h0m0 30h0m0 1h0m0 17h0m1-103h0m0 34h0m0 1h0m0 4h0m0 11h0m1-84h0m0 25h0m0 13h0m0 3h0m0 9h0m0 5h0m0 14h0m0 5h0m0 3h0m0 3h0m0 3h0m0 1h0m0 12h0m0 10h0m1-120h0m0 19h0m0 12h0m0 38h0m0 7h0m0 20h0m0 1h0m0 9h0m0 2h0m0 1h0m0 9h0m0 25h0m1-75h0m0 10h0m0 1h0m0 0h0m0 6h0m0 2h0m0 1h0m0 13h0m0 19h0m1-58h0m0 3h0m0 10h0m0 7h0m0 6h0m0 1h0m0 9h0m0 17h0m0 5h0m0 18h0m1-90h0m0 10h0m0 7h0m0 8h0m0 15h0m0 1h0m0 2h0m0 7h0m0 0h0m0 3h0m0 1h0m0 2h0m0 6h0m0 14h0m0 12h0m1-98h0m0 9h0m0 19h0m0 31h0m0 23h0m1-51h0m0 5h0m0 2h0m0 16h0m0 7h0m0 7h0m0 1h0m1-63h0m0 4h0m0 6h0m0 5h0m0 30h0m0 4h0m0 17h0m0 29h0m1-85h0m0 5h0m0 1h0m0 13h0m0 8h0m0 0h0m0 2h0m0 3h0m0 6h0m0 4h0m0 18h0m1-85h0m0 8h0m0 5h0m0 12h0m0 5h0m0 4h0m0 4h0m0 7h0m0 4h0m0 3h0m0 4h0m0 2h0m0 3h0m0 1h0m0 0h0m0 12h0m0 8h0m0 1h0m1-74h0m0 10h0m0 11h0m0 24h0m0 5h0m0 5h0m0 3h0m0 2h0m0 9h0m0 2h0m0 30h0m1-73h0m0 1h0m0 19h0m0 8h0m0 1h0m0 2h0m0 2h0m0 2h0m0 1h0m0 19h0m0 57h0m1-148h0m0 30h0m0 9h0m0 4h0m0 1h0m0 1h0m0 0h0m0 4h0m0 2h0m0 3h0m0 19h0m0 11h0m1-40h0m0 28h0m0 6h0m0 4h0m0 0h0m0 13h0m0 9h0m0 13h0m1-97h0m0 15h0m0 22h0m0 2h0m0 4h0m0 9h0m0 12h0m0 21h0m1-82h0m0 3h0m0 2h0m0 0h0m0 2h0m0 12h0m0 4h0m0 2h0m0 2h0m0 7h0m0 33h0m0 36h0m0 101h0m1-271h0m0 46h0m0 2h0m0 3h0m0 8h0m0 19h0m0 3h0m0 4h0m0 8h0m0 1h0m0 4h0m0 1h0m0 0h0m0 4h0m0 3h0m0 12h0m0 3h0m0 4h0m0 13h0m0 6h0m0 15h0m0 8h0m1-174h0m0 68h0m0 12h0m0 4h0m0 11h0m0 3h0m0 11h0m0 12h0m0 22h0m1-119h0m0 51h0m0 9h0m0 3h0m0 2h0m0 25h0m0 7h0m0 4h0m0 10h0m0 7h0m0 10h0m1-72h0m0 0h0m0 1h0m0 0h0m0 4h0m0 2h0m0 8h0m0 1h0m0 1h0m0 8h0m0 3h0m0 14h0m0 5h0m0 30h0m0 4h0m0 25h0m1-138h0m0 7h0m0 31h0m0 8h0m0 3h0m0 6h0m0 6h0m0 9h0m0 3h0m0 0h0m0 1h0m0 1h0m0 0h0m0 0h0m0 10h0m1-42h0m0 4h0m0 2h0m0 8h0m0 3h0m0 3h0m0 11h0m1-49h0m0 7h0m0 13h0m0 5h0m0 10h0m0 1h0m0 1h0m0 5h0m0 0h0m0 9h0m0 19h0m0 16h0m1-94h0m0 26h0m0 1h0m0 1h0m0 5h0m0 9h0m0 5h0m0 1h0m0 2h0m0 10h0m1-70h0m0 34h0m0 1h0m0 1h0m0 13h0m0 1h0m0 2h0m0 12h0m0 5h0m0 3h0m0 18h0m1-68h0m0 1h0m0 1h0m0 7h0m0 2h0m0 4h0m0 3h0m0 7h0m0 14h0m0 2h0m0 1h0m0 3h0m0 17h0m0 2h0m1-66h0m0 16h0m0 1h0m0 6h0m0 26h0m0 53h0m0 22h0m1-122h0m0 35h0m0 3h0m0 3h0m1-103h0m0 61h0m0 9h0m0 13h0m0 8h0m0 5h0m0 1h0m0 1h0m0 3h0m0 15h0m0 1h0m1-65h0m0 20h0m0 9h0m0 2h0m0 3h0m0 8h0m0 1h0m0 13h0m0 5h0m0 5h0m0 1h0m1-118h0m0 40h0m0 22h0m0 3h0m0 4h0m0 1h0m0 0h0m0 10h0m0 2h0m0 4h0m0 11h0m0 5h0m0 5h0m0 41h0m1-106h0m0 17h0m0 11h0m0 0h0m0 14h0m0 0h0m0 1h0m0 2h0m0 0h0m0 10h0m0 0h0m0 1h0m0 1h0m0 4h0m0 10h0m0 5h0m0 2h0m0 4h0m0 5h0m0 6h0m0 10h0m0 12h0m0 39h0m1-140h0m0 10h0m0 15h0m0 1h0m0 4h0m0 9h0m0 13h0m0 0h0m0 9h0m0 16h0m1-64h0m0 1h0m0 15h0m0 12h0m0 9h0m0 27h0m1-119h0m0 67h0m0 11h0m0 3h0m0 1h0m0 1h0m0 2h0m0 3h0m0 22h0m0 3h0m1-60h0m0 4h0m0 3h0m0 16h0m0 2h0m0 3h0m0 8h0m0 9h0m0 2h0m0 20h0m1-148h0m0 88h0m0 0h0m0 4h0m0 5h0m0 1h0m0 7h0m0 3h0m0 1h0m0 2h0m0 4h0m0 15h0m0 2h0m0 28h0m1-119h0m0 11h0m0 4h0m0 7h0m0 17h0m0 2h0m0 17h0m0 6h0m0 5h0m0 5h0m0 0h0m0 3h0m0 8h0m1-37h0m0 5h0m0 14h0m0 2h0m0 6h0m1-27h0m0 7h0m0 13h0m0 9h0m0 36h0m1-76h0m0 11h0m0 0h0m0 8h0m0 12h0m0 5h0m0 9h0m0 7h0m0 2h0m0 12h0m0 17h0m1-105h0m0 15h0m0 5h0m0 1h0m0 9h0m0 35h0m0 9h0m0 47h0m1-105h0m0 6h0m0 8h0m0 18h0m0 16h0m0 7h0m0 51h0m1-93h0m0 8h0m0 10h0m0 1h0m0 3h0m0 5h0m0 8h0m0 8h0m0 7h0m0 1h0m0 5h0m1-69h0m0 53h0m0 17h0m0 3h0m0 42h0m1-123h0m0 6h0m0 19h0m0 10h0m0 6h0m0 1h0m0 1h0m0 2h0m0 19h0m0 9h0m0 2h0m0 5h0m0 3h0m0 33h0m0 15h0m1-186h0m0 63h0m0 27h0m0 3h0m0 4h0m0 10h0m0 15h0m0 15h0m1-176h0m0 105h0m0 12h0m0 3h0m0 5h0m0 2h0m0 6h0m0 1h0m0 4h0m0 11h0m0 3h0m0 110h0m1-175h0m0 22h0m0 17h0m0 4h0m0 8h0m0 2h0m0 3h0m0 6h0m0 3h0m0 1h0m0 3h0m0 2h0m0 4h0m0 1h0m0 5h0m0 5h0m1-71h0m0 9h0m0 5h0m0 13h0m0 5h0m0 6h0m0 6h0m0 3h0m0 5h0m0 4h0m0 2h0m0 7h0m0 2h0m0 8h0m1-87h0m0 28h0m0 16h0m0 32h0m0 20h0m0 4h0m1-79h0m0 20h0m0 19h0m0 6h0m0 0h0m0 16h0m1-97h0m0 16h0m0 35h0m0 1h0m0 1h0m0 6h0m0 5h0m0 7h0m0 4h0m0 2h0m0 8h0m0 22h0m0 4h0m0 4h0m0 1h0m1-68h0m0 0h0m0 5h0m0 5h0m0 2h0m0 2h0m0 5h0m0 13h0m0 3h0m0 2h0m0 3h0m0 2h0m0 9h0m0 3h0m0 3h0m0 1h0m0 8h0m1-109h0m0 12h0m0 26h0m0 9h0m0 4h0m0 3h0m0 7h0m0 7h0m0 0h0m0 13h0m0 1h0m0 1h0m0 8h0m0 23h0m1-103h0m0 22h0m0 15h0m0 4h0m0 4h0m0 4h0m0 1h0m0 3h0m0 3h0m0 5h0m0 8h0m0 12h0m0 0h0m0 2h0m0 2h0m0 8h0m1-68h0m0 6h0m0 9h0m0 0h0m0 9h0m0 2h0m0 15h0m0 6h0m1-36h0m0 1h0m0 9h0m0 9h0m0 14h0m0 3h0m0 10h0m0 5h0m0 16h0m1-100h0m0 23h0m0 5h0m0 3h0m0 4h0m0 10h0m0 6h0m0 1h0m0 8h0m0 13h0m0 1h0m0 3h0m0 6h0m0 18h0m0 2h0m1-128h0m0 47h0m0 6h0m0 7h0m0 3h0m0 4h0m0 1h0m0 4h0m0 11h0m0 1h0m0 1h0m0 2h0m0 0h0m0 6h0m0 10h0m0 6h0m0 2h0m1-63h0m0 13h0m0 10h0m0 4h0m0 14h0m0 15h0m0 21h0m1-149h0m0 52h0m0 21h0m0 1h0m0 5h0m0 21h0m0 7h0m0 1h0m0 0h0m0 3h0m0 1h0m0 7h0m0 1h0m0 11h0m1-98h0m0 32h0m0 5h0m0 9h0m0 10h0m0 2h0m0 10h0m0 11h0m1-120h0m0 67h0m0 16h0m0 5h0m0 13h0m0 13h0m0 10h0m0 0h0m0 11h0m0 2h0m0 9h0m0 3h0m0 13h0m1-129h0m0 18h0m0 40h0m0 4h0m0 5h0m0 4h0m0 7h0m0 7h0m0 3h0m0 8h0m0 16h0m0 4h0m1-56h0m0 1h0m0 1h0m0 1h0m0 13h0m0 6h0m0 0h0m0 7h0m0 2h0m0 11h0m0 5h0m0 13h0m0 4h0m0 5h0m0 82h0m0 35h0m1-228h0m0 38h0m0 4h0m0 5h0m0 12h0m0 0h0m0 29h0m0 7h0m0 8h0m0 19h0m0 9h0m1-99h0m0 6h0m0 0h0m0 7h0m0 2h0m0 11h0m0 5h0m0 1h0m0 9h0m0 1h0m0 2h0m0 4h0m0 3h0m0 22h0m1-112h0m0 16h0m0 22h0m0 2h0m0 30h0m0 8h0m1-70h0m0 34h0m0 4h0m0 2h0m0 7h0m0 3h0m0 10h0m0 1h0m0 1h0m0 0h0m0 1h0m0 11h0m0 3h0m0 1h0m0 2h0m0 3h0m1-85h0m0 51h0m0 2h0m0 1h0m0 13h0m0 4h0m0 2h0m0 0h0m0 2h0m0 1h0m0 0h0m0 25h0m0 20h0m0 9h0m0 97h0m1-210h0m0 31h0m0 1h0m0 0h0m0 46h0m1-46h0m0 2h0m0 4h0m0 3h0m0 10h0m0 7h0m0 2h0m0 10h0m1-99h0m0 39h0m0 5h0m0 1h0m0 1h0m0 12h0m0 0h0m0 2h0m0 7h0m0 1h0m0 4h0m0 1h0m0 8h0m0 7h0m0 1h0m0 2h0m0 6h0m0 0h0m0 2h0m0 1h0m0 6h0m0 16h0m0 59h0m1-123h0m0 13h0m0 11h0m0 4h0m0 1h0m0 2h0m0 1h0m0 6h0m0 3h0m0 38h0m1-83h0m0 8h0m0 8h0m0 8h0m0 3h0m0 0h0m0 1h0m0 5h0m0 3h0m0 2h0m0 3h0m1-55h0m0 14h0m0 11h0m0 4h0m0 0h0m0 5h0m0 0h0m0 6h0m0 1h0m0 3h0m0 4h0m0 7h0m0 6h0m0 4h0m0 3h0m0 37h0m1-74h0m0 1h0m0 3h0m0 3h0m0 3h0m0 12h0m0 27h0m0 7h0m1-95h0m0 51h0m0 2h0m0 0h0m0 4h0m0 3h0m0 27h0m0 16h0m0 34h0m1-165h0m0 61h0m0 12h0m0 5h0m0 5h0m0 5h0m0 0h0m0 13h0m0 5h0m0 4h0m0 11h0m1-86h0m0 22h0m0 5h0m0 1h0m0 12h0m0 2h0m0 1h0m0 1h0m0 3h0m0 1h0m0 5h0m0 2h0m0 2h0m0 7h0m0 19h0m1-63h0m0 10h0m0 2h0m0 14h0m0 6h0m0 0h0m0 9h0m0 19h0m0 4h0m1-77h0m0 13h0m0 3h0m0 8h0m0 4h0m0 17h0m0 8h0m0 8h0m0 1h0m0 3h0m0 15h0m0 3h0m0 9h0m1-125h0m0 39h0m0 8h0m0 0h0m0 1h0m0 11h0m0 11h0m0 1h0m0 13h0m0 147h0m1-183h0m0 8h0m0 12h0m0 4h0m0 3h0m0 7h0m0 3h0m0 13h0m0 1h0m0 7h0m0 125h0m1-212h0m0 19h0m0 15h0m0 1h0m0 0h0m0 10h0m0 5h0m0 6h0m0 4h0m0 2h0m0 3h0m0 2h0m0 2h0m0 34h0m0 13h0m1-118h0m0 31h0m0 16h0m0 10h0m0 2h0m0 1h0m0 2h0m0 6h0m0 2h0m0 7h0m1-90h0m0 7h0m0 20h0m0 26h0m0 3h0m0 9h0m0 3h0m0 7h0m0 6h0m1-25h0m0 6h0m0 6h0m0 2h0m0 5h0m0 2h0m0 5h0m0 2h0m0 5h0m0 3h0m0 4h0m0 14h0m1-80h0m0 10h0m0 18h0m0 2h0m0 13h0m0 3h0m0 5h0m0 3h0m0 0h0m0 11h0m0 1h0m0 6h0m0 94h0m1-137h0m0 13h0m0 1h0m0 6h0m0 4h0m0 15h0m0 7h0m0 1h0m0 23h0m1-94h0m0 6h0m0 5h0m0 4h0m0 8h0m0 0h0m0 2h0m0 2h0m0 1h0m0 7h0m0 0h0m0 9h0m0 5h0m0 1h0m0 5h0m0 13h0m0 10h0m1-85h0m0 1h0m0 3h0m0 20h0m0 2h0m0 8h0m0 13h0m0 5h0m0 1h0m0 52h0m0 62h0m1-282h0m0 80h0m0 60h0m0 10h0m0 2h0m0 9h0m0 9h0m0 3h0m0 1h0m0 0h0m0 2h0m0 3h0m0 0h0m0 3h0m0 4h0m0 1h0m1-61h0m0 32h0m0 10h0m0 1h0m0 7h0m0 8h0m0 98h0m1-170h0m0 21h0m0 2h0m0 0h0m0 1h0m0 5h0m0 13h0m0 3h0m0 4h0m0 6h0m0 15h0m0 16h0m0 7h0m0 4h0m0 15h0m1-170h0m0 91h0m0 6h0m0 5h0m0 4h0m0 13h0m0 5h0m0 1h0m0 25h0m1-207h0m0 123h0m0 7h0m0 3h0m0 13h0m0 9h0m0 13h0m0 4h0m0 5h0m0 10h0m0 3h0m1-130h0m0 70h0m0 36h0m0 14h0m0 4h0m0 11h0m0 1h0m0 16h0m0 8h0m1-148h0m0 47h0m0 22h0m0 1h0m0 13h0m0 7h0m0 4h0m0 6h0m0 0h0m0 2h0m0 9h0m0 2h0m0 5h0m0 66h0m1-123h0m0 0h0m0 12h0m0 6h0m0 4h0m0 7h0m0 2h0m0 10h0m0 6h0m0 7h0m0 11h0m0 17h0m0 23h0m1-172h0m0 62h0m0 19h0m0 1h0m0 18h0m0 0h0m0 2h0m0 1h0m0 0h0m0 3h0m0 0h0m0 7h0m1-133h0m0 83h0m0 38h0m0 6h0m0 4h0m0 4h0m0 15h0m0 107h0m1-183h0m0 15h0m0 16h0m0 10h0m0 4h0m0 2h0m0 31h0m1-135h0m0 65h0m0 21h0m0 3h0m0 2h0m0 1h0m0 0h0m0 4h0m0 7h0m0 0h0m0 7h0m0 3h0m0 3h0m0 3h0m0 3h0m0 10h0m1-76h0m0 7h0m0 0h0m0 9h0m0 6h0m0 7h0m0 13h0m0 2h0m0 2h0m0 10h0m0 0h0m0 2h0m0 12h0m0 11h0m0 20h0m0 81h0m1-164h0m0 13h0m0 5h0m0 8h0m0 7h0m0 0h0m0 54h0m1-147h0m0 70h0m0 6h0m0 10h0m0 15h0m0 53h0m1-128h0m0 27h0m0 12h0m0 10h0m0 9h0m0 5h0m0 6h0m0 1h0m0 21h0m0 16h0m0 13h0m1-94h0m0 17h0m0 14h0m0 1h0m0 3h0m0 3h0m0 11h0m0 10h0m0 25h0m1-76h0m0 6h0m0 1h0m0 38h0m0 1h0m0 8h0m0 4h0m0 1h0m0 38h0m1-129h0m0 40h0m0 8h0m0 15h0m0 1h0m0 14h0m0 21h0m1-51h0m0 7h0m0 0h0m0 2h0m0 8h0m0 6h0m0 5h0m0 9h0m0 24h0m0 12h0m0 0h0m1-99h0m0 34h0m0 3h0m0 0h0m0 7h0m0 8h0m1-66h0m0 18h0m0 18h0m0 1h0m0 1h0m0 2h0m0 7h0m0 8h0m0 2h0m1-17h0m0 5h0m0 3h0m0 2h0m0 4h0m0 12h0m0 4h0m0 7h0m0 3h0m1-197h0m0 145h0m0 12h0m0 6h0m0 1h0m0 1h0m0 4h0m0 10h0m0 1h0m0 2h0m0 13h0m0 11h0m0 99h0m1-249h0m0 2h0m0 94h0m0 3h0m0 17h0m0 2h0m0 2h0m0 6h0m0 14h0m0 2h0m0 1h0m1-100h0m0 28h0m0 31h0m0 14h0m0 0h0m0 3h0m0 5h0m0 14h0m0 9h0m0 5h0m0 3h0m0 57h0m1-137h0m0 19h0m0 4h0m0 12h0m0 18h0m0 4h0m0 2h0m0 28h0m1-74h0m0 6h0m0 14h0m0 1h0m0 6h0m0 12h0m0 2h0m0 38h0m1-96h0m0 23h0m0 9h0m0 1h0m0 4h0m0 2h0m0 10h0m0 14h0m0 10h0m1-34h0m0 8h0m0 8h0m0 0h0m0 17h0m0 6h0m0 1h0m0 0h0m0 3h0m1-62h0m0 1h0m0 21h0m0 8h0m0 1h0m0 4h0m0 1h0m0 1h0m0 4h0m1-56h0m0 11h0m0 16h0m0 15h0m0 3h0m0 7h0m0 1h0m0 1h0m0 4h0m0 10h0m0 18h0m1-89h0m0 9h0m0 29h0m0 3h0m0 0h0m0 2h0m0 9h0m0 7h0m0 9h0m0 21h0m0 11h0m1-81h0m0 16h0m0 1h0m0 10h0m0 1h0m0 1h0m0 0h0m0 6h0m0 2h0m0 8h0m0 2h0m1-107h0m0 70h0m0 2h0m0 1h0m0 1h0m0 2h0m0 0h0m0 4h0m0 0h0m0 1h0m0 4h0m0 2h0m0 3h0m0 0h0m0 1h0m0 2h0m0 3h0m0 4h0m0 11h0m0 2h0m0 31h0m0 2h0m1-114h0m0 10h0m0 30h0m0 1h0m0 3h0m0 2h0m0 3h0m0 2h0m0 0h0m0 8h0m0 3h0m0 18h0m0 0h0m0 7h0m0 7h0m0 52h0m1-137h0m0 21h0m0 12h0m0 3h0m0 12h0m0 7h0m0 1h0m0 7h0m0 3h0m0 8h0m0 37h0m1-140h0m0 24h0m0 28h0m0 5h0m0 17h0m0 0h0m0 19h0m0 5h0m0 1h0m0 4h0m0 8h0m0 6h0m1-210h0m0 106h0m0 11h0m0 26h0m0 2h0m0 15h0m0 9h0m0 1h0m0 8h0m0 2h0m0 0h0m0 10h0m0 6h0m0 0h0m0 8h0m1-70h0m0 3h0m0 11h0m0 27h0m0 2h0m0 1h0m0 1h0m0 4h0m0 9h0m0 18h0m0 2h0m1-75h0m0 26h0m0 6h0m0 9h0m0 8h0m0 2h0m0 1h0m0 10h0m0 44h0m1-117h0m0 30h0m0 4h0m0 6h0m0 6h0m0 12h0m0 4h0m0 4h0m0 18h0m0 10h0m0 77h0m1-207h0m0 60h0m0 8h0m0 11h0m0 4h0m0 3h0m0 8h0m0 5h0m0 3h0m0 43h0m1-93h0m0 8h0m0 12h0m0 0h0m0 10h0m0 13h0m0 22h0m0 19h0m0 60h0m1-243h0m0 100h0m0 8h0m0 5h0m0 3h0m0 0h0m0 4h0m0 6h0m0 1h0m0 16h0m0 7h0m0 7h0m0 25h0m1-107h0m0 29h0m0 2h0m0 6h0m0 5h0m0 2h0m0 4h0m0 1h0m0 12h0m0 2h0m0 3h0m0 7h0m0 62h0m1-172h0m0 35h0m0 1h0m0 19h0m0 3h0m0 15h0m0 3h0m0 2h0m0 5h0m0 0h0m0 14h0m0 0h0m0 10h0m0 9h0m0 26h0m1-125h0m0 3h0m0 51h0m0 6h0m0 3h0m0 1h0m0 5h0m0 3h0m0 0h0m0 5h0m0 7h0m0 6h0m0 5h0m1-161h0m0 117h0m0 17h0m0 25h0m0 11h0m0 7h0m0 0h0m0 1h0m1-60h0m0 14h0m0 4h0m0 10h0m0 16h0m0 6h0m0 2h0m1-68h0m0 21h0m0 2h0m0 1h0m0 4h0m0 2h0m0 5h0m0 2h0m0 11h0m0 10h0m0 4h0m0 12h0m0 14h0m1-72h0m0 22h0m0 21h0m0 5h0m1-53h0m0 6h0m0 4h0m0 1h0m0 4h0m0 12h0m0 6h0m0 4h0m0 8h0m0 4h0m0 10h0m0 59h0m1-105h0m0 8h0m0 4h0m0 27h0m0 2h0m0 18h0m1-23h0m0 16h0m0 2h0m0 90h0m1-208h0m0 23h0m0 23h0m0 5h0m0 14h0m0 1h0m0 2h0m0 1h0m0 6h0m0 8h0m1-144h0m0 59h0m0 46h0m0 10h0m0 5h0m0 23h0m0 1h0m0 3h0m0 9h0m0 3h0m0 3h0m0 5h0m1-51h0m0 2h0m0 11h0m0 8h0m0 5h0m0 13h0m0 5h0m0 21h0m1-144h0m0 42h0m0 3h0m0 13h0m0 25h0m0 19h0m0 10h0m0 8h0m1-54h0m0 17h0m0 14h0m0 1h0m0 8h0m0 11h0m0 27h0m0 12h0m1-193h0m0 128h0m0 10h0m0 7h0m0 10h0m0 19h0m1-101h0m0 25h0m0 10h0m0 2h0m0 11h0m0 0h0m0 1h0m0 3h0m0 2h0m0 1h0m0 3h0m0 7h0m0 4h0m0 6h0m1-50h0m0 6h0m0 3h0m0 6h0m0 4h0m0 5h0m0 2h0m0 7h0m0 3h0m0 3h0m0 9h0m0 8h0m0 12h0m0 5h0m0 7h0m1-159h0m0 13h0m0 33h0m0 21h0m0 14h0m0 16h0m0 1h0m0 6h0m0 11h0m0 3h0m0 3h0m0 3h0m0 3h0m0 4h0m0 0h0m0 12h0m0 3h0m0 8h0m1-73h0m0 10h0m0 8h0m0 7h0m0 1h0m0 10h0m0 7h0m0 12h0m0 3h0m0 6h0m0 17h0m0 64h0m0 33h0m1-278h0m0 109h0m0 4h0m0 0h0m0 1h0m0 8h0m0 21h0m0 7h0m0 6h0m1-86h0m0 8h0m0 31h0m0 4h0m0 3h0m0 2h0m0 4h0m0 4h0m0 1h0m0 4h0m0 1h0m0 3h0m0 4h0m0 4h0m0 2h0m1-115h0m0 50h0m0 2h0m0 10h0m0 8h0m0 17h0m0 14h0m0 11h0m0 4h0m0 37h0m0 11h0m1-111h0m0 7h0m0 23h0m0 12h0m0 3h0m0 0h0m0 9h0m0 5h0m0 1h0m0 7h0m0 11h0m1-61h0m0 14h0m0 14h0m0 5h0m0 2h0m0 2h0m0 2h0m0 3h0m0 14h0m0 3h0m1-91h0m0 27h0m0 17h0m0 0h0m0 20h0m0 2h0m0 0h0m0 5h0m0 63h0m0 2h0m1-141h0m0 30h0m0 3h0m0 16h0m0 0h0m0 1h0m0 16h0m0 1h0m0 2h0m0 4h0m0 8h0m0 6h0m0 15h0m0 0h0m1-98h0m0 50h0m0 0h0m0 13h0m0 3h0m0 2h0m0 3h0m0 1h0m1-156h0m0 125h0m0 8h0m0 2h0m0 9h0m0 6h0m0 4h0m0 2h0m0 7h0m0 6h0m1-61h0m0 13h0m0 8h0m0 8h0m0 13h0m0 0h0m0 4h0m0 1h0m0 13h0m0 1h0m0 30h0m1-70h0m0 8h0m0 6h0m0 16h0m0 0h0m0 5h0m0 5h0m0 3h0m0 5h0m0 3h0m0 9h0m1-108h0m0 29h0m0 4h0m0 3h0m0 19h0m0 3h0m0 0h0m0 10h0m0 6h0m0 2h0m0 25h0m0 25h0m1-93h0m0 24h0m0 10h0m0 0h0m0 0h0m0 3h0m0 2h0m0 4h0m0 12h0m0 0h0m0 2h0m0 9h0m1-78h0m0 26h0m0 6h0m0 1h0m0 14h0m0 7h0m0 14h0m0 8h0m1-55h0m0 18h0m0 0h0m0 1h0m0 1h0m0 2h0m0 1h0m0 1h0m0 10h0m0 12h0m0 13h0m0 3h0m0 84h0m1-148h0m0 5h0m0 5h0m0 21h0m0 8h0m0 6h0m0 14h0m1-130h0m0 86h0m0 0h0m0 8h0m0 0h0m0 1h0m0 0h0m0 1h0m0 0h0m0 7h0m0 3h0m0 6h0m0 1h0m0 4h0m0 0h0m0 12h0m1-169h0m0 99h0m0 12h0m0 12h0m0 9h0m0 1h0m0 2h0m0 2h0m0 1h0m0 4h0m0 3h0m0 12h0m0 4h0m0 4h0m0 2h0m0 18h0m1-123h0m0 35h0m0 14h0m0 3h0m0 10h0m0 1h0m0 10h0m0 6h0m0 6h0m0 5h0m0 4h0m0 1h0m0 5h0m0 7h0m0 12h0m1-86h0m0 7h0m0 3h0m0 1h0m0 28h0m0 3h0m0 9h0m0 37h0m1-85h0m0 14h0m0 2h0m0 19h0m0 0h0m0 2h0m0 22h0m0 2h0m0 34h0m0 63h0m0 1h0m1-239h0m0 54h0m0 30h0m0 10h0m0 5h0m0 13h0m0 18h0m0 9h0m1-56h0m0 19h0m0 1h0m0 15h0m0 1h0m0 2h0m0 5h0m0 24h0m1-74h0m0 12h0m0 19h0m0 1h0m0 2h0m0 2h0m0 2h0m0 3h0m0 7h0m0 7h0m0 7h0m0 4h0m0 5h0m0 9h0m0 53h0m0 32h0m1-283h0m0 146h0m0 4h0m0 5h0m0 6h0m0 1h0m0 6h0m0 9h0m0 10h0m1-116h0m0 18h0m0 18h0m0 5h0m0 15h0m0 14h0m0 3h0m0 1h0m0 5h0m0 5h0m0 3h0m0 9h0m0 1h0m0 4h0m0 11h0m0 0h0m0 9h0m1-83h0m0 23h0m0 3h0m0 15h0m0 13h0m0 1h0m0 4h0m0 6h0m0 5h0m0 12h0m0 6h0m1-167h0m0 89h0m0 17h0m0 9h0m0 3h0m0 9h0m0 1h0m0 10h0m0 15h0m0 0h0m0 24h0m0 102h0m1-185h0m0 3h0m0 4h0m0 18h0m0 32h0m1-60h0m0 12h0m0 0h0m0 5h0m0 2h0m0 14h0m0 14h0m0 18h0m0 35h0m1-134h0m0 31h0m0 12h0m0 0h0m0 7h0m0 12h0m0 7h0m0 1h0m0 4h0m0 11h0m0 26h0m1-82h0m0 4h0m0 7h0m0 17h0m0 0h0m0 2h0m0 12h0m0 4h0m0 0h0m0 18h0m1-68h0m0 17h0m0 1h0m0 0h0m0 4h0m0 6h0m0 17h0m0 8h0m0 73h0m1-107h0m0 20h0m0 2h0m0 4h0m0 7h0m0 2h0m0 7h0m0 4h0m0 17h0m0 11h0m1-150h0m0 2h0m0 64h0m0 5h0m0 15h0m0 5h0m0 8h0m0 3h0m0 2h0m0 3h0m0 4h0m0 5h0m0 5h0m0 2h0m0 2h0m1-61h0m0 8h0m0 9h0m0 8h0m0 0h0m0 6h0m0 4h0m0 4h0m0 7h0m0 6h0m1-69h0m0 8h0m0 10h0m0 13h0m0 43h0m0 15h0m0 8h0m1-140h0m0 66h0m0 14h0m0 2h0m0 15h0m0 10h0m0 4h0m0 18h0m0 20h0m1-117h0m0 29h0m0 0h0m0 7h0m0 6h0m0 11h0m0 3h0m0 11h0m0 152h0m1-241h0m0 41h0m0 11h0m0 7h0m0 1h0m0 9h0m0 5h0m0 7h0m0 4h0m0 3h0m0 5h0m0 7h0m0 1h0m0 4h0m1-121h0m0 69h0m0 3h0m0 2h0m0 3h0m0 9h0m0 11h0m0 1h0m0 2h0m0 3h0m0 3h0m0 1h0m0 3h0m1-57h0m0 19h0m0 34h0m0 2h0m0 38h0m0 11h0m0 1h0m0 23h0m0 39h0m1-225h0m0 58h0m0 13h0m0 1h0m0 0h0m0 10h0m0 2h0m0 8h0m0 2h0m0 6h0m0 6h0m0 11h0m0 8h0m0 2h0m1-86h0m0 1h0m0 18h0m0 3h0m0 14h0m0 6h0m0 10h0m0 3h0m0 13h0m0 2h0m0 0h0m0 3h0m0 2h0m0 2h0m0 0h0m0 9h0m0 10h0m0 37h0"/><path d="M103 182h0m0 12h0m0 3h0m0 8h0m0 0h0m0 2h0m0 3h0m0 5h0m0 6h0m0 19h0m0 2h0m0 12h0m0 4h0m0 3h0m0 36h0m1-84h0m0 8h0m0 10h0m0 11h0m0 2h0m0 11h0m0 12h0m0 2h0m0 11h0m0 62h0m1-246h0m0 76h0m0 17h0m0 23h0m0 0h0m0 1h0m0 3h0m0 2h0m0 3h0m0 1h0m0 0h0m0 1h0m0 4h0m0 5h0m0 1h0m0 2h0m0 8h0m0 12h0m0 5h0m0 0h0m0 36h0m1-145h0m0 54h0m0 6h0m0 7h0m0 2h0m0 7h0m0 5h0m0 3h0m0 3h0m0 8h0m0 2h0m0 1h0m0 10h0m0 17h0m0 71h0m1-148h0m0 7h0m0 8h0m0 17h0m0 3h0m0 9h0m0 3h0m0 13h0m0 19h0m1-91h0m0 21h0m0 4h0m0 5h0m0 4h0m0 3h0m0 4h0m0 5h0m0 1h0m0 11h0m0 1h0m0 4h0m0 1h0m0 4h0m0 18h0m0 4h0m0 16h0m1-161h0m0 61h0m0 5h0m0 4h0m0 4h0m0 2h0m0 10h0m0 13h0m0 1h0m0 0h0m0 1h0m0 1h0m0 8h0m0 4h0m0 8h0m0 5h0m0 1h0m1-70h0m0 5h0m0 11h0m0 7h0m0 8h0m0 2h0m0 14h0m0 3h0m0 3h0m0 13h0m0 19h0m1-108h0m0 46h0m0 5h0m0 3h0m0 2h0m0 3h0m0 3h0m0 2h0m0 8h0m0 2h0m0 9h0m0 2h0m0 2h0m0 5h0m0 2h0m0 3h0m1-83h0m0 23h0m0 2h0m0 3h0m0 7h0m0 4h0m0 7h0m0 7h0m0 8h0m0 4h0m0 52h0m1-74h0m0 2h0m0 7h0m0 4h0m0 1h0m0 6h0m0 7h0m0 1h0m0 1h0m0 59h0m1-131h0m0 20h0m0 10h0m0 3h0m0 0h0m0 7h0m0 16h0m0 4h0m0 2h0m0 3h0m0 3h0m0 3h0m0 11h0m0 4h0m0 3h0m1-129h0m0 29h0m0 24h0m0 9h0m0 3h0m0 6h0m0 8h0m0 6h0m0 2h0m0 1h0m0 18h0m0 4h0m0 4h0m0 1h0m0 1h0m0 19h0m0 3h0m1-81h0m0 4h0m0 1h0m0 18h0m0 8h0m0 2h0m0 1h0m0 0h0m0 2h0m0 5h0m0 9h0m1-54h0m0 5h0m0 0h0m0 13h0m0 41h0m0 25h0m1-76h0m0 1h0m0 12h0m0 9h0m0 10h0m0 9h0m0 3h0m0 6h0m1-62h0m0 11h0m0 8h0m0 22h0m0 1h0m0 4h0m0 1h0m0 2h0m0 3h0m0 0h0m0 0h0m0 22h0m1-62h0m0 0h0m0 10h0m0 1h0m0 1h0m0 13h0m0 1h0m0 2h0m0 2h0m0 1h0m0 8h0m1-68h0m0 23h0m0 8h0m0 7h0m0 5h0m0 2h0m0 9h0m0 28h0m0 11h0m0 0h0m0 48h0m1-190h0m0 63h0m0 4h0m0 9h0m0 4h0m0 1h0m0 8h0m0 2h0m0 7h0m0 1h0m0 14h0m0 10h0m0 15h0m0 26h0m1-91h0m0 2h0m0 15h0m0 2h0m0 2h0m0 4h0m0 2h0m0 3h0m0 10h0m0 7h0m0 4h0m0 61h0m1-129h0m0 25h0m0 0h0m0 1h0m0 6h0m0 20h0m0 3h0m0 0h0m0 1h0m0 6h0m0 2h0m0 18h0m0 7h0m1-87h0m0 2h0m0 12h0m0 9h0m0 16h0m0 6h0m0 0h0m0 5h0m0 8h0m0 8h0m0 4h0m0 63h0m1-136h0m0 10h0m0 8h0m0 17h0m0 14h0m0 1h0m0 3h0m0 0h0m0 1h0m0 0h0m0 2h0m0 1h0m0 9h0m0 2h0m0 5h0m0 4h0m0 1h0m0 17h0m0 9h0m1-68h0m0 2h0m0 5h0m0 7h0m0 4h0m0 1h0m0 1h0m0 43h0m1-82h0m0 12h0m0 12h0m0 0h0m0 4h0m0 12h0m0 2h0m0 15h0m1-56h0m0 8h0m0 10h0m0 1h0m0 1h0m0 0h0m0 18h0m0 2h0m0 9h0m0 13h0m0 24h0m1-109h0m0 24h0m0 6h0m0 10h0m0 18h0m0 3h0m0 12h0m0 7h0m0 0h0m0 70h0m1-155h0m0 25h0m0 6h0m0 11h0m0 6h0m0 4h0m0 4h0m0 2h0m0 0h0m0 5h0m0 3h0m0 1h0m0 15h0m0 12h0m0 7h0m1-137h0m0 45h0m0 11h0m0 2h0m0 6h0m0 2h0m0 6h0m0 10h0m0 13h0m0 1h0m0 7h0m0 3h0m0 3h0m0 14h0m1-159h0m0 98h0m0 9h0m0 7h0m0 1h0m0 2h0m0 12h0m0 7h0m0 8h0m0 3h0m0 13h0m1-67h0m0 1h0m0 8h0m0 8h0m0 0h0m0 8h0m0 7h0m0 38h0m0 16h0m1-140h0m0 84h0m0 5h0m0 12h0m0 6h0m0 7h0m0 6h0m0 5h0m1-55h0m0 3h0m0 7h0m0 22h0m0 3h0m0 23h0m0 12h0m1-92h0m0 7h0m0 12h0m0 0h0m0 0h0m0 4h0m0 13h0m0 12h0m0 2h0m0 6h0m0 132h0m1-185h0m0 17h0m0 4h0m0 1h0m0 29h0m0 1h0m0 8h0m0 11h0m1-73h0m0 9h0m0 13h0m0 2h0m0 1h0m0 2h0m0 28h0m1-67h0m0 24h0m0 7h0m0 9h0m0 1h0m0 9h0m0 7h0m0 13h0m0 30h0m1-79h0m0 14h0m0 10h0m0 2h0m0 0h0m0 6h0m0 1h0m0 7h0m0 6h0m0 2h0m0 2h0m0 17h0m0 19h0m0 28h0m1-161h0m0 44h0m0 4h0m0 11h0m0 4h0m0 18h0m0 1h0m0 0h0m0 2h0m0 25h0m1-84h0m0 11h0m0 12h0m0 1h0m0 1h0m0 8h0m0 19h0m0 2h0m0 6h0m0 1h0m0 9h0m0 39h0m0 87h0m1-217h0m0 22h0m0 25h0m0 15h0m0 18h0m0 6h0m0 2h0m0 19h0m1-56h0m0 4h0m0 5h0m0 10h0m0 2h0m0 6h0m0 11h0m0 9h0m1-75h0m0 27h0m0 5h0m0 1h0m0 38h0m0 6h0m0 10h0m1-182h0m0 50h0m0 39h0m0 17h0m0 7h0m0 4h0m0 3h0m0 7h0m0 5h0m0 12h0m0 7h0m0 1h0m0 1h0m0 4h0m0 6h0m0 0h0m0 166h0m1-225h0m0 27h0m0 0h0m0 3h0m0 4h0m0 20h0m0 18h0m0 27h0m0 36h0m1-167h0m0 10h0m0 20h0m0 21h0m0 1h0m0 0h0m0 4h0m0 5h0m0 5h0m0 3h0m0 4h0m0 1h0m0 3h0m0 13h0m0 3h0m0 10h0m0 55h0m0 75h0m1-265h0m0 55h0m0 36h0m0 4h0m0 5h0m0 4h0m0 0h0m0 0h0m0 7h0m0 1h0m0 3h0m0 4h0m0 0h0m0 11h0m0 2h0m1-63h0m0 8h0m0 3h0m0 18h0m0 1h0m0 2h0m0 16h0m0 4h0m0 0h0m0 2h0m0 0h0m0 27h0m0 25h0m0 102h0m1-200h0m0 10h0m0 0h0m0 3h0m0 32h0m0 2h0m0 1h0m0 137h0m1-246h0m0 62h0m0 9h0m0 17h0m0 6h0m0 1h0m0 6h0m0 3h0m0 29h0m1-132h0m0 48h0m0 11h0m0 7h0m0 17h0m0 6h0m0 22h0m0 39h0m1-145h0m0 5h0m0 52h0m0 2h0m0 6h0m0 4h0m0 14h0m0 2h0m0 1h0m0 3h0m0 0h0m0 4h0m0 12h0m1-148h0m0 96h0m0 13h0m0 13h0m0 5h0m0 0h0m0 22h0m0 22h0m1-101h0m0 17h0m0 13h0m0 2h0m0 8h0m0 20h0m0 1h0m0 3h0m0 2h0m0 1h0m0 1h0m0 10h0m0 1h0m0 3h0m0 19h0m1-89h0m0 16h0m0 2h0m0 9h0m0 31h0m0 3h0m0 2h0m0 2h0m0 3h0m0 12h0m0 6h0m0 84h0m1-143h0m0 3h0m0 1h0m0 2h0m0 2h0m0 3h0m0 2h0m0 0h0m0 29h0m0 145h0m1-244h0m0 43h0m0 12h0m0 14h0m0 2h0m0 5h0m0 18h0m0 3h0m0 8h0m0 125h0m1-190h0m0 53h0m1-124h0m0 44h0m0 40h0m0 9h0m0 9h0m0 30h0m0 2h0m0 12h0m1-100h0m0 44h0m0 14h0m0 17h0m0 2h0m0 4h0m0 0h0m0 5h0m0 3h0m0 2h0m1-54h0m0 4h0m0 5h0m0 13h0m0 1h0m0 2h0m0 11h0m0 19h0m1-62h0m0 12h0m0 7h0m0 8h0m0 3h0m0 16h0m1-45h0m0 5h0m0 15h0m0 3h0m0 11h0m0 18h0m0 1h0m0 1h0m0 3h0m0 1h0m0 11h0m0 2h0m0 9h0m0 7h0m1-67h0m0 2h0m0 1h0m0 1h0m0 31h0m0 19h0m0 2h0m0 29h0m1-117h0m0 1h0m0 13h0m0 0h0m0 7h0m0 3h0m0 1h0m0 1h0m0 2h0m0 18h0m0 8h0m0 8h0m0 0h0m0 4h0m0 0h0m0 7h0m0 13h0m0 33h0m0 91h0m1-181h0m0 10h0m0 4h0m0 43h0m1-72h0m0 1h0m0 24h0m0 1h0m0 6h0m0 22h0m0 11h0m0 0h0m1-85h0m0 14h0m0 7h0m0 15h0m0 2h0m0 0h0m0 6h0m0 15h0m0 15h0m0 30h0m1-189h0m0 95h0m0 8h0m0 22h0m0 8h0m0 9h0m0 2h0m0 2h0m0 12h0m0 7h0m1-66h0m0 1h0m0 11h0m0 21h0m0 9h0m0 0h0m0 1h0m0 14h0m0 37h0m0 14h0m1-121h0m0 7h0m0 3h0m0 15h0m0 4h0m0 0h0m0 10h0m0 11h0m0 1h0m0 10h0m0 3h0m0 2h0m0 8h0m0 9h0m0 1h0m0 4h0m1-83h0m0 6h0m0 5h0m0 4h0m0 26h0m0 16h0m0 17h0m0 5h0m1-57h0m0 3h0m0 11h0m0 2h0m0 8h0m0 1h0m0 1h0m0 2h0m0 6h0m0 3h0m0 15h0m1-75h0m0 16h0m0 4h0m0 8h0m0 1h0m0 11h0m0 1h0m0 1h0m0 9h0m0 3h0m0 2h0m0 10h0m0 8h0m1-138h0m0 106h0m0 2h0m0 6h0m0 10h0m0 4h0m0 2h0m0 11h0m0 8h0m0 20h0m0 96h0m1-217h0m0 18h0m0 9h0m0 4h0m0 2h0m0 6h0m0 9h0m0 2h0m0 14h0m0 4h0m0 0h0m0 3h0m0 1h0m0 18h0m0 7h0m0 82h0m1-168h0m0 13h0m0 13h0m0 1h0m0 14h0m0 13h0m0 4h0m0 8h0m0 1h0m1-58h0m0 20h0m0 10h0m0 7h0m0 6h0m0 1h0m0 13h0m0 11h0m0 92h0m1-225h0m0 46h0m0 39h0m0 9h0m0 15h0m0 5h0m0 3h0m0 2h0m0 1h0m0 3h0m0 7h0m0 34h0m1-90h0m0 5h0m0 3h0m0 4h0m0 9h0m0 2h0m0 2h0m0 15h0m0 3h0m0 5h0m0 1h0m0 4h0m0 20h0m0 55h0m0 6h0m1-172h0m0 18h0m0 22h0m0 11h0m0 3h0m0 6h0m0 2h0m0 6h0m0 0h0m0 3h0m0 1h0m0 0h0m0 1h0m0 14h0m0 8h0m0 8h0m0 0h0m0 2h0m0 3h0m0 21h0m0 23h0m1-169h0m0 22h0m0 11h0m0 16h0m0 16h0m0 1h0m0 11h0m0 6h0m0 8h0m0 10h0m0 1h0m0 16h0m1-113h0m0 14h0m0 33h0m0 17h0m0 7h0m0 10h0m0 3h0m0 1h0m0 1h0m0 15h0m0 3h0m0 21h0m0 4h0m0 15h0m0 55h0m1-189h0m0 12h0m0 45h0m0 9h0m0 3h0m0 0h0m0 5h0m0 3h0m0 1h0m0 19h0m0 18h0m1-68h0m0 7h0m0 29h0m0 14h0m0 7h0m0 18h0m0 1h0m1-92h0m0 22h0m0 2h0m0 12h0m0 1h0m0 6h0m0 4h0m0 7h0m0 4h0m0 3h0m0 0h0m0 0h0m0 6h0m0 6h0m0 2h0m0 1h0m1-107h0m0 80h0m0 1h0m0 6h0m0 5h0m0 4h0m0 12h0m1-71h0m0 4h0m0 8h0m0 6h0m0 3h0m0 5h0m0 6h0m0 6h0m0 5h0m0 1h0m0 6h0m0 7h0m0 5h0m0 9h0m0 13h0m0 74h0m1-158h0m0 15h0m0 3h0m0 3h0m0 7h0m0 12h0m0 9h0m0 20h0m0 3h0m0 3h0m0 2h0m0 27h0m0 13h0m0 6h0m1-163h0m0 26h0m0 24h0m0 14h0m0 5h0m0 3h0m0 7h0m0 7h0m0 19h0m0 18h0m0 2h0m1-72h0m0 4h0m0 1h0m0 6h0m0 26h0m0 7h0m0 6h0m1-33h0m0 3h0m0 2h0m0 3h0m0 9h0m0 4h0m0 6h0m0 5h0m0 5h0m1-76h0m0 37h0m0 10h0m0 4h0m0 13h0m0 3h0m0 16h0m0 8h0m1-60h0m0 14h0m0 13h0m1-122h0m0 101h0m0 5h0m0 16h0m0 9h0m0 70h0m0 33h0m1-189h0m0 38h0m0 5h0m0 9h0m0 4h0m0 2h0m0 16h0m0 1h0m0 2h0m0 9h0m0 3h0m0 4h0m0 39h0m0 33h0m1-129h0m0 14h0m0 2h0m0 27h0m0 5h0m0 6h0m0 18h0m0 2h0m0 4h0m1-100h0m0 30h0m0 2h0m0 0h0m0 7h0m0 23h0m0 9h0m0 1h0m0 3h0m0 7h0m1-150h0m0 30h0m0 60h0m0 18h0m0 5h0m0 2h0m0 8h0m0 3h0m0 1h0m0 5h0m0 4h0m0 13h0m0 7h0m0 0h0m0 74h0m1-161h0m0 24h0m0 2h0m0 19h0m0 3h0m0 12h0m0 0h0m0 5h0m0 1h0m0 13h0m0 9h0m0 41h0m1-154h0m0 69h0m0 2h0m0 2h0m0 7h0m0 5h0m0 4h0m0 3h0m0 6h0m0 3h0m0 0h0m0 3h0m0 10h0m0 4h0m0 0h0m0 20h0m0 43h0m1-145h0m0 41h0m0 4h0m0 3h0m0 2h0m0 3h0m0 6h0m0 10h0m1-54h0m0 22h0m0 2h0m0 1h0m0 5h0m0 1h0m0 5h0m0 4h0m0 12h0m0 5h0m0 5h0m0 3h0m1-59h0m0 2h0m0 33h0m0 26h0m0 9h0m0 5h0m0 14h0m1-79h0m0 1h0m0 2h0m0 6h0m0 6h0m0 5h0m0 1h0m0 0h0m0 2h0m0 4h0m0 12h0m0 3h0m1-145h0m0 64h0m0 27h0m0 13h0m0 8h0m0 4h0m0 7h0m0 5h0m0 4h0m0 6h0m0 7h0m0 138h0m1-181h0m0 15h0m0 19h0m0 6h0m0 3h0m0 8h0m0 7h0m0 3h0m1-78h0m0 8h0m0 14h0m0 7h0m0 6h0m0 2h0m0 10h0m0 4h0m0 4h0m0 2h0m1-130h0m0 69h0m0 14h0m0 33h0m0 3h0m0 4h0m0 1h0m0 3h0m0 7h0m0 3h0m0 4h0m0 1h0m1-55h0m0 2h0m0 3h0m0 9h0m0 9h0m0 2h0m0 4h0m0 2h0m0 7h0m0 0h0m0 10h0m0 11h0m0 0h0m0 2h0m0 2h0m0 37h0m1-95h0m0 2h0m0 11h0m0 14h0m0 20h0m0 23h0m0 6h0m1-130h0m0 44h0m0 18h0m0 8h0m0 12h0m0 1h0m0 2h0m0 4h0m0 5h0m0 6h0m0 23h0m1-83h0m0 2h0m0 16h0m0 4h0m0 26h0m0 2h0m0 8h0m0 4h0m0 12h0m0 17h0m0 9h0m1-81h0m0 2h0m0 8h0m0 0h0m0 10h0m0 3h0m0 4h0m0 92h0m1-171h0m0 11h0m0 11h0m0 13h0m0 34h0m0 6h0m0 4h0m0 4h0m0 6h0m0 9h0m0 6h0m0 13h0m0 4h0m1-132h0m0 52h0m0 11h0m0 9h0m0 1h0m0 4h0m0 10h0m0 1h0m0 0h0m0 3h0m0 10h0m0 14h0m1-64h0m0 10h0m0 10h0m0 1h0m0 5h0m0 0h0m0 2h0m0 3h0m0 1h0m0 2h0m0 8h0m0 1h0m0 16h0m0 3h0m1-141h0m0 69h0m0 24h0m0 8h0m0 2h0m0 20h0m0 0h0m0 8h0m0 4h0m1-95h0m0 48h0m0 1h0m0 23h0m0 6h0m0 3h0m0 4h0m0 5h0m0 2h0m0 4h0m0 10h0m0 0h0m0 15h0m0 6h0m1-146h0m0 68h0m0 9h0m0 1h0m0 13h0m0 2h0m0 9h0m0 2h0m0 5h0m0 8h0m0 4h0m0 7h0m1-128h0m0 50h0m0 7h0m0 4h0m0 13h0m0 2h0m0 5h0m0 9h0m0 12h0m0 3h0m0 1h0m0 4h0m0 12h0m1-56h0m0 12h0m0 8h0m0 7h0m0 3h0m0 11h0m0 1h0m0 9h0m0 2h0m0 10h0m1-80h0m0 37h0m0 0h0m0 2h0m0 8h0m0 5h0m0 7h0m0 1h0m0 17h0m0 8h0m0 18h0m1-118h0m0 35h0m0 3h0m0 1h0m0 10h0m0 1h0m0 4h0m0 6h0m0 6h0m0 15h0m0 5h0m0 4h0m0 0h0m0 23h0m0 4h0m0 79h0m1-149h0m0 7h0m0 11h0m0 5h0m0 4h0m0 3h0m0 1h0m0 1h0m0 1h0m0 0h0m0 1h0m0 3h0m0 2h0m1-161h0m0 132h0m0 5h0m0 2h0m0 15h0m0 4h0m0 5h0m0 7h0m0 7h0m0 59h0m1-257h0m0 103h0m0 7h0m0 40h0m0 1h0m0 7h0m0 2h0m0 11h0m0 5h0m1-59h0m0 9h0m0 15h0m0 4h0m0 3h0m0 1h0m0 4h0m0 15h0m0 2h0m0 2h0m0 2h0m0 12h0m0 0h0m0 22h0m1-71h0m0 1h0m0 9h0m0 2h0m0 1h0m0 1h0m0 3h0m0 6h0m0 17h0m0 3h0m0 6h0m0 37h0m0 4h0m1-100h0m0 12h0m0 3h0m0 0h0m0 3h0m0 26h0m0 1h0m0 5h0m0 1h0m0 1h0m0 3h0m0 4h0m0 2h0m0 1h0m0 22h0m0 24h0m1-128h0m0 12h0m0 11h0m0 7h0m0 8h0m0 6h0m0 2h0m0 4h0m0 3h0m0 2h0m0 15h0m0 10h0m0 1h0m0 57h0m1-108h0m0 20h0m0 1h0m0 20h0m0 34h0m0 12h0m1-84h0m0 1h0m0 1h0m0 3h0m0 1h0m0 2h0m0 10h0m0 7h0m0 3h0m1-72h0m0 33h0m0 26h0m0 2h0m0 6h0m0 10h0m0 30h0m0 17h0m0 57h0m1-173h0m0 18h0m0 11h0m0 14h0m0 2h0m0 1h0m0 1h0m0 1h0m0 1h0m0 7h0m0 1h0m0 1h0m0 1h0m0 1h0m0 0h0m0 3h0m0 13h0m0 4h0m0 11h0m0 14h0m1-85h0m0 5h0m0 0h0m0 28h0m0 3h0m0 0h0m0 3h0m0 1h0m0 4h0m0 5h0m0 2h0m0 4h0m0 9h0m0 4h0m0 1h0m0 0h0m0 6h0m0 1h0m1-73h0m0 11h0m0 14h0m0 13h0m0 6h0m0 2h0m0 1h0m0 9h0m0 6h0m0 2h0m0 3h0m1-61h0m0 12h0m0 7h0m0 6h0m0 16h0m0 2h0m0 5h0m0 15h0m1-54h0m0 7h0m0 7h0m0 8h0m0 0h0m0 2h0m0 4h0m0 9h0m0 1h0m0 2h0m0 7h0m0 14h0m0 20h0m1-98h0m0 11h0m0 4h0m0 5h0m0 17h0m0 6h0m0 4h0m0 10h0m0 2h0m0 13h0m0 0h0m0 39h0m1-131h0m0 25h0m0 2h0m0 9h0m0 2h0m0 0h0m0 6h0m0 9h0m0 2h0m0 3h0m0 11h0m0 17h0m0 4h0m0 13h0m1-106h0m0 9h0m0 31h0m0 25h0m0 0h0m0 21h0m0 17h0m0 9h0m1-71h0m0 22h0m0 2h0m0 3h0m1-91h0m0 45h0m0 56h0m0 1h0m0 13h0m0 1h0m1-37h0m0 0h0m0 4h0m0 2h0m0 6h0m0 0h0m0 27h0m0 8h0m0 6h0m1-151h0m0 69h0m0 15h0m0 0h0m0 7h0m0 0h0m0 3h0m0 5h0m0 4h0m0 0h0m0 3h0m0 3h0m0 1h0m0 1h0m0 5h0m0 1h0m0 5h0m0 1h0m0 9h0m0 7h0m0 3h0m0 1h0m0 9h0m1-56h0m0 1h0m0 2h0m0 6h0m0 1h0m0 1h0m0 10h0m0 3h0m0 16h0m0 4h0m0 61h0m1-132h0m0 10h0m0 7h0m0 8h0m0 0h0m0 3h0m0 15h0m0 14h0m0 15h0m0 1h0m0 5h0m0 1h0m1-71h0m0 5h0m0 11h0m0 14h0m0 8h0m0 15h0m1-64h0m0 11h0m0 14h0m0 5h0m0 1h0m0 10h0m0 8h0m0 4h0m0 4h0m0 1h0m0 6h0m0 4h0m0 5h0m0 7h0m1-69h0m0 4h0m0 10h0m0 7h0m0 6h0m0 30h0m0 9h0m0 6h0m1-107h0m0 10h0m0 29h0m0 1h0m0 12h0m0 12h0m0 19h0m0 1h0m0 0h0m0 9h0m0 4h0m0 7h0m1-86h0m0 7h0m0 9h0m0 11h0m0 23h0m0 8h0m0 1h0m0 23h0m0 26h0m0 0h0m1-122h0m0 1h0m0 10h0m0 37h0m0 13h0m0 6h0m0 1h0m0 1h0m0 3h0m0 22h0m0 11h0m1-88h0m0 20h0m0 11h0m0 1h0m0 26h0m0 8h0m0 13h0m1-60h0m0 1h0m0 6h0m0 6h0m0 8h0m0 5h0m0 3h0m0 7h0m0 5h0m0 5h0m0 9h0m0 26h0m1-103h0m0 37h0m0 4h0m0 0h0m0 0h0m0 2h0m0 1h0m0 13h0m0 2h0m0 25h0m1-111h0m0 90h0m0 1h0m0 5h0m0 4h0m1-74h0m0 12h0m0 19h0m0 9h0m0 7h0m0 14h0m0 8h0m0 5h0m0 23h0m1-86h0m0 10h0m0 2h0m0 3h0m0 4h0m0 1h0m0 5h0m0 9h0m0 8h0m0 4h0m0 26h0m1-92h0m0 13h0m0 8h0m0 13h0m0 5h0m0 3h0m0 3h0m0 9h0m0 5h0m0 3h0m0 7h0m0 17h0m1-197h0m0 151h0m0 7h0m0 9h0m0 2h0m0 2h0m0 3h0m0 5h0m0 0h0m0 7h0m0 1h0m0 2h0m0 12h0m0 24h0m0 0h0m0 78h0m1-193h0m0 17h0m0 37h0m0 8h0m0 88h0m1-136h0m0 25h0m0 4h0m0 6h0m0 0h0m0 5h0m0 17h0m0 2h0m0 23h0m1-213h0m0 139h0m0 11h0m0 2h0m0 4h0m0 3h0m0 3h0m0 4h0m0 2h0m0 4h0m0 9h0m0 3h0m0 4h0m0 3h0m0 19h0m0 5h0m0 11h0m1-114h0m0 7h0m0 23h0m0 5h0m0 2h0m0 0h0m0 7h0m0 10h0m0 2h0m0 1h0m0 2h0m0 6h0m0 9h0m0 2h0m0 50h0m1-121h0m0 18h0m0 4h0m0 8h0m0 4h0m0 4h0m0 10h0m0 6h0m0 0h0m0 2h0m0 3h0m0 7h0m0 1h0m0 0h0m0 2h0m0 9h0m0 46h0m1-140h0m0 13h0m0 28h0m0 3h0m0 7h0m0 14h0m0 2h0m0 0h0m0 1h0m0 2h0m0 10h0m0 5h0m0 4h0m0 1h0m0 8h0m1-207h0m0 84h0m0 58h0m0 21h0m0 3h0m0 15h0m0 1h0m0 8h0m0 4h0m0 7h0m1-163h0m0 54h0m0 56h0m0 6h0m0 10h0m0 3h0m0 1h0m0 1h0m0 5h0m0 8h0m0 3h0m0 1h0m0 6h0m0 7h0m0 4h0m0 2h0m0 14h0m1-74h0m0 6h0m0 8h0m0 6h0m0 6h0m0 1h0m0 3h0m0 7h0m0 3h0m0 7h0m0 0h0m0 8h0m0 18h0m0 10h0m0 39h0m1-152h0m0 29h0m0 2h0m0 8h0m0 5h0m0 14h0m0 6h0m0 1h0m0 19h0m0 1h0m0 35h0m1-146h0m0 86h0m0 7h0m0 1h0m0 2h0m0 27h0m0 7h0m1-69h0m0 9h0m0 4h0m0 3h0m0 4h0m0 10h0m0 2h0m0 4h0m0 7h0m0 0h0m0 4h0m0 0h0m0 17h0m1-65h0m0 2h0m0 18h0m0 24h0m0 1h0m0 0h0m0 2h0m0 4h0m0 2h0m0 5h0m0 11h0m0 8h0m1-113h0m0 38h0m0 16h0m0 5h0m0 4h0m0 1h0m0 0h0m0 5h0m0 15h0m0 13h0m0 1h0m1-65h0m0 4h0m0 1h0m0 1h0m0 18h0m0 4h0m0 1h0m0 3h0m0 3h0m0 1h0m0 12h0m0 0h0m0 3h0m0 2h0m0 14h0m0 4h0m1-76h0m0 10h0m0 8h0m0 6h0m0 5h0m0 1h0m0 5h0m0 3h0m0 1h0m0 2h0m0 5h0m0 1h0m0 4h0m0 9h0m0 41h0m1-77h0m0 1h0m0 1h0m0 2h0m0 5h0m0 4h0m0 1h0m0 6h0m0 21h0m1-164h0m0 90h0m0 10h0m0 13h0m0 1h0m0 13h0m0 20h0m0 28h0m1-74h0m0 23h0m0 6h0m0 16h0m0 2h0m1-49h0m0 1h0m0 27h0m0 1h0m0 3h0m0 3h0m0 2h0m0 6h0m0 1h0m0 1h0m0 2h0m0 5h0m0 1h0m0 23h0m0 12h0m0 13h0m0 39h0m1-144h0m0 31h0m0 1h0m0 0h0m0 0h0m0 8h0m0 2h0m0 13h0m0 5h0m0 8h0m0 5h0m0 11h0m0 2h0m1-131h0m0 78h0m0 28h0m0 15h0m0 12h0m0 21h0m1-117h0m0 24h0m0 9h0m0 0h0m0 2h0m0 21h0m0 12h0m0 14h0m0 2h0m0 9h0m0 14h0m1-90h0m0 16h0m0 20h0m0 0h0m0 3h0m0 50h0m0 4h0m1-92h0m0 15h0m0 20h0m0 3h0m0 4h0m0 21h0m1-207h0m0 146h0m0 19h0m0 2h0m0 17h0m0 1h0m0 0h0m0 7h0m0 9h0m0 83h0m1-184h0m0 32h0m0 10h0m0 0h0m0 20h0m0 4h0m0 14h0m0 1h0m0 2h0m0 2h0m0 2h0m0 8h0m0 4h0m0 4h0m0 28h0m1-179h0m0 80h0m0 18h0m0 0h0m0 9h0m0 2h0m0 12h0m0 9h0m0 4h0m0 7h0m0 44h0m1-154h0m0 12h0m0 38h0m0 6h0m0 2h0m0 17h0m0 6h0m0 0h0m0 13h0m0 6h0m0 3h0m0 7h0m0 11h0m1-73h0m0 8h0m0 14h0m0 1h0m0 9h0m0 1h0m0 0h0m0 4h0m0 4h0m0 4h0m0 43h0m1-86h0m0 23h0m0 8h0m0 23h0m0 19h0m0 10h0m1-81h0m0 3h0m0 6h0m0 23h0m0 4h0m0 14h0m0 6h0m0 1h0m0 13h0m0 3h0m1-69h0m0 0h0m0 7h0m0 13h0m0 18h0m0 3h0m0 5h0m0 15h0m0 20h0m1-84h0m0 30h0m0 1h0m0 1h0m0 8h0m0 12h0m0 19h0m0 5h0m0 9h0m1-104h0m0 33h0m0 16h0m0 0h0m0 4h0m0 3h0m0 4h0m0 2h0m0 17h0m0 9h0m1-63h0m0 5h0m0 10h0m0 3h0m0 10h0m0 5h0m0 2h0m0 4h0m1-44h0m0 17h0m0 24h0m0 5h0m0 5h0m0 0h0m0 4h0m0 0h0m0 2h0m0 5h0m0 13h0m1-116h0m0 50h0m0 24h0m0 2h0m0 0h0m0 3h0m0 10h0m0 5h0m0 24h0m0 68h0m1-177h0m0 8h0m0 17h0m0 8h0m0 2h0m0 10h0m0 1h0m0 15h0m0 6h0m0 8h0m0 1h0m0 6h0m0 21h0m0 2h0m0 4h0m0 8h0m1-189h0m0 31h0m0 82h0m0 1h0m0 8h0m0 5h0m0 1h0m0 0h0m0 2h0m0 2h0m0 19h0m0 1h0m1-161h0m0 118h0m0 20h0m0 1h0m0 4h0m0 2h0m0 7h0m0 2h0m0 0h0m0 5h0m0 15h0m0 31h0m1-187h0m0 111h0m0 4h0m0 2h0m0 8h0m0 1h0m0 11h0m0 55h0m1-123h0m0 32h0m0 33h0m0 3h0m0 11h0m0 6h0m0 0h0m0 0h0m0 12h0m1-78h0m0 14h0m0 8h0m0 0h0m0 2h0m0 8h0m0 5h0m0 2h0m0 2h0m0 4h0m0 12h0m0 2h0m0 10h0m0 6h0m1-155h0m0 62h0m0 31h0m0 0h0m0 1h0m0 7h0m0 6h0m0 1h0m0 1h0m0 42h0m1-47h0m0 2h0m0 19h0m0 0h0m0 1h0m0 4h0m0 2h0m0 20h0m1-111h0m0 25h0m0 3h0m0 17h0m0 19h0m0 2h0m0 17h0m0 11h0m0 0h0m0 15h0m0 15h0m0 1h0m1-167h0m0 83h0m0 1h0m0 10h0m0 8h0m0 9h0m0 4h0m0 5h0m0 10h0m0 5h0m1-102h0m0 37h0m0 15h0m0 5h0m0 15h0m0 10h0m0 4h0m0 11h0m0 3h0m0 1h0m0 5h0m0 5h0m0 11h0m0 34h0m0 47h0m1-173h0m0 4h0m0 24h0m0 6h0m0 6h0m0 7h0m0 2h0m0 1h0m0 4h0m0 3h0m0 6h0m0 2h0m0 4h0m0 1h0m0 17h0m0 1h0m0 2h0m0 9h0m1-79h0m0 3h0m0 10h0m0 0h0m0 16h0m0 11h0m0 1h0m0 0h0m0 6h0m0 8h0m0 6h0m1-51h0m0 4h0m0 18h0m0 7h0m0 4h0m0 9h0m0 23h0m0 23h0m0 79h0m1-254h0m0 70h0m0 7h0m0 16h0m0 14h0m0 18h0m0 1h0m0 23h0m0 21h0m1-102h0m0 11h0m0 22h0m0 0h0m0 6h0m0 9h0m0 1h0m0 2h0m0 1h0m0 0h0m0 1h0m0 8h0m0 9h0m0 4h0m0 0h0m0 1h0m1-193h0m0 124h0m0 3h0m0 4h0m0 17h0m0 8h0m0 1h0m0 2h0m0 1h0m0 4h0m0 1h0m0 10h0m0 8h0m1-75h0m0 6h0m0 11h0m0 4h0m0 11h0m0 2h0m0 1h0m0 2h0m0 10h0m0 0h0m0 6h0m0 6h0m0 0h0m0 36h0m1-70h0m0 1h0m0 5h0m0 10h0m0 6h0m0 7h0m0 1h0m0 9h0m0 0h0m0 1h0m0 7h0m0 10h0m0 19h0m0 8h0m1-94h0m0 5h0m0 6h0m0 1h0m0 1h0m0 2h0m0 2h0m0 9h0m0 2h0m0 2h0m0 13h0m0 0h0m0 1h0m0 3h0m0 10h0m0 1h0m0 9h0m0 67h0m1-147h0m0 7h0m0 19h0m0 14h0m0 1h0m0 2h0m0 2h0m0 2h0m0 1h0m0 3h0m0 3h0m0 1h0m0 5h0m0 1h0m0 16h0m1-178h0m0 106h0m0 7h0m0 7h0m0 7h0m0 2h0m0 5h0m0 3h0m0 1h0m0 6h0m0 8h0m0 12h0m0 3h0m0 14h0m0 7h0m1-83h0m0 9h0m0 17h0m0 3h0m0 8h0m0 4h0m0 1h0m0 2h0m0 4h0m0 2h0m0 2h0m0 3h0m0 10h0m0 2h0m1-99h0m0 46h0m0 7h0m0 13h0m0 5h0m0 19h0m0 8h0m0 12h0"/></g></defs><g fill="none" stroke="#1f77b4" stroke-width="1.6" stroke-linecap="round" stroke-opacity="0.56" transform="translate(.5 .5)"><use href="#a"/><use href="#b"/><use href="#a" x="225"/><use href="#b" x="226"/></g>
<g fill="none" stroke="#000" stroke-width="1.11">
<rect x="80.5" y="58.5" width="496" height="369"/>
<path d="M103.5 427.5v5M159.5 427.5v5M215.5 427.5v5M272.5 427.5v5M328.5 427.5v5M384.5 427.5v5M441.5 427.5v5M497.5 427.5v5M553.5 427.5v5"/>
<path d="M80.5 77.5h-5M80.5 136.5h-5M80.5 196.5h-5M80.5 255.5h-5M80.5 314.5h-5M80.5 374.5h-5"/>
</g>
<g font-size="13.9" lengthAdjust="spacingAndGlyphs">
<text x="102.5" y="447.5" text-anchor="middle" textLength="41" lengthAdjust="spacingAndGlyphs">−1.00</text>
<text x="158.9" y="447.5" text-anchor="middle" textLength="41" lengthAdjust="spacingAndGlyphs">−0.75</text>
<text x="215.3" y="447.5" text-anchor="middle" textLength="41" lengthAdjust="spacingAndGlyphs">−0.50</text>
<text x="271.6" y="447.5" text-anchor="middle" textLength="41" lengthAdjust="spacingAndGlyphs">−0.25</text>
<text x="328.5" y="447.5" text-anchor="middle" textLength="29" lengthAdjust="spacingAndGlyphs">0.00</text>
<text x="384.9" y="447.5" text-anchor="middle" textLength="29" lengthAdjust="spacingAndGlyphs">0.25</text>
<text x="441.2" y="447.5" text-anchor="middle" textLength="29" lengthAdjust="spacingAndGlyphs">0.50</text>
<text x="497.6" y="447.5" text-anchor="middle" textLength="29" lengthAdjust="spacingAndGlyphs">0.75</text>
<text x="554" y="447.5" text-anchor="middle" textLength="29" lengthAdjust="spacingAndGlyphs">1.00</text>
<text x="61.5" y="378.5" text-anchor="middle" textLength="15.5" lengthAdjust="spacingAndGlyphs">30</text>
<text x="61.5" y="319.5" text-anchor="middle" textLength="15.5" lengthAdjust="spacingAndGlyphs">31</text>
<text x="61.5" y="260.8" text-anchor="middle" textLength="15.5" lengthAdjust="spacingAndGlyphs">32</text>
<text x="61.5" y="200.8" text-anchor="middle" textLength="15.5" lengthAdjust="spacingAndGlyphs">33</text>
<text x="61.5" y="141.5" text-anchor="middle" textLength="15.5" lengthAdjust="spacingAndGlyphs">34</text>
<text x="61.5" y="82.8" text-anchor="middle" textLength="15.5" lengthAdjust="spacingAndGlyphs">35</text>
<text x="327.3" y="467.2" text-anchor="middle" textLength="39.5" lengthAdjust="spacingAndGlyphs">phase</text>
<text transform="translate(43,243.8) rotate(-90)" text-anchor="middle" textLength="24" lengthAdjust="spacingAndGlyphs">flux</text>
</g>
<text x="328.3" y="48.5" font-size="18.5" text-anchor="middle" textLength="428" lengthAdjust="spacingAndGlyphs">1SWASPJ124302.69-523306.6 Period 13100.51758s</text>
</svg>
</body></html>
